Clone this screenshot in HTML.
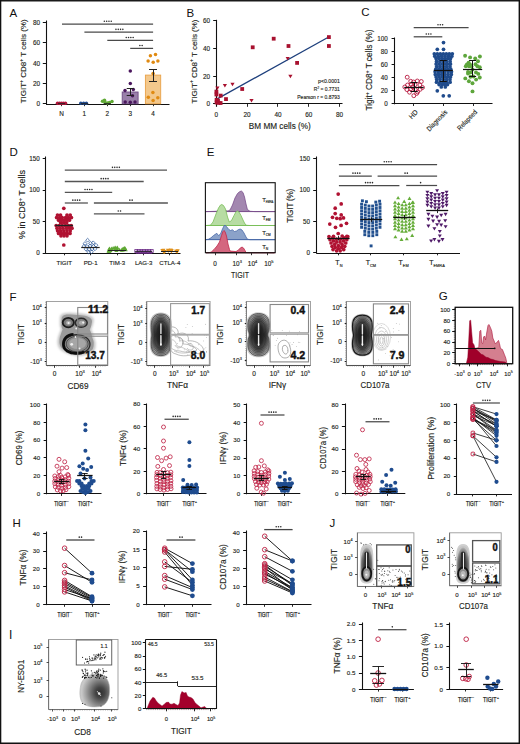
<!DOCTYPE html>
<html><head><meta charset="utf-8"><title>Figure</title>
<style>html,body{margin:0;padding:0;background:#fff;}body{width:520px;height:744px;overflow:hidden;font-family:"Liberation Sans", sans-serif;}svg{display:block;}svg text{stroke:#231f20;stroke-width:0.14px;}</style>
</head><body>
<svg width="520" height="744" viewBox="0 0 520 744" font-family='"Liberation Sans", sans-serif'><defs><filter id="bl1" x="-30%" y="-30%" width="160%" height="160%"><feGaussianBlur stdDeviation="1.2"/></filter><filter id="bl2" x="-30%" y="-30%" width="160%" height="160%"><feGaussianBlur stdDeviation="2.2"/></filter><filter id="bl05" x="-30%" y="-30%" width="160%" height="160%"><feGaussianBlur stdDeviation="0.5"/></filter><radialGradient id="dens" cx="50%" cy="50%" r="50%"><stop offset="0" stop-color="#151515"/><stop offset="0.45" stop-color="#262626"/><stop offset="0.68" stop-color="#484848"/><stop offset="0.84" stop-color="#707070"/><stop offset="0.95" stop-color="#8e8e8e"/><stop offset="1" stop-color="#a0a0a0"/></radialGradient><radialGradient id="halo" cx="50%" cy="50%" r="50%"><stop offset="0" stop-color="#999"/><stop offset="0.8" stop-color="#bbb"/><stop offset="1" stop-color="#fff" stop-opacity="0"/></radialGradient><radialGradient id="tdh" cx="50%" cy="58%" r="55%"><stop offset="0" stop-color="#2a2a2a"/><stop offset="0.45" stop-color="#444"/><stop offset="0.75" stop-color="#727272"/><stop offset="0.92" stop-color="#a0a0a0"/><stop offset="1" stop-color="#c4c4c4"/></radialGradient><radialGradient id="ig" cx="68%" cy="56%" r="62%" fx="68%" fy="57%"><stop offset="0" stop-color="#2e2e2e"/><stop offset="0.25" stop-color="#444"/><stop offset="0.55" stop-color="#7a7a7a"/><stop offset="0.8" stop-color="#a6a6a6"/><stop offset="1" stop-color="#c8c8c8"/></radialGradient></defs><rect x="0" y="0" width="520" height="744" fill="#fff"/><text x="9.60" y="16.88" font-size="11.5" fill="#111" style="stroke:none">A</text>
<line x1="46.50" y1="20.50" x2="46.50" y2="104.30" stroke="#111" stroke-width="1.1"/>
<line x1="42.80" y1="103.50" x2="46.00" y2="103.50" stroke="#111" stroke-width="0.9900000000000001"/>
<text x="40.00" y="106.07" font-size="6.4" text-anchor="end" fill="#231f20">0</text>
<line x1="42.80" y1="83.50" x2="46.00" y2="83.50" stroke="#111" stroke-width="0.9900000000000001"/>
<text x="40.00" y="85.79" font-size="6.4" text-anchor="end" fill="#231f20">20</text>
<line x1="42.80" y1="63.50" x2="46.00" y2="63.50" stroke="#111" stroke-width="0.9900000000000001"/>
<text x="40.00" y="65.51" font-size="6.4" text-anchor="end" fill="#231f20">40</text>
<line x1="42.80" y1="42.50" x2="46.00" y2="42.50" stroke="#111" stroke-width="0.9900000000000001"/>
<text x="40.00" y="45.23" font-size="6.4" text-anchor="end" fill="#231f20">60</text>
<line x1="42.80" y1="22.50" x2="46.00" y2="22.50" stroke="#111" stroke-width="0.9900000000000001"/>
<text x="40.00" y="24.95" font-size="6.4" text-anchor="end" fill="#231f20">80</text>
<line x1="46.00" y1="104.50" x2="169.50" y2="104.50" stroke="#111" stroke-width="1.1"/>
<line x1="61.50" y1="104.00" x2="61.50" y2="106.20" stroke="#111" stroke-width="0.8800000000000001"/>
<line x1="84.50" y1="104.00" x2="84.50" y2="106.20" stroke="#111" stroke-width="0.8800000000000001"/>
<line x1="107.50" y1="104.00" x2="107.50" y2="106.20" stroke="#111" stroke-width="0.8800000000000001"/>
<line x1="130.50" y1="104.00" x2="130.50" y2="106.20" stroke="#111" stroke-width="0.8800000000000001"/>
<line x1="153.50" y1="104.00" x2="153.50" y2="106.20" stroke="#111" stroke-width="0.8800000000000001"/>
<text x="61.50" y="116.07" font-size="6.4" text-anchor="middle" fill="#231f20">N</text>
<text x="84.40" y="116.07" font-size="6.4" text-anchor="middle" fill="#231f20">1</text>
<text x="107.30" y="116.07" font-size="6.4" text-anchor="middle" fill="#231f20">2</text>
<text x="130.20" y="116.07" font-size="6.4" text-anchor="middle" fill="#231f20">3</text>
<text x="153.10" y="116.07" font-size="6.4" text-anchor="middle" fill="#231f20">4</text>
<text x="0" y="0" font-size="7.9" text-anchor="middle" fill="#231f20" transform="translate(26.4 61.3) rotate(-90)" textLength="84" lengthAdjust="spacingAndGlyphs">TIGIT<tspan font-size="5" dy="-3.4">+</tspan><tspan dy="3.4"> CD8</tspan><tspan font-size="5" dy="-3.4">+</tspan><tspan dy="3.4"> T cells (%)</tspan></text>
<path d="M62.00 24.10 L153.10 24.10" fill="none" stroke="#4a4a4a" stroke-width="1.25"/>
<circle cx="104.35" cy="21.25" r="0.78" fill="#2a2a2a" stroke="none" stroke-width="1.0"/>
<circle cx="106.65" cy="21.25" r="0.78" fill="#2a2a2a" stroke="none" stroke-width="1.0"/>
<circle cx="108.95" cy="21.25" r="0.78" fill="#2a2a2a" stroke="none" stroke-width="1.0"/>
<circle cx="111.25" cy="21.25" r="0.78" fill="#2a2a2a" stroke="none" stroke-width="1.0"/>
<path d="M84.40 32.20 L153.10 32.20" fill="none" stroke="#4a4a4a" stroke-width="1.25"/>
<circle cx="115.95" cy="29.35" r="0.78" fill="#2a2a2a" stroke="none" stroke-width="1.0"/>
<circle cx="118.25" cy="29.35" r="0.78" fill="#2a2a2a" stroke="none" stroke-width="1.0"/>
<circle cx="120.55" cy="29.35" r="0.78" fill="#2a2a2a" stroke="none" stroke-width="1.0"/>
<circle cx="122.85" cy="29.35" r="0.78" fill="#2a2a2a" stroke="none" stroke-width="1.0"/>
<path d="M107.30 40.40 L153.10 40.40" fill="none" stroke="#4a4a4a" stroke-width="1.25"/>
<circle cx="126.25" cy="37.55" r="0.78" fill="#2a2a2a" stroke="none" stroke-width="1.0"/>
<circle cx="128.55" cy="37.55" r="0.78" fill="#2a2a2a" stroke="none" stroke-width="1.0"/>
<circle cx="130.85" cy="37.55" r="0.78" fill="#2a2a2a" stroke="none" stroke-width="1.0"/>
<circle cx="133.15" cy="37.55" r="0.78" fill="#2a2a2a" stroke="none" stroke-width="1.0"/>
<path d="M130.20 48.40 L153.10 48.40" fill="none" stroke="#4a4a4a" stroke-width="1.25"/>
<circle cx="139.85" cy="45.55" r="0.78" fill="#2a2a2a" stroke="none" stroke-width="1.0"/>
<circle cx="142.15" cy="45.55" r="0.78" fill="#2a2a2a" stroke="none" stroke-width="1.0"/>
<rect x="122.20" y="92.00" width="15.90" height="11.80" fill="#9a80aa" stroke="#6f4c86" stroke-width="0.9"/>
<rect x="145.40" y="75.10" width="15.30" height="28.70" fill="#f3c88c" stroke="#e9a247" stroke-width="0.9"/>
<circle cx="57.50" cy="103.20" r="1.75" fill="#b0153a" stroke="none" stroke-width="1.0"/>
<circle cx="59.50" cy="103.20" r="1.75" fill="#b0153a" stroke="none" stroke-width="1.0"/>
<circle cx="61.50" cy="103.20" r="1.75" fill="#b0153a" stroke="none" stroke-width="1.0"/>
<circle cx="63.50" cy="103.20" r="1.75" fill="#b0153a" stroke="none" stroke-width="1.0"/>
<circle cx="65.50" cy="103.20" r="1.75" fill="#b0153a" stroke="none" stroke-width="1.0"/>
<circle cx="80.80" cy="103.20" r="1.75" fill="#1f4b8e" stroke="none" stroke-width="1.0"/>
<circle cx="83.60" cy="103.20" r="1.75" fill="#1f4b8e" stroke="none" stroke-width="1.0"/>
<circle cx="86.40" cy="103.20" r="1.75" fill="#1f4b8e" stroke="none" stroke-width="1.0"/>
<circle cx="102.50" cy="101.30" r="1.75" fill="#5fa834" stroke="none" stroke-width="1.0"/>
<circle cx="105.00" cy="102.50" r="1.75" fill="#5fa834" stroke="none" stroke-width="1.0"/>
<circle cx="107.30" cy="103.00" r="1.75" fill="#5fa834" stroke="none" stroke-width="1.0"/>
<circle cx="109.50" cy="102.50" r="1.75" fill="#5fa834" stroke="none" stroke-width="1.0"/>
<circle cx="112.00" cy="101.50" r="1.75" fill="#5fa834" stroke="none" stroke-width="1.0"/>
<circle cx="104.50" cy="100.30" r="1.75" fill="#5fa834" stroke="none" stroke-width="1.0"/>
<circle cx="130.30" cy="70.90" r="1.75" fill="#4b175e" stroke="none" stroke-width="1.0"/>
<circle cx="130.30" cy="83.60" r="1.75" fill="#4b175e" stroke="none" stroke-width="1.0"/>
<circle cx="125.00" cy="90.60" r="1.75" fill="#4b175e" stroke="none" stroke-width="1.0"/>
<circle cx="133.30" cy="89.40" r="1.75" fill="#4b175e" stroke="none" stroke-width="1.0"/>
<circle cx="132.50" cy="95.70" r="1.75" fill="#4b175e" stroke="none" stroke-width="1.0"/>
<circle cx="125.20" cy="102.00" r="1.75" fill="#4b175e" stroke="none" stroke-width="1.0"/>
<circle cx="130.30" cy="102.30" r="1.75" fill="#4b175e" stroke="none" stroke-width="1.0"/>
<circle cx="135.00" cy="102.00" r="1.75" fill="#4b175e" stroke="none" stroke-width="1.0"/>
<circle cx="150.40" cy="55.70" r="1.75" fill="#e08a12" stroke="none" stroke-width="1.0"/>
<circle cx="155.50" cy="54.50" r="1.75" fill="#e08a12" stroke="none" stroke-width="1.0"/>
<circle cx="148.10" cy="61.00" r="1.75" fill="#e08a12" stroke="none" stroke-width="1.0"/>
<circle cx="153.20" cy="62.20" r="1.75" fill="#e08a12" stroke="none" stroke-width="1.0"/>
<circle cx="157.90" cy="60.90" r="1.75" fill="#e08a12" stroke="none" stroke-width="1.0"/>
<circle cx="153.10" cy="73.40" r="1.75" fill="#e08a12" stroke="none" stroke-width="1.0"/>
<circle cx="152.90" cy="92.60" r="1.75" fill="#e08a12" stroke="none" stroke-width="1.0"/>
<circle cx="148.30" cy="97.30" r="1.75" fill="#e08a12" stroke="none" stroke-width="1.0"/>
<circle cx="153.10" cy="100.50" r="1.75" fill="#e08a12" stroke="none" stroke-width="1.0"/>
<circle cx="157.80" cy="97.80" r="1.75" fill="#e08a12" stroke="none" stroke-width="1.0"/>
<line x1="130.50" y1="88.60" x2="130.50" y2="95.70" stroke="#222" stroke-width="1.0"/>
<line x1="126.70" y1="88.50" x2="133.90" y2="88.50" stroke="#222" stroke-width="1.0"/>
<line x1="126.70" y1="95.50" x2="133.90" y2="95.50" stroke="#222" stroke-width="1.0"/>
<line x1="153.50" y1="69.40" x2="153.50" y2="81.70" stroke="#222" stroke-width="1.0"/>
<line x1="149.00" y1="69.50" x2="157.00" y2="69.50" stroke="#222" stroke-width="1.0"/>
<line x1="149.00" y1="81.50" x2="157.00" y2="81.50" stroke="#222" stroke-width="1.0"/>
<line x1="58.00" y1="103.50" x2="65.00" y2="103.50" stroke="#222" stroke-width="0.8"/>
<line x1="80.90" y1="103.50" x2="87.90" y2="103.50" stroke="#222" stroke-width="0.8"/>
<line x1="103.80" y1="103.50" x2="110.80" y2="103.50" stroke="#222" stroke-width="0.8"/>
<text x="186.60" y="17.48" font-size="11.5" fill="#111" style="stroke:none">B</text>
<line x1="216.50" y1="19.80" x2="216.50" y2="106.80" stroke="#111" stroke-width="1.1"/>
<line x1="213.20" y1="103.50" x2="216.30" y2="103.50" stroke="#111" stroke-width="1.0"/>
<text x="210.10" y="106.17" font-size="6.4" text-anchor="end" fill="#231f20">0</text>
<line x1="213.20" y1="76.50" x2="216.30" y2="76.50" stroke="#111" stroke-width="1.0"/>
<text x="210.10" y="78.51" font-size="6.4" text-anchor="end" fill="#231f20">20</text>
<line x1="213.20" y1="48.50" x2="216.30" y2="48.50" stroke="#111" stroke-width="1.0"/>
<text x="210.10" y="50.84" font-size="6.4" text-anchor="end" fill="#231f20">40</text>
<line x1="213.20" y1="20.50" x2="216.30" y2="20.50" stroke="#111" stroke-width="1.0"/>
<text x="210.10" y="23.17" font-size="6.4" text-anchor="end" fill="#231f20">60</text>
<line x1="213.40" y1="103.50" x2="342.50" y2="103.50" stroke="#111" stroke-width="1.1"/>
<line x1="247.50" y1="103.90" x2="247.50" y2="106.80" stroke="#111" stroke-width="0.9"/>
<line x1="277.50" y1="103.90" x2="277.50" y2="106.80" stroke="#111" stroke-width="0.9"/>
<line x1="308.50" y1="103.90" x2="308.50" y2="106.80" stroke="#111" stroke-width="0.9"/>
<line x1="339.50" y1="103.90" x2="339.50" y2="106.80" stroke="#111" stroke-width="0.9"/>
<text x="216.30" y="116.67" font-size="6.4" text-anchor="middle" fill="#231f20">0</text>
<text x="247.12" y="116.67" font-size="6.4" text-anchor="middle" fill="#231f20">20</text>
<text x="277.94" y="116.67" font-size="6.4" text-anchor="middle" fill="#231f20">40</text>
<text x="308.76" y="116.67" font-size="6.4" text-anchor="middle" fill="#231f20">60</text>
<text x="339.58" y="116.67" font-size="6.4" text-anchor="middle" fill="#231f20">80</text>
<text x="279.80" y="128.55" font-size="8.3" text-anchor="middle" textLength="62" lengthAdjust="spacingAndGlyphs" fill="#231f20">BM MM cells (%)</text>
<text x="0" y="0" font-size="7.9" text-anchor="middle" fill="#231f20" transform="translate(196.6 61.5) rotate(-90)" textLength="84" lengthAdjust="spacingAndGlyphs">TIGIT<tspan font-size="5" dy="-3.4">+</tspan><tspan dy="3.4"> CD8</tspan><tspan font-size="5" dy="-3.4">+</tspan><tspan dy="3.4"> T cells (%)</tspan></text>
<path d="M216.8 99.1 L329.6 36.5" fill="none" stroke="#1d3f7c" stroke-width="1.3"/>
<rect x="271.80" y="36.80" width="3.80" height="3.80" fill="#a8112f" stroke="none" stroke-width="1.0"/>
<rect x="250.80" y="45.40" width="3.80" height="3.80" fill="#a8112f" stroke="none" stroke-width="1.0"/>
<rect x="286.60" y="44.10" width="3.80" height="3.80" fill="#a8112f" stroke="none" stroke-width="1.0"/>
<rect x="327.00" y="35.20" width="3.80" height="3.80" fill="#a8112f" stroke="none" stroke-width="1.0"/>
<rect x="327.00" y="44.10" width="3.80" height="3.80" fill="#a8112f" stroke="none" stroke-width="1.0"/>
<rect x="295.20" y="61.00" width="3.80" height="3.80" fill="#a8112f" stroke="none" stroke-width="1.0"/>
<rect x="240.30" y="87.10" width="3.80" height="3.80" fill="#a8112f" stroke="none" stroke-width="1.0"/>
<rect x="224.10" y="97.20" width="3.80" height="3.80" fill="#a8112f" stroke="none" stroke-width="1.0"/>
<rect x="218.80" y="93.70" width="3.80" height="3.80" fill="#a8112f" stroke="none" stroke-width="1.0"/>
<rect x="214.50" y="89.70" width="3.80" height="3.80" fill="#a8112f" stroke="none" stroke-width="1.0"/>
<rect x="214.50" y="92.60" width="3.80" height="3.80" fill="#a8112f" stroke="none" stroke-width="1.0"/>
<rect x="214.70" y="97.90" width="3.80" height="3.80" fill="#a8112f" stroke="none" stroke-width="1.0"/>
<rect x="214.70" y="100.60" width="3.80" height="3.80" fill="#a8112f" stroke="none" stroke-width="1.0"/>
<rect x="216.60" y="100.90" width="3.80" height="3.80" fill="#a8112f" stroke="none" stroke-width="1.0"/>
<rect x="218.70" y="101.10" width="3.80" height="3.80" fill="#a8112f" stroke="none" stroke-width="1.0"/>
<rect x="216.10" y="98.90" width="3.80" height="3.80" fill="#a8112f" stroke="none" stroke-width="1.0"/>
<path d="M215.30 86.60 L219.50 86.60 L217.40 90.10 Z" fill="#a8112f" stroke="none" stroke-width="1.0"/>
<path d="M222.80 84.00 L227.00 84.00 L224.90 87.50 Z" fill="#a8112f" stroke="none" stroke-width="1.0"/>
<path d="M230.40 82.70 L234.60 82.70 L232.50 86.20 Z" fill="#a8112f" stroke="none" stroke-width="1.0"/>
<path d="M285.60 57.00 L289.80 57.00 L287.70 60.50 Z" fill="#a8112f" stroke="none" stroke-width="1.0"/>
<path d="M288.30 74.80 L292.50 74.80 L290.40 78.30 Z" fill="#a8112f" stroke="none" stroke-width="1.0"/>
<path d="M249.40 99.00 L253.60 99.00 L251.50 102.50 Z" fill="#a8112f" stroke="none" stroke-width="1.0"/>
<text x="339.80" y="82.65" font-size="5.5" text-anchor="end" textLength="21.7" lengthAdjust="spacingAndGlyphs" fill="#231f20">p&lt;0.0001</text>
<text x="339.8" y="91.15" font-size="5.5" text-anchor="end" fill="#231f20" textLength="26" lengthAdjust="spacingAndGlyphs">R<tspan font-size="3.4" dy="-2.4">2</tspan><tspan dy="2.4"> = 0.7731</tspan></text>
<text x="339.80" y="99.45" font-size="5.5" text-anchor="end" textLength="42.5" lengthAdjust="spacingAndGlyphs" fill="#231f20">Pearson r = 0.8793</text>
<text x="361.20" y="16.28" font-size="11.5" fill="#111" style="stroke:none">C</text>
<line x1="394.50" y1="37.50" x2="394.50" y2="104.30" stroke="#111" stroke-width="1.1"/>
<line x1="391.60" y1="103.50" x2="394.70" y2="103.50" stroke="#111" stroke-width="1.0"/>
<text x="387.80" y="106.04" font-size="6.3" text-anchor="end" fill="#231f20">0</text>
<line x1="391.60" y1="90.50" x2="394.70" y2="90.50" stroke="#111" stroke-width="1.0"/>
<text x="387.80" y="93.02" font-size="6.3" text-anchor="end" fill="#231f20">20</text>
<line x1="391.60" y1="77.50" x2="394.70" y2="77.50" stroke="#111" stroke-width="1.0"/>
<text x="387.80" y="80.00" font-size="6.3" text-anchor="end" fill="#231f20">40</text>
<line x1="391.60" y1="64.50" x2="394.70" y2="64.50" stroke="#111" stroke-width="1.0"/>
<text x="387.80" y="66.98" font-size="6.3" text-anchor="end" fill="#231f20">60</text>
<line x1="391.60" y1="51.50" x2="394.70" y2="51.50" stroke="#111" stroke-width="1.0"/>
<text x="387.80" y="53.96" font-size="6.3" text-anchor="end" fill="#231f20">80</text>
<line x1="391.60" y1="38.50" x2="394.70" y2="38.50" stroke="#111" stroke-width="1.0"/>
<text x="387.80" y="40.94" font-size="6.3" text-anchor="end" fill="#231f20">100</text>
<line x1="394.70" y1="103.50" x2="492.50" y2="103.50" stroke="#111" stroke-width="1.1"/>
<line x1="413.50" y1="103.80" x2="413.50" y2="106.00" stroke="#111" stroke-width="0.9"/>
<line x1="443.50" y1="103.80" x2="443.50" y2="106.00" stroke="#111" stroke-width="0.9"/>
<line x1="473.50" y1="103.80" x2="473.50" y2="106.00" stroke="#111" stroke-width="0.9"/>
<text x="0" y="0" font-size="8.3" text-anchor="middle" fill="#231f20" transform="translate(372.2 70) rotate(-90)" textLength="81" lengthAdjust="spacingAndGlyphs">Tigit<tspan font-size="5" dy="-3.4">+</tspan><tspan dy="3.4"> CD8</tspan><tspan font-size="5" dy="-3.4">+</tspan><tspan dy="3.4"> T cells (%)</tspan></text>
<text x="0" y="0" font-size="6.9" text-anchor="end" fill="#231f20" transform="translate(418.30 112.60) rotate(-46)" textLength="9.6" lengthAdjust="spacingAndGlyphs">HD</text>
<text x="0" y="0" font-size="6.9" text-anchor="end" fill="#231f20" transform="translate(447.80 112.60) rotate(-46)" textLength="26.5" lengthAdjust="spacingAndGlyphs">Diagnosis</text>
<text x="0" y="0" font-size="6.9" text-anchor="end" fill="#231f20" transform="translate(477.60 112.60) rotate(-46)" textLength="25.5" lengthAdjust="spacingAndGlyphs">Relapsed</text>
<path d="M413.70 27.60 L468.60 27.60" fill="none" stroke="#4a4a4a" stroke-width="1.25"/>
<circle cx="438.00" cy="24.75" r="0.78" fill="#2a2a2a" stroke="none" stroke-width="1.0"/>
<circle cx="440.30" cy="24.75" r="0.78" fill="#2a2a2a" stroke="none" stroke-width="1.0"/>
<circle cx="442.60" cy="24.75" r="0.78" fill="#2a2a2a" stroke="none" stroke-width="1.0"/>
<path d="M413.70 36.80 L442.30 36.80" fill="none" stroke="#4a4a4a" stroke-width="1.25"/>
<circle cx="426.30" cy="33.95" r="0.78" fill="#2a2a2a" stroke="none" stroke-width="1.0"/>
<circle cx="428.60" cy="33.95" r="0.78" fill="#2a2a2a" stroke="none" stroke-width="1.0"/>
<circle cx="430.90" cy="33.95" r="0.78" fill="#2a2a2a" stroke="none" stroke-width="1.0"/>
<circle cx="407.20" cy="77.20" r="1.95" fill="none" stroke="#b81a40" stroke-width="0.9"/>
<circle cx="410.70" cy="81.30" r="1.95" fill="none" stroke="#b81a40" stroke-width="0.9"/>
<circle cx="417.30" cy="81.00" r="1.95" fill="none" stroke="#b81a40" stroke-width="0.9"/>
<circle cx="421.30" cy="81.50" r="1.95" fill="none" stroke="#b81a40" stroke-width="0.9"/>
<circle cx="407.50" cy="85.00" r="1.95" fill="none" stroke="#b81a40" stroke-width="0.9"/>
<circle cx="411.30" cy="84.40" r="1.95" fill="none" stroke="#b81a40" stroke-width="0.9"/>
<circle cx="415.00" cy="84.70" r="1.95" fill="none" stroke="#b81a40" stroke-width="0.9"/>
<circle cx="419.90" cy="85.00" r="1.95" fill="none" stroke="#b81a40" stroke-width="0.9"/>
<circle cx="406.90" cy="89.60" r="1.95" fill="none" stroke="#b81a40" stroke-width="0.9"/>
<circle cx="410.70" cy="89.00" r="1.95" fill="none" stroke="#b81a40" stroke-width="0.9"/>
<circle cx="415.30" cy="89.60" r="1.95" fill="none" stroke="#b81a40" stroke-width="0.9"/>
<circle cx="420.20" cy="89.30" r="1.95" fill="none" stroke="#b81a40" stroke-width="0.9"/>
<circle cx="409.50" cy="92.20" r="1.95" fill="none" stroke="#b81a40" stroke-width="0.9"/>
<circle cx="416.70" cy="93.40" r="1.95" fill="none" stroke="#b81a40" stroke-width="0.9"/>
<circle cx="413.80" cy="95.70" r="1.95" fill="none" stroke="#b81a40" stroke-width="0.9"/>
<circle cx="417.60" cy="91.90" r="1.95" fill="none" stroke="#b81a40" stroke-width="0.9"/>
<circle cx="413.50" cy="82.00" r="1.95" fill="none" stroke="#b81a40" stroke-width="0.9"/>
<circle cx="404.80" cy="87.00" r="1.95" fill="none" stroke="#b81a40" stroke-width="0.9"/>
<circle cx="422.50" cy="87.50" r="1.95" fill="none" stroke="#b81a40" stroke-width="0.9"/>
<circle cx="412.50" cy="87.00" r="1.95" fill="none" stroke="#b81a40" stroke-width="0.9"/>
<circle cx="443.50" cy="42.60" r="1.85" fill="#1f4b8c" stroke="none" stroke-width="1.0"/>
<circle cx="437.30" cy="49.30" r="1.85" fill="#1f4b8c" stroke="none" stroke-width="1.0"/>
<circle cx="443.50" cy="49.30" r="1.85" fill="#1f4b8c" stroke="none" stroke-width="1.0"/>
<circle cx="437.30" cy="90.80" r="1.85" fill="#1f4b8c" stroke="none" stroke-width="1.0"/>
<circle cx="443.30" cy="95.80" r="1.85" fill="#1f4b8c" stroke="none" stroke-width="1.0"/>
<circle cx="449.20" cy="95.80" r="1.85" fill="#1f4b8c" stroke="none" stroke-width="1.0"/>
<circle cx="434.30" cy="53.80" r="1.85" fill="#1f4b8c" stroke="none" stroke-width="1.0"/>
<circle cx="437.30" cy="53.80" r="1.85" fill="#1f4b8c" stroke="none" stroke-width="1.0"/>
<circle cx="440.30" cy="53.80" r="1.85" fill="#1f4b8c" stroke="none" stroke-width="1.0"/>
<circle cx="443.30" cy="53.80" r="1.85" fill="#1f4b8c" stroke="none" stroke-width="1.0"/>
<circle cx="446.30" cy="53.80" r="1.85" fill="#1f4b8c" stroke="none" stroke-width="1.0"/>
<circle cx="449.30" cy="53.80" r="1.85" fill="#1f4b8c" stroke="none" stroke-width="1.0"/>
<circle cx="452.30" cy="53.80" r="1.85" fill="#1f4b8c" stroke="none" stroke-width="1.0"/>
<circle cx="434.80" cy="56.20" r="1.85" fill="#1f4b8c" stroke="none" stroke-width="1.0"/>
<circle cx="438.20" cy="56.20" r="1.85" fill="#1f4b8c" stroke="none" stroke-width="1.0"/>
<circle cx="441.60" cy="56.20" r="1.85" fill="#1f4b8c" stroke="none" stroke-width="1.0"/>
<circle cx="445.00" cy="56.20" r="1.85" fill="#1f4b8c" stroke="none" stroke-width="1.0"/>
<circle cx="448.40" cy="56.20" r="1.85" fill="#1f4b8c" stroke="none" stroke-width="1.0"/>
<circle cx="451.80" cy="56.20" r="1.85" fill="#1f4b8c" stroke="none" stroke-width="1.0"/>
<circle cx="436.10" cy="58.60" r="1.85" fill="#1f4b8c" stroke="none" stroke-width="1.0"/>
<circle cx="438.98" cy="58.60" r="1.85" fill="#1f4b8c" stroke="none" stroke-width="1.0"/>
<circle cx="441.86" cy="58.60" r="1.85" fill="#1f4b8c" stroke="none" stroke-width="1.0"/>
<circle cx="444.74" cy="58.60" r="1.85" fill="#1f4b8c" stroke="none" stroke-width="1.0"/>
<circle cx="447.62" cy="58.60" r="1.85" fill="#1f4b8c" stroke="none" stroke-width="1.0"/>
<circle cx="450.50" cy="58.60" r="1.85" fill="#1f4b8c" stroke="none" stroke-width="1.0"/>
<circle cx="436.50" cy="61.40" r="1.85" fill="#1f4b8c" stroke="none" stroke-width="1.0"/>
<circle cx="439.90" cy="61.40" r="1.85" fill="#1f4b8c" stroke="none" stroke-width="1.0"/>
<circle cx="443.30" cy="61.40" r="1.85" fill="#1f4b8c" stroke="none" stroke-width="1.0"/>
<circle cx="446.70" cy="61.40" r="1.85" fill="#1f4b8c" stroke="none" stroke-width="1.0"/>
<circle cx="450.10" cy="61.40" r="1.85" fill="#1f4b8c" stroke="none" stroke-width="1.0"/>
<circle cx="436.10" cy="64.00" r="1.85" fill="#1f4b8c" stroke="none" stroke-width="1.0"/>
<circle cx="438.98" cy="64.00" r="1.85" fill="#1f4b8c" stroke="none" stroke-width="1.0"/>
<circle cx="441.86" cy="64.00" r="1.85" fill="#1f4b8c" stroke="none" stroke-width="1.0"/>
<circle cx="444.74" cy="64.00" r="1.85" fill="#1f4b8c" stroke="none" stroke-width="1.0"/>
<circle cx="447.62" cy="64.00" r="1.85" fill="#1f4b8c" stroke="none" stroke-width="1.0"/>
<circle cx="450.50" cy="64.00" r="1.85" fill="#1f4b8c" stroke="none" stroke-width="1.0"/>
<circle cx="436.70" cy="66.60" r="1.85" fill="#1f4b8c" stroke="none" stroke-width="1.0"/>
<circle cx="440.00" cy="66.60" r="1.85" fill="#1f4b8c" stroke="none" stroke-width="1.0"/>
<circle cx="443.30" cy="66.60" r="1.85" fill="#1f4b8c" stroke="none" stroke-width="1.0"/>
<circle cx="446.60" cy="66.60" r="1.85" fill="#1f4b8c" stroke="none" stroke-width="1.0"/>
<circle cx="449.90" cy="66.60" r="1.85" fill="#1f4b8c" stroke="none" stroke-width="1.0"/>
<circle cx="435.80" cy="69.20" r="1.85" fill="#1f4b8c" stroke="none" stroke-width="1.0"/>
<circle cx="438.80" cy="69.20" r="1.85" fill="#1f4b8c" stroke="none" stroke-width="1.0"/>
<circle cx="441.80" cy="69.20" r="1.85" fill="#1f4b8c" stroke="none" stroke-width="1.0"/>
<circle cx="444.80" cy="69.20" r="1.85" fill="#1f4b8c" stroke="none" stroke-width="1.0"/>
<circle cx="447.80" cy="69.20" r="1.85" fill="#1f4b8c" stroke="none" stroke-width="1.0"/>
<circle cx="450.80" cy="69.20" r="1.85" fill="#1f4b8c" stroke="none" stroke-width="1.0"/>
<circle cx="435.10" cy="71.80" r="1.85" fill="#1f4b8c" stroke="none" stroke-width="1.0"/>
<circle cx="438.38" cy="71.80" r="1.85" fill="#1f4b8c" stroke="none" stroke-width="1.0"/>
<circle cx="441.66" cy="71.80" r="1.85" fill="#1f4b8c" stroke="none" stroke-width="1.0"/>
<circle cx="444.94" cy="71.80" r="1.85" fill="#1f4b8c" stroke="none" stroke-width="1.0"/>
<circle cx="448.22" cy="71.80" r="1.85" fill="#1f4b8c" stroke="none" stroke-width="1.0"/>
<circle cx="451.50" cy="71.80" r="1.85" fill="#1f4b8c" stroke="none" stroke-width="1.0"/>
<circle cx="435.30" cy="74.40" r="1.85" fill="#1f4b8c" stroke="none" stroke-width="1.0"/>
<circle cx="438.50" cy="74.40" r="1.85" fill="#1f4b8c" stroke="none" stroke-width="1.0"/>
<circle cx="441.70" cy="74.40" r="1.85" fill="#1f4b8c" stroke="none" stroke-width="1.0"/>
<circle cx="444.90" cy="74.40" r="1.85" fill="#1f4b8c" stroke="none" stroke-width="1.0"/>
<circle cx="448.10" cy="74.40" r="1.85" fill="#1f4b8c" stroke="none" stroke-width="1.0"/>
<circle cx="451.30" cy="74.40" r="1.85" fill="#1f4b8c" stroke="none" stroke-width="1.0"/>
<circle cx="436.10" cy="77.00" r="1.85" fill="#1f4b8c" stroke="none" stroke-width="1.0"/>
<circle cx="438.98" cy="77.00" r="1.85" fill="#1f4b8c" stroke="none" stroke-width="1.0"/>
<circle cx="441.86" cy="77.00" r="1.85" fill="#1f4b8c" stroke="none" stroke-width="1.0"/>
<circle cx="444.74" cy="77.00" r="1.85" fill="#1f4b8c" stroke="none" stroke-width="1.0"/>
<circle cx="447.62" cy="77.00" r="1.85" fill="#1f4b8c" stroke="none" stroke-width="1.0"/>
<circle cx="450.50" cy="77.00" r="1.85" fill="#1f4b8c" stroke="none" stroke-width="1.0"/>
<circle cx="436.70" cy="79.60" r="1.85" fill="#1f4b8c" stroke="none" stroke-width="1.0"/>
<circle cx="440.00" cy="79.60" r="1.85" fill="#1f4b8c" stroke="none" stroke-width="1.0"/>
<circle cx="443.30" cy="79.60" r="1.85" fill="#1f4b8c" stroke="none" stroke-width="1.0"/>
<circle cx="446.60" cy="79.60" r="1.85" fill="#1f4b8c" stroke="none" stroke-width="1.0"/>
<circle cx="449.90" cy="79.60" r="1.85" fill="#1f4b8c" stroke="none" stroke-width="1.0"/>
<circle cx="436.50" cy="82.20" r="1.85" fill="#1f4b8c" stroke="none" stroke-width="1.0"/>
<circle cx="439.90" cy="82.20" r="1.85" fill="#1f4b8c" stroke="none" stroke-width="1.0"/>
<circle cx="443.30" cy="82.20" r="1.85" fill="#1f4b8c" stroke="none" stroke-width="1.0"/>
<circle cx="446.70" cy="82.20" r="1.85" fill="#1f4b8c" stroke="none" stroke-width="1.0"/>
<circle cx="450.10" cy="82.20" r="1.85" fill="#1f4b8c" stroke="none" stroke-width="1.0"/>
<circle cx="439.10" cy="84.60" r="1.85" fill="#1f4b8c" stroke="none" stroke-width="1.0"/>
<circle cx="441.90" cy="84.60" r="1.85" fill="#1f4b8c" stroke="none" stroke-width="1.0"/>
<circle cx="444.70" cy="84.60" r="1.85" fill="#1f4b8c" stroke="none" stroke-width="1.0"/>
<circle cx="447.50" cy="84.60" r="1.85" fill="#1f4b8c" stroke="none" stroke-width="1.0"/>
<circle cx="441.30" cy="87.00" r="1.85" fill="#1f4b8c" stroke="none" stroke-width="1.0"/>
<circle cx="445.30" cy="87.00" r="1.85" fill="#1f4b8c" stroke="none" stroke-width="1.0"/>
<circle cx="465.10" cy="55.70" r="1.95" fill="#5ea63c" stroke="none" stroke-width="1.0"/>
<circle cx="470.10" cy="57.40" r="1.95" fill="#5ea63c" stroke="none" stroke-width="1.0"/>
<circle cx="475.20" cy="58.50" r="1.95" fill="#5ea63c" stroke="none" stroke-width="1.0"/>
<circle cx="479.90" cy="56.50" r="1.95" fill="#5ea63c" stroke="none" stroke-width="1.0"/>
<circle cx="478.00" cy="61.20" r="1.95" fill="#5ea63c" stroke="none" stroke-width="1.0"/>
<circle cx="468.60" cy="62.70" r="1.95" fill="#5ea63c" stroke="none" stroke-width="1.0"/>
<circle cx="466.90" cy="64.50" r="1.95" fill="#5ea63c" stroke="none" stroke-width="1.0"/>
<circle cx="470.00" cy="64.50" r="1.95" fill="#5ea63c" stroke="none" stroke-width="1.0"/>
<circle cx="465.80" cy="66.30" r="1.95" fill="#5ea63c" stroke="none" stroke-width="1.0"/>
<circle cx="469.00" cy="66.30" r="1.95" fill="#5ea63c" stroke="none" stroke-width="1.0"/>
<circle cx="471.50" cy="66.30" r="1.95" fill="#5ea63c" stroke="none" stroke-width="1.0"/>
<circle cx="475.50" cy="64.20" r="1.95" fill="#5ea63c" stroke="none" stroke-width="1.0"/>
<circle cx="477.40" cy="66.30" r="1.95" fill="#5ea63c" stroke="none" stroke-width="1.0"/>
<circle cx="479.80" cy="67.20" r="1.95" fill="#5ea63c" stroke="none" stroke-width="1.0"/>
<circle cx="472.50" cy="69.50" r="1.95" fill="#5ea63c" stroke="none" stroke-width="1.0"/>
<circle cx="468.00" cy="72.00" r="1.95" fill="#5ea63c" stroke="none" stroke-width="1.0"/>
<circle cx="470.40" cy="72.40" r="1.95" fill="#5ea63c" stroke="none" stroke-width="1.0"/>
<circle cx="476.00" cy="72.40" r="1.95" fill="#5ea63c" stroke="none" stroke-width="1.0"/>
<circle cx="468.00" cy="73.60" r="1.95" fill="#5ea63c" stroke="none" stroke-width="1.0"/>
<circle cx="478.30" cy="73.90" r="1.95" fill="#5ea63c" stroke="none" stroke-width="1.0"/>
<circle cx="465.30" cy="78.40" r="1.95" fill="#5ea63c" stroke="none" stroke-width="1.0"/>
<circle cx="468.90" cy="81.20" r="1.95" fill="#5ea63c" stroke="none" stroke-width="1.0"/>
<circle cx="472.50" cy="83.30" r="1.95" fill="#5ea63c" stroke="none" stroke-width="1.0"/>
<circle cx="476.10" cy="79.60" r="1.95" fill="#5ea63c" stroke="none" stroke-width="1.0"/>
<circle cx="479.80" cy="77.50" r="1.95" fill="#5ea63c" stroke="none" stroke-width="1.0"/>
<circle cx="472.50" cy="91.40" r="1.95" fill="#5ea63c" stroke="none" stroke-width="1.0"/>
<circle cx="473.50" cy="76.50" r="1.95" fill="#5ea63c" stroke="none" stroke-width="1.0"/>
<circle cx="470.50" cy="76.80" r="1.95" fill="#5ea63c" stroke="none" stroke-width="1.0"/>
<line x1="404.30" y1="87.50" x2="423.70" y2="87.50" stroke="#111" stroke-width="1.2"/>
<line x1="414.50" y1="82.20" x2="414.50" y2="91.60" stroke="#111" stroke-width="1.0"/>
<line x1="410.50" y1="82.50" x2="417.50" y2="82.50" stroke="#111" stroke-width="1.0"/>
<line x1="410.50" y1="91.50" x2="417.50" y2="91.50" stroke="#111" stroke-width="1.0"/>
<line x1="433.80" y1="70.50" x2="452.80" y2="70.50" stroke="#111" stroke-width="1.2"/>
<line x1="443.50" y1="60.30" x2="443.50" y2="81.30" stroke="#111" stroke-width="1.0"/>
<line x1="439.80" y1="60.50" x2="446.80" y2="60.50" stroke="#111" stroke-width="1.0"/>
<line x1="439.80" y1="81.50" x2="446.80" y2="81.50" stroke="#111" stroke-width="1.0"/>
<line x1="463.00" y1="69.50" x2="482.20" y2="69.50" stroke="#111" stroke-width="1.2"/>
<line x1="472.50" y1="60.80" x2="472.50" y2="76.30" stroke="#111" stroke-width="1.0"/>
<line x1="469.10" y1="60.50" x2="476.10" y2="60.50" stroke="#111" stroke-width="1.0"/>
<line x1="469.10" y1="76.50" x2="476.10" y2="76.50" stroke="#111" stroke-width="1.0"/>
<text x="9.60" y="156.08" font-size="11.5" fill="#111" style="stroke:none">D</text>
<line x1="45.50" y1="156.50" x2="45.50" y2="253.60" stroke="#111" stroke-width="1.1"/>
<line x1="42.70" y1="253.50" x2="45.90" y2="253.50" stroke="#111" stroke-width="1.0"/>
<text x="39.70" y="255.34" font-size="6.3" text-anchor="end" fill="#231f20">0</text>
<line x1="42.70" y1="221.50" x2="45.90" y2="221.50" stroke="#111" stroke-width="1.0"/>
<text x="39.70" y="223.85" font-size="6.3" text-anchor="end" fill="#231f20">50</text>
<line x1="42.70" y1="190.50" x2="45.90" y2="190.50" stroke="#111" stroke-width="1.0"/>
<text x="39.70" y="192.37" font-size="6.3" text-anchor="end" fill="#231f20">100</text>
<line x1="42.70" y1="158.50" x2="45.90" y2="158.50" stroke="#111" stroke-width="1.0"/>
<text x="39.70" y="160.88" font-size="6.3" text-anchor="end" fill="#231f20">150</text>
<line x1="45.90" y1="253.50" x2="180.50" y2="253.50" stroke="#111" stroke-width="1.1"/>
<line x1="64.50" y1="253.10" x2="64.50" y2="255.30" stroke="#111" stroke-width="0.9"/>
<line x1="90.50" y1="253.10" x2="90.50" y2="255.30" stroke="#111" stroke-width="0.9"/>
<line x1="117.50" y1="253.10" x2="117.50" y2="255.30" stroke="#111" stroke-width="0.9"/>
<line x1="143.50" y1="253.10" x2="143.50" y2="255.30" stroke="#111" stroke-width="0.9"/>
<line x1="169.50" y1="253.10" x2="169.50" y2="255.30" stroke="#111" stroke-width="0.9"/>
<text x="64.20" y="265.37" font-size="6.1" text-anchor="middle" fill="#231f20">TIGIT</text>
<text x="90.60" y="265.37" font-size="6.1" text-anchor="middle" fill="#231f20">PD-1</text>
<text x="117.30" y="265.37" font-size="6.1" text-anchor="middle" fill="#231f20">TIM-3</text>
<text x="143.70" y="265.37" font-size="6.1" text-anchor="middle" fill="#231f20">LAG-3</text>
<text x="169.80" y="265.37" font-size="6.1" text-anchor="middle" fill="#231f20">CTLA-4</text>
<text x="0" y="0" font-size="8.3" text-anchor="middle" fill="#231f20" transform="translate(25 204.5) rotate(-90)" textLength="69" lengthAdjust="spacingAndGlyphs">% in CD8<tspan font-size="5" dy="-3.4">+</tspan><tspan dy="3.4"> T cells</tspan></text>
<path d="M64.8 170.2 L167 170.2" fill="none" stroke="#555" stroke-width="1.3"/>
<circle cx="112.45" cy="167.35" r="0.78" fill="#2a2a2a" stroke="none" stroke-width="1.0"/>
<circle cx="114.75" cy="167.35" r="0.78" fill="#2a2a2a" stroke="none" stroke-width="1.0"/>
<circle cx="117.05" cy="167.35" r="0.78" fill="#2a2a2a" stroke="none" stroke-width="1.0"/>
<circle cx="119.35" cy="167.35" r="0.78" fill="#2a2a2a" stroke="none" stroke-width="1.0"/>
<path d="M64.8 181.5 L143.7 181.5" fill="none" stroke="#555" stroke-width="1.3"/>
<circle cx="101.15" cy="178.65" r="0.78" fill="#2a2a2a" stroke="none" stroke-width="1.0"/>
<circle cx="103.45" cy="178.65" r="0.78" fill="#2a2a2a" stroke="none" stroke-width="1.0"/>
<circle cx="105.75" cy="178.65" r="0.78" fill="#2a2a2a" stroke="none" stroke-width="1.0"/>
<circle cx="108.05" cy="178.65" r="0.78" fill="#2a2a2a" stroke="none" stroke-width="1.0"/>
<path d="M64.8 192.3 L112.2 192.3" fill="none" stroke="#555" stroke-width="1.3"/>
<circle cx="85.05" cy="189.45" r="0.78" fill="#2a2a2a" stroke="none" stroke-width="1.0"/>
<circle cx="87.35" cy="189.45" r="0.78" fill="#2a2a2a" stroke="none" stroke-width="1.0"/>
<circle cx="89.65" cy="189.45" r="0.78" fill="#2a2a2a" stroke="none" stroke-width="1.0"/>
<circle cx="91.95" cy="189.45" r="0.78" fill="#2a2a2a" stroke="none" stroke-width="1.0"/>
<path d="M64.8 203.0 L87.9 203.0" fill="none" stroke="#555" stroke-width="1.3"/>
<circle cx="72.85" cy="200.15" r="0.78" fill="#2a2a2a" stroke="none" stroke-width="1.0"/>
<circle cx="75.15" cy="200.15" r="0.78" fill="#2a2a2a" stroke="none" stroke-width="1.0"/>
<circle cx="77.45" cy="200.15" r="0.78" fill="#2a2a2a" stroke="none" stroke-width="1.0"/>
<circle cx="79.75" cy="200.15" r="0.78" fill="#2a2a2a" stroke="none" stroke-width="1.0"/>
<path d="M93.9 203.0 L167.9 203.0" fill="none" stroke="#555" stroke-width="1.3"/>
<circle cx="129.85" cy="200.15" r="0.78" fill="#2a2a2a" stroke="none" stroke-width="1.0"/>
<circle cx="132.15" cy="200.15" r="0.78" fill="#2a2a2a" stroke="none" stroke-width="1.0"/>
<path d="M93.9 213.8 L144.5 213.8" fill="none" stroke="#555" stroke-width="1.3"/>
<circle cx="118.25" cy="210.95" r="0.78" fill="#2a2a2a" stroke="none" stroke-width="1.0"/>
<circle cx="120.55" cy="210.95" r="0.78" fill="#2a2a2a" stroke="none" stroke-width="1.0"/>
<circle cx="63.80" cy="208.30" r="1.85" fill="#b01232" stroke="none" stroke-width="1.0"/>
<circle cx="63.80" cy="245.00" r="1.85" fill="#b01232" stroke="none" stroke-width="1.0"/>
<circle cx="57.50" cy="215.00" r="1.85" fill="#b01232" stroke="none" stroke-width="1.0"/>
<circle cx="60.50" cy="215.00" r="1.85" fill="#b01232" stroke="none" stroke-width="1.0"/>
<circle cx="67.00" cy="215.00" r="1.85" fill="#b01232" stroke="none" stroke-width="1.0"/>
<circle cx="70.20" cy="215.00" r="1.85" fill="#b01232" stroke="none" stroke-width="1.0"/>
<circle cx="56.60" cy="217.60" r="1.85" fill="#b01232" stroke="none" stroke-width="1.0"/>
<circle cx="59.60" cy="217.60" r="1.85" fill="#b01232" stroke="none" stroke-width="1.0"/>
<circle cx="62.20" cy="217.60" r="1.85" fill="#b01232" stroke="none" stroke-width="1.0"/>
<circle cx="65.60" cy="217.60" r="1.85" fill="#b01232" stroke="none" stroke-width="1.0"/>
<circle cx="68.40" cy="217.60" r="1.85" fill="#b01232" stroke="none" stroke-width="1.0"/>
<circle cx="71.40" cy="217.60" r="1.85" fill="#b01232" stroke="none" stroke-width="1.0"/>
<circle cx="58.60" cy="220.20" r="1.85" fill="#b01232" stroke="none" stroke-width="1.0"/>
<circle cx="61.40" cy="220.20" r="1.85" fill="#b01232" stroke="none" stroke-width="1.0"/>
<circle cx="64.00" cy="220.20" r="1.85" fill="#b01232" stroke="none" stroke-width="1.0"/>
<circle cx="66.60" cy="220.20" r="1.85" fill="#b01232" stroke="none" stroke-width="1.0"/>
<circle cx="69.40" cy="220.20" r="1.85" fill="#b01232" stroke="none" stroke-width="1.0"/>
<circle cx="60.60" cy="222.60" r="1.85" fill="#b01232" stroke="none" stroke-width="1.0"/>
<circle cx="63.60" cy="222.60" r="1.85" fill="#b01232" stroke="none" stroke-width="1.0"/>
<circle cx="66.60" cy="222.60" r="1.85" fill="#b01232" stroke="none" stroke-width="1.0"/>
<circle cx="56.20" cy="225.60" r="1.85" fill="#b01232" stroke="none" stroke-width="1.0"/>
<circle cx="59.20" cy="225.60" r="1.85" fill="#b01232" stroke="none" stroke-width="1.0"/>
<circle cx="62.20" cy="225.60" r="1.85" fill="#b01232" stroke="none" stroke-width="1.0"/>
<circle cx="65.40" cy="225.60" r="1.85" fill="#b01232" stroke="none" stroke-width="1.0"/>
<circle cx="68.40" cy="225.60" r="1.85" fill="#b01232" stroke="none" stroke-width="1.0"/>
<circle cx="71.20" cy="225.60" r="1.85" fill="#b01232" stroke="none" stroke-width="1.0"/>
<circle cx="57.00" cy="228.20" r="1.85" fill="#b01232" stroke="none" stroke-width="1.0"/>
<circle cx="60.00" cy="228.20" r="1.85" fill="#b01232" stroke="none" stroke-width="1.0"/>
<circle cx="63.00" cy="228.20" r="1.85" fill="#b01232" stroke="none" stroke-width="1.0"/>
<circle cx="66.40" cy="228.20" r="1.85" fill="#b01232" stroke="none" stroke-width="1.0"/>
<circle cx="69.40" cy="228.20" r="1.85" fill="#b01232" stroke="none" stroke-width="1.0"/>
<circle cx="72.00" cy="228.20" r="1.85" fill="#b01232" stroke="none" stroke-width="1.0"/>
<circle cx="57.60" cy="230.80" r="1.85" fill="#b01232" stroke="none" stroke-width="1.0"/>
<circle cx="60.60" cy="230.80" r="1.85" fill="#b01232" stroke="none" stroke-width="1.0"/>
<circle cx="63.80" cy="230.80" r="1.85" fill="#b01232" stroke="none" stroke-width="1.0"/>
<circle cx="67.00" cy="230.80" r="1.85" fill="#b01232" stroke="none" stroke-width="1.0"/>
<circle cx="70.20" cy="230.80" r="1.85" fill="#b01232" stroke="none" stroke-width="1.0"/>
<circle cx="58.60" cy="233.40" r="1.85" fill="#b01232" stroke="none" stroke-width="1.0"/>
<circle cx="61.40" cy="233.40" r="1.85" fill="#b01232" stroke="none" stroke-width="1.0"/>
<circle cx="64.40" cy="233.40" r="1.85" fill="#b01232" stroke="none" stroke-width="1.0"/>
<circle cx="67.20" cy="233.40" r="1.85" fill="#b01232" stroke="none" stroke-width="1.0"/>
<circle cx="70.00" cy="233.40" r="1.85" fill="#b01232" stroke="none" stroke-width="1.0"/>
<circle cx="61.00" cy="235.80" r="1.85" fill="#b01232" stroke="none" stroke-width="1.0"/>
<circle cx="64.00" cy="235.80" r="1.85" fill="#b01232" stroke="none" stroke-width="1.0"/>
<circle cx="67.00" cy="235.80" r="1.85" fill="#b01232" stroke="none" stroke-width="1.0"/>
<line x1="55.30" y1="225.50" x2="73.00" y2="225.50" stroke="#222" stroke-width="1.3"/>
<path d="M87.60 238.30 L89.50 240.20 L87.60 242.10 L85.70 240.20 Z" fill="none" stroke="#2f5a9a" stroke-width="0.75"/>
<path d="M85.00 241.60 L86.90 243.50 L85.00 245.40 L83.10 243.50 Z" fill="none" stroke="#2f5a9a" stroke-width="0.75"/>
<path d="M90.50 241.30 L92.40 243.20 L90.50 245.10 L88.60 243.20 Z" fill="none" stroke="#2f5a9a" stroke-width="0.75"/>
<path d="M93.20 240.90 L95.10 242.80 L93.20 244.70 L91.30 242.80 Z" fill="none" stroke="#2f5a9a" stroke-width="0.75"/>
<path d="M84.00 244.30 L85.90 246.20 L84.00 248.10 L82.10 246.20 Z" fill="none" stroke="#2f5a9a" stroke-width="0.75"/>
<path d="M87.00 244.50 L88.90 246.40 L87.00 248.30 L85.10 246.40 Z" fill="none" stroke="#2f5a9a" stroke-width="0.75"/>
<path d="M90.00 244.10 L91.90 246.00 L90.00 247.90 L88.10 246.00 Z" fill="none" stroke="#2f5a9a" stroke-width="0.75"/>
<path d="M93.50 244.50 L95.40 246.40 L93.50 248.30 L91.60 246.40 Z" fill="none" stroke="#2f5a9a" stroke-width="0.75"/>
<path d="M96.00 243.30 L97.90 245.20 L96.00 247.10 L94.10 245.20 Z" fill="none" stroke="#2f5a9a" stroke-width="0.75"/>
<path d="M86.00 247.30 L87.90 249.20 L86.00 251.10 L84.10 249.20 Z" fill="none" stroke="#2f5a9a" stroke-width="0.75"/>
<path d="M89.00 247.50 L90.90 249.40 L89.00 251.30 L87.10 249.40 Z" fill="none" stroke="#2f5a9a" stroke-width="0.75"/>
<path d="M92.00 247.10 L93.90 249.00 L92.00 250.90 L90.10 249.00 Z" fill="none" stroke="#2f5a9a" stroke-width="0.75"/>
<path d="M95.00 246.90 L96.90 248.80 L95.00 250.70 L93.10 248.80 Z" fill="none" stroke="#2f5a9a" stroke-width="0.75"/>
<path d="M88.50 250.10 L90.40 252.00 L88.50 253.90 L86.60 252.00 Z" fill="none" stroke="#2f5a9a" stroke-width="0.75"/>
<path d="M91.50 249.90 L93.40 251.80 L91.50 253.70 L89.60 251.80 Z" fill="none" stroke="#2f5a9a" stroke-width="0.75"/>
<line x1="81.20" y1="247.50" x2="99.70" y2="247.50" stroke="#222" stroke-width="1.2"/>
<path d="M114.77 247.35 L116.77 250.95 L112.77 250.95 Z" fill="#5fa834" stroke="none" stroke-width="1.0"/>
<path d="M124.63 246.05 L126.63 249.65 L122.63 249.65 Z" fill="#5fa834" stroke="none" stroke-width="1.0"/>
<path d="M117.36 245.53 L119.36 249.13 L115.36 249.13 Z" fill="#5fa834" stroke="none" stroke-width="1.0"/>
<path d="M108.92 249.09 L110.92 252.69 L106.92 252.69 Z" fill="#5fa834" stroke="none" stroke-width="1.0"/>
<path d="M119.63 247.72 L121.63 251.32 L117.63 251.32 Z" fill="#5fa834" stroke="none" stroke-width="1.0"/>
<path d="M114.88 245.66 L116.88 249.26 L112.88 249.26 Z" fill="#5fa834" stroke="none" stroke-width="1.0"/>
<path d="M116.34 248.31 L118.34 251.91 L114.34 251.91 Z" fill="#5fa834" stroke="none" stroke-width="1.0"/>
<path d="M110.44 248.40 L112.44 252.00 L108.44 252.00 Z" fill="#5fa834" stroke="none" stroke-width="1.0"/>
<path d="M109.52 246.45 L111.52 250.05 L107.52 250.05 Z" fill="#5fa834" stroke="none" stroke-width="1.0"/>
<path d="M125.78 247.53 L127.78 251.13 L123.78 251.13 Z" fill="#5fa834" stroke="none" stroke-width="1.0"/>
<path d="M122.78 247.86 L124.78 251.46 L120.78 251.46 Z" fill="#5fa834" stroke="none" stroke-width="1.0"/>
<path d="M122.22 247.03 L124.22 250.63 L120.22 250.63 Z" fill="#5fa834" stroke="none" stroke-width="1.0"/>
<path d="M113.12 245.91 L115.12 249.51 L111.12 249.51 Z" fill="#5fa834" stroke="none" stroke-width="1.0"/>
<path d="M121.81 248.20 L123.81 251.80 L119.81 251.80 Z" fill="#5fa834" stroke="none" stroke-width="1.0"/>
<path d="M109.05 247.19 L111.05 250.79 L107.05 250.79 Z" fill="#5fa834" stroke="none" stroke-width="1.0"/>
<path d="M111.50 246.57 L113.50 250.17 L109.50 250.17 Z" fill="#5fa834" stroke="none" stroke-width="1.0"/>
<path d="M123.49 246.62 L125.49 250.22 L121.49 250.22 Z" fill="#5fa834" stroke="none" stroke-width="1.0"/>
<path d="M125.03 246.30 L127.03 249.90 L123.03 249.90 Z" fill="#5fa834" stroke="none" stroke-width="1.0"/>
<path d="M108.40 249.02 L110.40 252.62 L106.40 252.62 Z" fill="#5fa834" stroke="none" stroke-width="1.0"/>
<path d="M117.13 247.02 L119.13 250.62 L115.13 250.62 Z" fill="#5fa834" stroke="none" stroke-width="1.0"/>
<path d="M115.79 245.59 L117.79 249.19 L113.79 249.19 Z" fill="#5fa834" stroke="none" stroke-width="1.0"/>
<path d="M109.54 249.13 L111.54 252.73 L107.54 252.73 Z" fill="#5fa834" stroke="none" stroke-width="1.0"/>
<line x1="108.00" y1="250.50" x2="126.00" y2="250.50" stroke="#222" stroke-width="1.0"/>
<rect x="134.80" y="249.60" width="2.80" height="2.80" fill="none" stroke="#6a2a86" stroke-width="0.8"/>
<rect x="137.40" y="249.60" width="2.80" height="2.80" fill="none" stroke="#6a2a86" stroke-width="0.8"/>
<rect x="140.00" y="249.60" width="2.80" height="2.80" fill="none" stroke="#6a2a86" stroke-width="0.8"/>
<rect x="142.60" y="249.60" width="2.80" height="2.80" fill="none" stroke="#6a2a86" stroke-width="0.8"/>
<rect x="145.20" y="249.60" width="2.80" height="2.80" fill="none" stroke="#6a2a86" stroke-width="0.8"/>
<rect x="147.80" y="249.60" width="2.80" height="2.80" fill="none" stroke="#6a2a86" stroke-width="0.8"/>
<rect x="150.40" y="249.60" width="2.80" height="2.80" fill="none" stroke="#6a2a86" stroke-width="0.8"/>
<rect x="136.20" y="250.90" width="2.60" height="2.60" fill="none" stroke="#6a2a86" stroke-width="0.7"/>
<rect x="138.80" y="250.90" width="2.60" height="2.60" fill="none" stroke="#6a2a86" stroke-width="0.7"/>
<rect x="141.40" y="250.90" width="2.60" height="2.60" fill="none" stroke="#6a2a86" stroke-width="0.7"/>
<rect x="144.00" y="250.90" width="2.60" height="2.60" fill="none" stroke="#6a2a86" stroke-width="0.7"/>
<rect x="146.60" y="250.90" width="2.60" height="2.60" fill="none" stroke="#6a2a86" stroke-width="0.7"/>
<rect x="149.20" y="250.90" width="2.60" height="2.60" fill="none" stroke="#6a2a86" stroke-width="0.7"/>
<line x1="135.00" y1="251.50" x2="152.00" y2="251.50" stroke="#222" stroke-width="0.8"/>
<path d="M162.09 249.91 L166.09 249.91 L164.09 253.41 Z" fill="#e0901a" stroke="none" stroke-width="1.0"/>
<path d="M174.17 249.87 L178.17 249.87 L176.17 253.37 Z" fill="#e0901a" stroke="none" stroke-width="1.0"/>
<path d="M160.33 249.05 L164.33 249.05 L162.33 252.55 Z" fill="#e0901a" stroke="none" stroke-width="1.0"/>
<path d="M168.62 248.78 L172.62 248.78 L170.62 252.28 Z" fill="#e0901a" stroke="none" stroke-width="1.0"/>
<path d="M161.52 248.64 L165.52 248.64 L163.52 252.14 Z" fill="#e0901a" stroke="none" stroke-width="1.0"/>
<path d="M174.57 249.69 L178.57 249.69 L176.57 253.19 Z" fill="#e0901a" stroke="none" stroke-width="1.0"/>
<path d="M166.41 249.52 L170.41 249.52 L168.41 253.02 Z" fill="#e0901a" stroke="none" stroke-width="1.0"/>
<path d="M161.66 250.01 L165.66 250.01 L163.66 253.51 Z" fill="#e0901a" stroke="none" stroke-width="1.0"/>
<path d="M162.89 249.88 L166.89 249.88 L164.89 253.38 Z" fill="#e0901a" stroke="none" stroke-width="1.0"/>
<path d="M175.15 249.94 L179.15 249.94 L177.15 253.44 Z" fill="#e0901a" stroke="none" stroke-width="1.0"/>
<path d="M168.86 248.72 L172.86 248.72 L170.86 252.22 Z" fill="#e0901a" stroke="none" stroke-width="1.0"/>
<path d="M162.53 249.93 L166.53 249.93 L164.53 253.43 Z" fill="#e0901a" stroke="none" stroke-width="1.0"/>
<path d="M175.72 249.19 L179.72 249.19 L177.72 252.69 Z" fill="#e0901a" stroke="none" stroke-width="1.0"/>
<path d="M162.09 250.80 L166.09 250.80 L164.09 254.30 Z" fill="#e0901a" stroke="none" stroke-width="1.0"/>
<path d="M175.03 250.15 L179.03 250.15 L177.03 253.65 Z" fill="#e0901a" stroke="none" stroke-width="1.0"/>
<path d="M169.73 249.12 L173.73 249.12 L171.73 252.62 Z" fill="#e0901a" stroke="none" stroke-width="1.0"/>
<path d="M165.91 248.69 L169.91 248.69 L167.91 252.19 Z" fill="#e0901a" stroke="none" stroke-width="1.0"/>
<path d="M169.41 250.08 L173.41 250.08 L171.41 253.58 Z" fill="#e0901a" stroke="none" stroke-width="1.0"/>
<line x1="161.00" y1="251.50" x2="178.00" y2="251.50" stroke="#222" stroke-width="1.0"/>
<text x="206.80" y="155.78" font-size="11.5" fill="#111" style="stroke:none">E</text>
<path d="M206.00 211.60 L206.00 211.60 L216.00 211.30 L219.00 210.60 L221.80 209.50 L224.00 210.50 L228.00 211.00 L230.00 210.00 L232.50 205.00 L235.00 198.00 L237.50 193.50 L239.50 191.80 L241.30 191.00 L243.00 192.50 L244.50 197.00 L246.00 204.00 L247.40 209.50 L250.00 211.30 L255.00 211.60 L275.00 211.60 L275.00 211.60 Z" fill="#a387b0" stroke="#7a4f8c" stroke-width="0.8"/>
<line x1="205.40" y1="211.50" x2="275.20" y2="211.50" stroke="#7a4f8c" stroke-width="0.9"/>
<path d="M206.00 225.50 L206.00 225.50 L210.40 225.20 L213.00 222.00 L216.00 214.00 L218.50 208.00 L220.50 205.00 L221.80 204.50 L223.50 205.50 L225.50 209.00 L227.50 217.00 L229.30 222.00 L231.50 220.50 L234.00 215.50 L236.00 211.80 L237.40 211.00 L239.00 212.00 L241.00 215.50 L243.00 220.00 L245.00 224.00 L246.70 225.30 L250.00 225.50 L275.00 225.50 L275.00 225.50 Z" fill="#b7dca3" stroke="#79be58" stroke-width="0.8"/>
<line x1="205.40" y1="225.50" x2="275.20" y2="225.50" stroke="#79be58" stroke-width="0.9"/>
<path d="M206.00 239.70 L206.00 239.70 L208.50 239.20 L211.00 237.80 L213.50 235.50 L216.80 233.30 L218.50 235.50 L220.50 234.00 L222.50 229.00 L224.00 225.80 L225.00 225.20 L226.50 226.50 L228.50 229.20 L230.50 230.50 L232.40 229.80 L234.50 231.50 L236.50 231.00 L238.50 229.50 L240.30 229.10 L242.00 230.00 L244.00 233.00 L246.00 237.00 L247.50 239.20 L250.00 239.70 L275.00 239.70 L275.00 239.70 Z" fill="#8ba2c9" stroke="#4a6aa8" stroke-width="0.8"/>
<line x1="205.40" y1="239.50" x2="275.20" y2="239.50" stroke="#4a6aa8" stroke-width="0.9"/>
<path d="M206.00 252.70 L206.00 252.70 L209.00 252.60 L211.10 252.20 L214.00 249.50 L217.00 246.00 L219.50 242.00 L221.50 235.50 L223.00 231.50 L223.90 230.50 L225.00 231.50 L226.50 236.00 L228.00 244.00 L229.50 249.50 L230.30 251.10 L233.00 251.30 L236.00 251.60 L238.50 250.00 L240.50 247.80 L242.10 247.10 L243.50 248.00 L245.00 250.50 L246.00 252.50 L250.00 252.70 L275.00 252.70 L275.00 252.70 Z" fill="#d4667f" stroke="#c0284a" stroke-width="0.8"/>
<line x1="205.40" y1="252.50" x2="275.20" y2="252.50" stroke="#c0284a" stroke-width="0.9"/>
<rect x="205.40" y="182.70" width="69.80" height="70.00" fill="none" stroke="#111" stroke-width="1.1"/>
<text x="262.2" y="202.00" font-size="6.0" fill="#231f20">T</text>
<text x="265.7" y="203.10" font-size="3.1" fill="#231f20" textLength="7.6" lengthAdjust="spacingAndGlyphs">EMRA</text>
<text x="262.2" y="219.50" font-size="6.0" fill="#231f20">T</text>
<text x="265.7" y="220.60" font-size="3.1" fill="#231f20" textLength="4.8" lengthAdjust="spacingAndGlyphs">EM</text>
<text x="262.2" y="235.30" font-size="6.0" fill="#231f20">T</text>
<text x="265.7" y="236.40" font-size="3.1" fill="#231f20" textLength="4.8" lengthAdjust="spacingAndGlyphs">CM</text>
<text x="262.2" y="249.30" font-size="6.0" fill="#231f20">T</text>
<text x="265.7" y="250.40" font-size="3.1" fill="#231f20" textLength="2.4" lengthAdjust="spacingAndGlyphs">N</text>
<line x1="207.00" y1="252.70" x2="207.00" y2="254.00" stroke="#333" stroke-width="0.5"/>
<line x1="209.00" y1="252.70" x2="209.00" y2="254.00" stroke="#333" stroke-width="0.5"/>
<line x1="211.00" y1="252.70" x2="211.00" y2="254.00" stroke="#333" stroke-width="0.5"/>
<line x1="213.00" y1="252.70" x2="213.00" y2="254.00" stroke="#333" stroke-width="0.5"/>
<line x1="215.00" y1="252.70" x2="215.00" y2="254.00" stroke="#333" stroke-width="0.5"/>
<line x1="217.00" y1="252.70" x2="217.00" y2="254.00" stroke="#333" stroke-width="0.5"/>
<line x1="219.00" y1="252.70" x2="219.00" y2="254.00" stroke="#333" stroke-width="0.5"/>
<line x1="221.00" y1="252.70" x2="221.00" y2="254.00" stroke="#333" stroke-width="0.5"/>
<line x1="223.00" y1="252.70" x2="223.00" y2="254.00" stroke="#333" stroke-width="0.5"/>
<line x1="225.00" y1="252.70" x2="225.00" y2="254.00" stroke="#333" stroke-width="0.5"/>
<line x1="227.00" y1="252.70" x2="227.00" y2="254.00" stroke="#333" stroke-width="0.5"/>
<line x1="229.00" y1="252.70" x2="229.00" y2="254.00" stroke="#333" stroke-width="0.5"/>
<line x1="231.00" y1="252.70" x2="231.00" y2="254.00" stroke="#333" stroke-width="0.5"/>
<line x1="233.00" y1="252.70" x2="233.00" y2="254.00" stroke="#333" stroke-width="0.5"/>
<line x1="235.00" y1="252.70" x2="235.00" y2="254.00" stroke="#333" stroke-width="0.5"/>
<line x1="237.00" y1="252.70" x2="237.00" y2="254.00" stroke="#333" stroke-width="0.5"/>
<line x1="239.00" y1="252.70" x2="239.00" y2="254.00" stroke="#333" stroke-width="0.5"/>
<line x1="241.00" y1="252.70" x2="241.00" y2="254.00" stroke="#333" stroke-width="0.5"/>
<line x1="243.00" y1="252.70" x2="243.00" y2="254.00" stroke="#333" stroke-width="0.5"/>
<line x1="245.00" y1="252.70" x2="245.00" y2="254.00" stroke="#333" stroke-width="0.5"/>
<line x1="247.00" y1="252.70" x2="247.00" y2="254.00" stroke="#333" stroke-width="0.5"/>
<line x1="249.00" y1="252.70" x2="249.00" y2="254.00" stroke="#333" stroke-width="0.5"/>
<line x1="251.00" y1="252.70" x2="251.00" y2="254.00" stroke="#333" stroke-width="0.5"/>
<line x1="253.00" y1="252.70" x2="253.00" y2="254.00" stroke="#333" stroke-width="0.5"/>
<line x1="255.00" y1="252.70" x2="255.00" y2="254.00" stroke="#333" stroke-width="0.5"/>
<line x1="257.00" y1="252.70" x2="257.00" y2="254.00" stroke="#333" stroke-width="0.5"/>
<line x1="259.00" y1="252.70" x2="259.00" y2="254.00" stroke="#333" stroke-width="0.5"/>
<line x1="261.00" y1="252.70" x2="261.00" y2="254.00" stroke="#333" stroke-width="0.5"/>
<line x1="263.00" y1="252.70" x2="263.00" y2="254.00" stroke="#333" stroke-width="0.5"/>
<line x1="265.00" y1="252.70" x2="265.00" y2="254.00" stroke="#333" stroke-width="0.5"/>
<line x1="267.00" y1="252.70" x2="267.00" y2="254.00" stroke="#333" stroke-width="0.5"/>
<line x1="269.00" y1="252.70" x2="269.00" y2="254.00" stroke="#333" stroke-width="0.5"/>
<line x1="271.00" y1="252.70" x2="271.00" y2="254.00" stroke="#333" stroke-width="0.5"/>
<line x1="273.00" y1="252.70" x2="273.00" y2="254.00" stroke="#333" stroke-width="0.5"/>
<line x1="215.50" y1="252.70" x2="215.50" y2="255.20" stroke="#222" stroke-width="0.9"/>
<line x1="236.50" y1="252.70" x2="236.50" y2="255.20" stroke="#222" stroke-width="0.9"/>
<line x1="251.50" y1="252.70" x2="251.50" y2="255.20" stroke="#222" stroke-width="0.9"/>
<line x1="267.50" y1="252.70" x2="267.50" y2="255.20" stroke="#222" stroke-width="0.9"/>
<text x="215.00" y="265.97" font-size="6.4" text-anchor="middle" fill="#231f20">0</text>
<text x="237.22" y="265.97" font-size="6.4" text-anchor="middle" fill="#231f20">10<tspan font-size="3.97" dy="-2.88">3</tspan></text>
<text x="252.52" y="265.97" font-size="6.4" text-anchor="middle" fill="#231f20">10<tspan font-size="3.97" dy="-2.88">4</tspan></text>
<text x="268.92" y="265.97" font-size="6.4" text-anchor="middle" fill="#231f20">10<tspan font-size="3.97" dy="-2.88">5</tspan></text>
<text x="240.00" y="278.08" font-size="8.4" text-anchor="middle" textLength="18" lengthAdjust="spacingAndGlyphs" fill="#231f20">TIGIT</text>
<line x1="316.50" y1="156.50" x2="316.50" y2="253.40" stroke="#111" stroke-width="1.1"/>
<line x1="313.20" y1="252.50" x2="316.30" y2="252.50" stroke="#111" stroke-width="1.0"/>
<text x="310.00" y="255.14" font-size="6.3" text-anchor="end" fill="#231f20">0</text>
<line x1="313.20" y1="221.50" x2="316.30" y2="221.50" stroke="#111" stroke-width="1.0"/>
<text x="310.00" y="223.72" font-size="6.3" text-anchor="end" fill="#231f20">50</text>
<line x1="313.20" y1="190.50" x2="316.30" y2="190.50" stroke="#111" stroke-width="1.0"/>
<text x="310.00" y="192.31" font-size="6.3" text-anchor="end" fill="#231f20">100</text>
<line x1="313.20" y1="158.50" x2="316.30" y2="158.50" stroke="#111" stroke-width="1.0"/>
<text x="310.00" y="160.89" font-size="6.3" text-anchor="end" fill="#231f20">150</text>
<line x1="316.30" y1="253.50" x2="460.00" y2="253.50" stroke="#111" stroke-width="1.1"/>
<line x1="338.50" y1="253.10" x2="338.50" y2="255.30" stroke="#111" stroke-width="0.9"/>
<line x1="370.50" y1="253.10" x2="370.50" y2="255.30" stroke="#111" stroke-width="0.9"/>
<line x1="403.50" y1="253.10" x2="403.50" y2="255.30" stroke="#111" stroke-width="0.9"/>
<line x1="437.50" y1="253.10" x2="437.50" y2="255.30" stroke="#111" stroke-width="0.9"/>
<text x="338.90" y="265.40" font-size="7.0" text-anchor="middle" fill="#231f20">T<tspan font-size="3.9" dy="1.4">N</tspan></text>
<text x="370.80" y="265.40" font-size="7.0" text-anchor="middle" fill="#231f20">T<tspan font-size="3.9" dy="1.4">CM</tspan></text>
<text x="403.60" y="265.40" font-size="7.0" text-anchor="middle" fill="#231f20">T<tspan font-size="3.9" dy="1.4">EM</tspan></text>
<text x="437.00" y="265.40" font-size="7.0" text-anchor="middle" fill="#231f20">T<tspan font-size="3.9" dy="1.4">EMRA</tspan></text>
<text x="0" y="0" font-size="8.3" text-anchor="middle" fill="#231f20" transform="translate(293 205.7) rotate(-90)" textLength="34">TIGIT (%)</text>
<path d="M338.90 164.60 L437.10 164.60" fill="none" stroke="#4a4a4a" stroke-width="1.25"/>
<circle cx="384.25" cy="161.75" r="0.78" fill="#2a2a2a" stroke="none" stroke-width="1.0"/>
<circle cx="386.55" cy="161.75" r="0.78" fill="#2a2a2a" stroke="none" stroke-width="1.0"/>
<circle cx="388.85" cy="161.75" r="0.78" fill="#2a2a2a" stroke="none" stroke-width="1.0"/>
<circle cx="391.15" cy="161.75" r="0.78" fill="#2a2a2a" stroke="none" stroke-width="1.0"/>
<path d="M338.90 176.00 L371.80 176.00" fill="none" stroke="#4a4a4a" stroke-width="1.25"/>
<circle cx="352.95" cy="173.15" r="0.78" fill="#2a2a2a" stroke="none" stroke-width="1.0"/>
<circle cx="355.25" cy="173.15" r="0.78" fill="#2a2a2a" stroke="none" stroke-width="1.0"/>
<circle cx="357.55" cy="173.15" r="0.78" fill="#2a2a2a" stroke="none" stroke-width="1.0"/>
<circle cx="359.85" cy="173.15" r="0.78" fill="#2a2a2a" stroke="none" stroke-width="1.0"/>
<path d="M377.60 176.00 L437.10 176.00" fill="none" stroke="#4a4a4a" stroke-width="1.25"/>
<circle cx="405.05" cy="173.15" r="0.78" fill="#2a2a2a" stroke="none" stroke-width="1.0"/>
<circle cx="407.35" cy="173.15" r="0.78" fill="#2a2a2a" stroke="none" stroke-width="1.0"/>
<path d="M338.90 185.50 L399.40 185.50" fill="none" stroke="#4a4a4a" stroke-width="1.25"/>
<circle cx="365.55" cy="182.65" r="0.78" fill="#2a2a2a" stroke="none" stroke-width="1.0"/>
<circle cx="367.85" cy="182.65" r="0.78" fill="#2a2a2a" stroke="none" stroke-width="1.0"/>
<circle cx="370.15" cy="182.65" r="0.78" fill="#2a2a2a" stroke="none" stroke-width="1.0"/>
<circle cx="372.45" cy="182.65" r="0.78" fill="#2a2a2a" stroke="none" stroke-width="1.0"/>
<path d="M406.20 185.50 L437.10 185.50" fill="none" stroke="#4a4a4a" stroke-width="1.25"/>
<circle cx="420.60" cy="182.65" r="0.78" fill="#2a2a2a" stroke="none" stroke-width="1.0"/>
<circle cx="338.20" cy="194.10" r="1.85" fill="#b01232" stroke="none" stroke-width="1.0"/>
<circle cx="341.20" cy="203.90" r="1.85" fill="#b01232" stroke="none" stroke-width="1.0"/>
<circle cx="335.20" cy="208.20" r="1.85" fill="#b01232" stroke="none" stroke-width="1.0"/>
<circle cx="335.20" cy="213.60" r="1.85" fill="#b01232" stroke="none" stroke-width="1.0"/>
<circle cx="341.20" cy="214.90" r="1.85" fill="#b01232" stroke="none" stroke-width="1.0"/>
<circle cx="332.50" cy="217.30" r="1.85" fill="#b01232" stroke="none" stroke-width="1.0"/>
<circle cx="336.80" cy="218.30" r="1.85" fill="#b01232" stroke="none" stroke-width="1.0"/>
<circle cx="340.20" cy="218.70" r="1.85" fill="#b01232" stroke="none" stroke-width="1.0"/>
<circle cx="343.50" cy="217.90" r="1.85" fill="#b01232" stroke="none" stroke-width="1.0"/>
<circle cx="329.80" cy="224.10" r="1.85" fill="#b01232" stroke="none" stroke-width="1.0"/>
<circle cx="335.50" cy="227.30" r="1.85" fill="#b01232" stroke="none" stroke-width="1.0"/>
<circle cx="341.10" cy="225.40" r="1.85" fill="#b01232" stroke="none" stroke-width="1.0"/>
<circle cx="346.50" cy="223.30" r="1.85" fill="#b01232" stroke="none" stroke-width="1.0"/>
<circle cx="338.20" cy="233.50" r="1.85" fill="#b01232" stroke="none" stroke-width="1.0"/>
<circle cx="333.50" cy="236.30" r="1.85" fill="#b01232" stroke="none" stroke-width="1.0"/>
<circle cx="342.20" cy="236.00" r="1.85" fill="#b01232" stroke="none" stroke-width="1.0"/>
<circle cx="346.80" cy="236.30" r="1.85" fill="#b01232" stroke="none" stroke-width="1.0"/>
<circle cx="329.00" cy="236.51" r="1.85" fill="#b01232" stroke="none" stroke-width="1.0"/>
<circle cx="332.76" cy="237.83" r="1.85" fill="#b01232" stroke="none" stroke-width="1.0"/>
<circle cx="336.52" cy="239.14" r="1.85" fill="#b01232" stroke="none" stroke-width="1.0"/>
<circle cx="340.28" cy="239.14" r="1.85" fill="#b01232" stroke="none" stroke-width="1.0"/>
<circle cx="344.04" cy="237.83" r="1.85" fill="#b01232" stroke="none" stroke-width="1.0"/>
<circle cx="347.79" cy="236.51" r="1.85" fill="#b01232" stroke="none" stroke-width="1.0"/>
<circle cx="330.02" cy="239.77" r="1.85" fill="#b01232" stroke="none" stroke-width="1.0"/>
<circle cx="333.37" cy="240.94" r="1.85" fill="#b01232" stroke="none" stroke-width="1.0"/>
<circle cx="336.72" cy="242.11" r="1.85" fill="#b01232" stroke="none" stroke-width="1.0"/>
<circle cx="340.08" cy="242.11" r="1.85" fill="#b01232" stroke="none" stroke-width="1.0"/>
<circle cx="343.43" cy="240.94" r="1.85" fill="#b01232" stroke="none" stroke-width="1.0"/>
<circle cx="346.78" cy="239.77" r="1.85" fill="#b01232" stroke="none" stroke-width="1.0"/>
<circle cx="331.03" cy="243.02" r="1.85" fill="#b01232" stroke="none" stroke-width="1.0"/>
<circle cx="334.72" cy="244.31" r="1.85" fill="#b01232" stroke="none" stroke-width="1.0"/>
<circle cx="338.40" cy="245.60" r="1.85" fill="#b01232" stroke="none" stroke-width="1.0"/>
<circle cx="342.08" cy="244.31" r="1.85" fill="#b01232" stroke="none" stroke-width="1.0"/>
<circle cx="345.76" cy="243.02" r="1.85" fill="#b01232" stroke="none" stroke-width="1.0"/>
<circle cx="332.05" cy="246.28" r="1.85" fill="#b01232" stroke="none" stroke-width="1.0"/>
<circle cx="335.23" cy="247.39" r="1.85" fill="#b01232" stroke="none" stroke-width="1.0"/>
<circle cx="338.40" cy="248.50" r="1.85" fill="#b01232" stroke="none" stroke-width="1.0"/>
<circle cx="341.57" cy="247.39" r="1.85" fill="#b01232" stroke="none" stroke-width="1.0"/>
<circle cx="344.75" cy="246.28" r="1.85" fill="#b01232" stroke="none" stroke-width="1.0"/>
<circle cx="333.06" cy="249.53" r="1.85" fill="#b01232" stroke="none" stroke-width="1.0"/>
<circle cx="336.62" cy="250.78" r="1.85" fill="#b01232" stroke="none" stroke-width="1.0"/>
<circle cx="340.18" cy="250.78" r="1.85" fill="#b01232" stroke="none" stroke-width="1.0"/>
<circle cx="343.73" cy="249.53" r="1.85" fill="#b01232" stroke="none" stroke-width="1.0"/>
<rect x="360.95" y="199.35" width="2.90" height="2.90" fill="#22508f" stroke="none" stroke-width="1.0"/>
<rect x="364.95" y="200.25" width="2.90" height="2.90" fill="#22508f" stroke="none" stroke-width="1.0"/>
<rect x="374.35" y="200.65" width="2.90" height="2.90" fill="#22508f" stroke="none" stroke-width="1.0"/>
<rect x="378.15" y="199.75" width="2.90" height="2.90" fill="#22508f" stroke="none" stroke-width="1.0"/>
<rect x="369.65" y="244.45" width="2.90" height="2.90" fill="#22508f" stroke="none" stroke-width="1.0"/>
<rect x="360.15" y="202.75" width="2.90" height="2.90" fill="#22508f" stroke="none" stroke-width="1.0"/>
<rect x="363.83" y="203.67" width="2.90" height="2.90" fill="#22508f" stroke="none" stroke-width="1.0"/>
<rect x="367.51" y="204.59" width="2.90" height="2.90" fill="#22508f" stroke="none" stroke-width="1.0"/>
<rect x="371.19" y="204.59" width="2.90" height="2.90" fill="#22508f" stroke="none" stroke-width="1.0"/>
<rect x="374.87" y="203.67" width="2.90" height="2.90" fill="#22508f" stroke="none" stroke-width="1.0"/>
<rect x="378.55" y="202.75" width="2.90" height="2.90" fill="#22508f" stroke="none" stroke-width="1.0"/>
<rect x="360.15" y="206.05" width="2.90" height="2.90" fill="#22508f" stroke="none" stroke-width="1.0"/>
<rect x="363.83" y="206.97" width="2.90" height="2.90" fill="#22508f" stroke="none" stroke-width="1.0"/>
<rect x="367.51" y="207.89" width="2.90" height="2.90" fill="#22508f" stroke="none" stroke-width="1.0"/>
<rect x="371.19" y="207.89" width="2.90" height="2.90" fill="#22508f" stroke="none" stroke-width="1.0"/>
<rect x="374.87" y="206.97" width="2.90" height="2.90" fill="#22508f" stroke="none" stroke-width="1.0"/>
<rect x="378.55" y="206.05" width="2.90" height="2.90" fill="#22508f" stroke="none" stroke-width="1.0"/>
<rect x="360.15" y="209.35" width="2.90" height="2.90" fill="#22508f" stroke="none" stroke-width="1.0"/>
<rect x="363.83" y="210.27" width="2.90" height="2.90" fill="#22508f" stroke="none" stroke-width="1.0"/>
<rect x="367.51" y="211.19" width="2.90" height="2.90" fill="#22508f" stroke="none" stroke-width="1.0"/>
<rect x="371.19" y="211.19" width="2.90" height="2.90" fill="#22508f" stroke="none" stroke-width="1.0"/>
<rect x="374.87" y="210.27" width="2.90" height="2.90" fill="#22508f" stroke="none" stroke-width="1.0"/>
<rect x="378.55" y="209.35" width="2.90" height="2.90" fill="#22508f" stroke="none" stroke-width="1.0"/>
<rect x="360.15" y="212.65" width="2.90" height="2.90" fill="#22508f" stroke="none" stroke-width="1.0"/>
<rect x="363.83" y="213.57" width="2.90" height="2.90" fill="#22508f" stroke="none" stroke-width="1.0"/>
<rect x="367.51" y="214.49" width="2.90" height="2.90" fill="#22508f" stroke="none" stroke-width="1.0"/>
<rect x="371.19" y="214.49" width="2.90" height="2.90" fill="#22508f" stroke="none" stroke-width="1.0"/>
<rect x="374.87" y="213.57" width="2.90" height="2.90" fill="#22508f" stroke="none" stroke-width="1.0"/>
<rect x="378.55" y="212.65" width="2.90" height="2.90" fill="#22508f" stroke="none" stroke-width="1.0"/>
<rect x="360.15" y="215.95" width="2.90" height="2.90" fill="#22508f" stroke="none" stroke-width="1.0"/>
<rect x="363.83" y="216.87" width="2.90" height="2.90" fill="#22508f" stroke="none" stroke-width="1.0"/>
<rect x="367.51" y="217.79" width="2.90" height="2.90" fill="#22508f" stroke="none" stroke-width="1.0"/>
<rect x="371.19" y="217.79" width="2.90" height="2.90" fill="#22508f" stroke="none" stroke-width="1.0"/>
<rect x="374.87" y="216.87" width="2.90" height="2.90" fill="#22508f" stroke="none" stroke-width="1.0"/>
<rect x="378.55" y="215.95" width="2.90" height="2.90" fill="#22508f" stroke="none" stroke-width="1.0"/>
<rect x="360.15" y="219.25" width="2.90" height="2.90" fill="#22508f" stroke="none" stroke-width="1.0"/>
<rect x="363.83" y="220.17" width="2.90" height="2.90" fill="#22508f" stroke="none" stroke-width="1.0"/>
<rect x="367.51" y="221.09" width="2.90" height="2.90" fill="#22508f" stroke="none" stroke-width="1.0"/>
<rect x="371.19" y="221.09" width="2.90" height="2.90" fill="#22508f" stroke="none" stroke-width="1.0"/>
<rect x="374.87" y="220.17" width="2.90" height="2.90" fill="#22508f" stroke="none" stroke-width="1.0"/>
<rect x="378.55" y="219.25" width="2.90" height="2.90" fill="#22508f" stroke="none" stroke-width="1.0"/>
<rect x="360.15" y="222.55" width="2.90" height="2.90" fill="#22508f" stroke="none" stroke-width="1.0"/>
<rect x="363.83" y="223.47" width="2.90" height="2.90" fill="#22508f" stroke="none" stroke-width="1.0"/>
<rect x="367.51" y="224.39" width="2.90" height="2.90" fill="#22508f" stroke="none" stroke-width="1.0"/>
<rect x="371.19" y="224.39" width="2.90" height="2.90" fill="#22508f" stroke="none" stroke-width="1.0"/>
<rect x="374.87" y="223.47" width="2.90" height="2.90" fill="#22508f" stroke="none" stroke-width="1.0"/>
<rect x="378.55" y="222.55" width="2.90" height="2.90" fill="#22508f" stroke="none" stroke-width="1.0"/>
<rect x="360.15" y="225.85" width="2.90" height="2.90" fill="#22508f" stroke="none" stroke-width="1.0"/>
<rect x="363.83" y="226.77" width="2.90" height="2.90" fill="#22508f" stroke="none" stroke-width="1.0"/>
<rect x="367.51" y="227.69" width="2.90" height="2.90" fill="#22508f" stroke="none" stroke-width="1.0"/>
<rect x="371.19" y="227.69" width="2.90" height="2.90" fill="#22508f" stroke="none" stroke-width="1.0"/>
<rect x="374.87" y="226.77" width="2.90" height="2.90" fill="#22508f" stroke="none" stroke-width="1.0"/>
<rect x="378.55" y="225.85" width="2.90" height="2.90" fill="#22508f" stroke="none" stroke-width="1.0"/>
<rect x="363.35" y="229.95" width="2.90" height="2.90" fill="#22508f" stroke="none" stroke-width="1.0"/>
<rect x="367.35" y="230.95" width="2.90" height="2.90" fill="#22508f" stroke="none" stroke-width="1.0"/>
<rect x="371.35" y="230.95" width="2.90" height="2.90" fill="#22508f" stroke="none" stroke-width="1.0"/>
<rect x="375.35" y="229.95" width="2.90" height="2.90" fill="#22508f" stroke="none" stroke-width="1.0"/>
<rect x="363.35" y="233.25" width="2.90" height="2.90" fill="#22508f" stroke="none" stroke-width="1.0"/>
<rect x="367.35" y="234.25" width="2.90" height="2.90" fill="#22508f" stroke="none" stroke-width="1.0"/>
<rect x="371.35" y="234.25" width="2.90" height="2.90" fill="#22508f" stroke="none" stroke-width="1.0"/>
<rect x="375.35" y="233.25" width="2.90" height="2.90" fill="#22508f" stroke="none" stroke-width="1.0"/>
<path d="M398.10 195.90 L400.10 199.30 L396.10 199.30 Z" fill="#66ad3a" stroke="none" stroke-width="1.0"/>
<path d="M409.50 196.60 L411.50 200.00 L407.50 200.00 Z" fill="#66ad3a" stroke="none" stroke-width="1.0"/>
<path d="M404.20 199.50 L406.20 202.90 L402.20 202.90 Z" fill="#66ad3a" stroke="none" stroke-width="1.0"/>
<path d="M412.50 200.60 L414.50 204.00 L410.50 204.00 Z" fill="#66ad3a" stroke="none" stroke-width="1.0"/>
<path d="M395.40 234.90 L397.40 238.30 L393.40 238.30 Z" fill="#66ad3a" stroke="none" stroke-width="1.0"/>
<path d="M401.50 237.60 L403.50 241.00 L399.50 241.00 Z" fill="#66ad3a" stroke="none" stroke-width="1.0"/>
<path d="M406.80 236.90 L408.80 240.30 L404.80 240.30 Z" fill="#66ad3a" stroke="none" stroke-width="1.0"/>
<path d="M412.20 233.60 L414.20 237.00 L410.20 237.00 Z" fill="#66ad3a" stroke="none" stroke-width="1.0"/>
<path d="M395.00 200.45 L397.00 203.85 L393.00 203.85 Z" fill="#66ad3a" stroke="none" stroke-width="1.0"/>
<path d="M398.60 201.71 L400.60 205.11 L396.60 205.11 Z" fill="#66ad3a" stroke="none" stroke-width="1.0"/>
<path d="M402.20 202.97 L404.20 206.37 L400.20 206.37 Z" fill="#66ad3a" stroke="none" stroke-width="1.0"/>
<path d="M405.80 202.97 L407.80 206.37 L403.80 206.37 Z" fill="#66ad3a" stroke="none" stroke-width="1.0"/>
<path d="M409.40 201.71 L411.40 205.11 L407.40 205.11 Z" fill="#66ad3a" stroke="none" stroke-width="1.0"/>
<path d="M413.00 200.45 L415.00 203.85 L411.00 203.85 Z" fill="#66ad3a" stroke="none" stroke-width="1.0"/>
<path d="M395.00 203.75 L397.00 207.15 L393.00 207.15 Z" fill="#66ad3a" stroke="none" stroke-width="1.0"/>
<path d="M398.60 205.01 L400.60 208.41 L396.60 208.41 Z" fill="#66ad3a" stroke="none" stroke-width="1.0"/>
<path d="M402.20 206.27 L404.20 209.67 L400.20 209.67 Z" fill="#66ad3a" stroke="none" stroke-width="1.0"/>
<path d="M405.80 206.27 L407.80 209.67 L403.80 209.67 Z" fill="#66ad3a" stroke="none" stroke-width="1.0"/>
<path d="M409.40 205.01 L411.40 208.41 L407.40 208.41 Z" fill="#66ad3a" stroke="none" stroke-width="1.0"/>
<path d="M413.00 203.75 L415.00 207.15 L411.00 207.15 Z" fill="#66ad3a" stroke="none" stroke-width="1.0"/>
<path d="M395.00 207.05 L397.00 210.45 L393.00 210.45 Z" fill="#66ad3a" stroke="none" stroke-width="1.0"/>
<path d="M398.60 208.31 L400.60 211.71 L396.60 211.71 Z" fill="#66ad3a" stroke="none" stroke-width="1.0"/>
<path d="M402.20 209.57 L404.20 212.97 L400.20 212.97 Z" fill="#66ad3a" stroke="none" stroke-width="1.0"/>
<path d="M405.80 209.57 L407.80 212.97 L403.80 212.97 Z" fill="#66ad3a" stroke="none" stroke-width="1.0"/>
<path d="M409.40 208.31 L411.40 211.71 L407.40 211.71 Z" fill="#66ad3a" stroke="none" stroke-width="1.0"/>
<path d="M413.00 207.05 L415.00 210.45 L411.00 210.45 Z" fill="#66ad3a" stroke="none" stroke-width="1.0"/>
<path d="M395.00 210.35 L397.00 213.75 L393.00 213.75 Z" fill="#66ad3a" stroke="none" stroke-width="1.0"/>
<path d="M398.60 211.61 L400.60 215.01 L396.60 215.01 Z" fill="#66ad3a" stroke="none" stroke-width="1.0"/>
<path d="M402.20 212.87 L404.20 216.27 L400.20 216.27 Z" fill="#66ad3a" stroke="none" stroke-width="1.0"/>
<path d="M405.80 212.87 L407.80 216.27 L403.80 216.27 Z" fill="#66ad3a" stroke="none" stroke-width="1.0"/>
<path d="M409.40 211.61 L411.40 215.01 L407.40 215.01 Z" fill="#66ad3a" stroke="none" stroke-width="1.0"/>
<path d="M413.00 210.35 L415.00 213.75 L411.00 213.75 Z" fill="#66ad3a" stroke="none" stroke-width="1.0"/>
<path d="M395.00 213.65 L397.00 217.05 L393.00 217.05 Z" fill="#66ad3a" stroke="none" stroke-width="1.0"/>
<path d="M398.60 214.91 L400.60 218.31 L396.60 218.31 Z" fill="#66ad3a" stroke="none" stroke-width="1.0"/>
<path d="M402.20 216.17 L404.20 219.57 L400.20 219.57 Z" fill="#66ad3a" stroke="none" stroke-width="1.0"/>
<path d="M405.80 216.17 L407.80 219.57 L403.80 219.57 Z" fill="#66ad3a" stroke="none" stroke-width="1.0"/>
<path d="M409.40 214.91 L411.40 218.31 L407.40 218.31 Z" fill="#66ad3a" stroke="none" stroke-width="1.0"/>
<path d="M413.00 213.65 L415.00 217.05 L411.00 217.05 Z" fill="#66ad3a" stroke="none" stroke-width="1.0"/>
<path d="M395.00 216.95 L397.00 220.35 L393.00 220.35 Z" fill="#66ad3a" stroke="none" stroke-width="1.0"/>
<path d="M398.60 218.21 L400.60 221.61 L396.60 221.61 Z" fill="#66ad3a" stroke="none" stroke-width="1.0"/>
<path d="M402.20 219.47 L404.20 222.87 L400.20 222.87 Z" fill="#66ad3a" stroke="none" stroke-width="1.0"/>
<path d="M405.80 219.47 L407.80 222.87 L403.80 222.87 Z" fill="#66ad3a" stroke="none" stroke-width="1.0"/>
<path d="M409.40 218.21 L411.40 221.61 L407.40 221.61 Z" fill="#66ad3a" stroke="none" stroke-width="1.0"/>
<path d="M413.00 216.95 L415.00 220.35 L411.00 220.35 Z" fill="#66ad3a" stroke="none" stroke-width="1.0"/>
<path d="M395.00 220.25 L397.00 223.65 L393.00 223.65 Z" fill="#66ad3a" stroke="none" stroke-width="1.0"/>
<path d="M398.60 221.51 L400.60 224.91 L396.60 224.91 Z" fill="#66ad3a" stroke="none" stroke-width="1.0"/>
<path d="M402.20 222.77 L404.20 226.17 L400.20 226.17 Z" fill="#66ad3a" stroke="none" stroke-width="1.0"/>
<path d="M405.80 222.77 L407.80 226.17 L403.80 226.17 Z" fill="#66ad3a" stroke="none" stroke-width="1.0"/>
<path d="M409.40 221.51 L411.40 224.91 L407.40 224.91 Z" fill="#66ad3a" stroke="none" stroke-width="1.0"/>
<path d="M413.00 220.25 L415.00 223.65 L411.00 223.65 Z" fill="#66ad3a" stroke="none" stroke-width="1.0"/>
<path d="M395.00 223.55 L397.00 226.95 L393.00 226.95 Z" fill="#66ad3a" stroke="none" stroke-width="1.0"/>
<path d="M398.60 224.81 L400.60 228.21 L396.60 228.21 Z" fill="#66ad3a" stroke="none" stroke-width="1.0"/>
<path d="M402.20 226.07 L404.20 229.47 L400.20 229.47 Z" fill="#66ad3a" stroke="none" stroke-width="1.0"/>
<path d="M405.80 226.07 L407.80 229.47 L403.80 229.47 Z" fill="#66ad3a" stroke="none" stroke-width="1.0"/>
<path d="M409.40 224.81 L411.40 228.21 L407.40 228.21 Z" fill="#66ad3a" stroke="none" stroke-width="1.0"/>
<path d="M413.00 223.55 L415.00 226.95 L411.00 226.95 Z" fill="#66ad3a" stroke="none" stroke-width="1.0"/>
<path d="M395.00 226.85 L397.00 230.25 L393.00 230.25 Z" fill="#66ad3a" stroke="none" stroke-width="1.0"/>
<path d="M398.60 228.11 L400.60 231.51 L396.60 231.51 Z" fill="#66ad3a" stroke="none" stroke-width="1.0"/>
<path d="M402.20 229.37 L404.20 232.77 L400.20 232.77 Z" fill="#66ad3a" stroke="none" stroke-width="1.0"/>
<path d="M405.80 229.37 L407.80 232.77 L403.80 232.77 Z" fill="#66ad3a" stroke="none" stroke-width="1.0"/>
<path d="M409.40 228.11 L411.40 231.51 L407.40 231.51 Z" fill="#66ad3a" stroke="none" stroke-width="1.0"/>
<path d="M413.00 226.85 L415.00 230.25 L411.00 230.25 Z" fill="#66ad3a" stroke="none" stroke-width="1.0"/>
<path d="M435.10 189.20 L439.10 189.20 L437.10 192.60 Z" fill="#4f1a68" stroke="none" stroke-width="1.0"/>
<path d="M426.40 212.80 L430.40 212.80 L428.40 216.20 Z" fill="#4f1a68" stroke="none" stroke-width="1.0"/>
<path d="M430.40 214.70 L434.40 214.70 L432.40 218.10 Z" fill="#4f1a68" stroke="none" stroke-width="1.0"/>
<path d="M435.10 215.50 L439.10 215.50 L437.10 218.90 Z" fill="#4f1a68" stroke="none" stroke-width="1.0"/>
<path d="M439.20 213.80 L443.20 213.80 L441.20 217.20 Z" fill="#4f1a68" stroke="none" stroke-width="1.0"/>
<path d="M443.60 212.80 L447.60 212.80 L445.60 216.20 Z" fill="#4f1a68" stroke="none" stroke-width="1.0"/>
<path d="M426.40 217.80 L430.40 217.80 L428.40 221.20 Z" fill="#4f1a68" stroke="none" stroke-width="1.0"/>
<path d="M431.10 219.60 L435.10 219.60 L433.10 223.00 Z" fill="#4f1a68" stroke="none" stroke-width="1.0"/>
<path d="M437.10 219.80 L441.10 219.80 L439.10 223.20 Z" fill="#4f1a68" stroke="none" stroke-width="1.0"/>
<path d="M443.20 219.20 L447.20 219.20 L445.20 222.60 Z" fill="#4f1a68" stroke="none" stroke-width="1.0"/>
<path d="M426.40 224.50 L430.40 224.50 L428.40 227.90 Z" fill="#4f1a68" stroke="none" stroke-width="1.0"/>
<path d="M432.40 227.20 L436.40 227.20 L434.40 230.60 Z" fill="#4f1a68" stroke="none" stroke-width="1.0"/>
<path d="M435.10 223.20 L439.10 223.20 L437.10 226.60 Z" fill="#4f1a68" stroke="none" stroke-width="1.0"/>
<path d="M439.20 223.60 L443.20 223.60 L441.20 227.00 Z" fill="#4f1a68" stroke="none" stroke-width="1.0"/>
<path d="M443.60 225.20 L447.60 225.20 L445.60 228.60 Z" fill="#4f1a68" stroke="none" stroke-width="1.0"/>
<path d="M437.80 229.90 L441.80 229.90 L439.80 233.30 Z" fill="#4f1a68" stroke="none" stroke-width="1.0"/>
<path d="M437.80 234.40 L441.80 234.40 L439.80 237.80 Z" fill="#4f1a68" stroke="none" stroke-width="1.0"/>
<path d="M429.10 239.40 L433.10 239.40 L431.10 242.80 Z" fill="#4f1a68" stroke="none" stroke-width="1.0"/>
<path d="M432.40 238.00 L436.40 238.00 L434.40 241.40 Z" fill="#4f1a68" stroke="none" stroke-width="1.0"/>
<path d="M436.90 239.80 L440.90 239.80 L438.90 243.20 Z" fill="#4f1a68" stroke="none" stroke-width="1.0"/>
<path d="M440.50 238.00 L444.50 238.00 L442.50 241.40 Z" fill="#4f1a68" stroke="none" stroke-width="1.0"/>
<path d="M425.40 190.64 L429.40 190.64 L427.40 194.04 Z" fill="#4f1a68" stroke="none" stroke-width="1.0"/>
<path d="M429.24 191.98 L433.24 191.98 L431.24 195.38 Z" fill="#4f1a68" stroke="none" stroke-width="1.0"/>
<path d="M433.08 193.33 L437.08 193.33 L435.08 196.73 Z" fill="#4f1a68" stroke="none" stroke-width="1.0"/>
<path d="M436.92 193.33 L440.92 193.33 L438.92 196.73 Z" fill="#4f1a68" stroke="none" stroke-width="1.0"/>
<path d="M440.76 191.98 L444.76 191.98 L442.76 195.38 Z" fill="#4f1a68" stroke="none" stroke-width="1.0"/>
<path d="M444.60 190.64 L448.60 190.64 L446.60 194.04 Z" fill="#4f1a68" stroke="none" stroke-width="1.0"/>
<path d="M425.40 193.94 L429.40 193.94 L427.40 197.34 Z" fill="#4f1a68" stroke="none" stroke-width="1.0"/>
<path d="M429.24 195.28 L433.24 195.28 L431.24 198.68 Z" fill="#4f1a68" stroke="none" stroke-width="1.0"/>
<path d="M433.08 196.63 L437.08 196.63 L435.08 200.03 Z" fill="#4f1a68" stroke="none" stroke-width="1.0"/>
<path d="M436.92 196.63 L440.92 196.63 L438.92 200.03 Z" fill="#4f1a68" stroke="none" stroke-width="1.0"/>
<path d="M440.76 195.28 L444.76 195.28 L442.76 198.68 Z" fill="#4f1a68" stroke="none" stroke-width="1.0"/>
<path d="M444.60 193.94 L448.60 193.94 L446.60 197.34 Z" fill="#4f1a68" stroke="none" stroke-width="1.0"/>
<path d="M425.40 197.24 L429.40 197.24 L427.40 200.64 Z" fill="#4f1a68" stroke="none" stroke-width="1.0"/>
<path d="M429.24 198.58 L433.24 198.58 L431.24 201.98 Z" fill="#4f1a68" stroke="none" stroke-width="1.0"/>
<path d="M433.08 199.93 L437.08 199.93 L435.08 203.33 Z" fill="#4f1a68" stroke="none" stroke-width="1.0"/>
<path d="M436.92 199.93 L440.92 199.93 L438.92 203.33 Z" fill="#4f1a68" stroke="none" stroke-width="1.0"/>
<path d="M440.76 198.58 L444.76 198.58 L442.76 201.98 Z" fill="#4f1a68" stroke="none" stroke-width="1.0"/>
<path d="M444.60 197.24 L448.60 197.24 L446.60 200.64 Z" fill="#4f1a68" stroke="none" stroke-width="1.0"/>
<path d="M425.40 200.54 L429.40 200.54 L427.40 203.94 Z" fill="#4f1a68" stroke="none" stroke-width="1.0"/>
<path d="M429.24 201.88 L433.24 201.88 L431.24 205.28 Z" fill="#4f1a68" stroke="none" stroke-width="1.0"/>
<path d="M433.08 203.23 L437.08 203.23 L435.08 206.63 Z" fill="#4f1a68" stroke="none" stroke-width="1.0"/>
<path d="M436.92 203.23 L440.92 203.23 L438.92 206.63 Z" fill="#4f1a68" stroke="none" stroke-width="1.0"/>
<path d="M440.76 201.88 L444.76 201.88 L442.76 205.28 Z" fill="#4f1a68" stroke="none" stroke-width="1.0"/>
<path d="M444.60 200.54 L448.60 200.54 L446.60 203.94 Z" fill="#4f1a68" stroke="none" stroke-width="1.0"/>
<path d="M425.40 203.84 L429.40 203.84 L427.40 207.24 Z" fill="#4f1a68" stroke="none" stroke-width="1.0"/>
<path d="M429.24 205.18 L433.24 205.18 L431.24 208.58 Z" fill="#4f1a68" stroke="none" stroke-width="1.0"/>
<path d="M433.08 206.53 L437.08 206.53 L435.08 209.93 Z" fill="#4f1a68" stroke="none" stroke-width="1.0"/>
<path d="M436.92 206.53 L440.92 206.53 L438.92 209.93 Z" fill="#4f1a68" stroke="none" stroke-width="1.0"/>
<path d="M440.76 205.18 L444.76 205.18 L442.76 208.58 Z" fill="#4f1a68" stroke="none" stroke-width="1.0"/>
<path d="M444.60 203.84 L448.60 203.84 L446.60 207.24 Z" fill="#4f1a68" stroke="none" stroke-width="1.0"/>
<line x1="327.20" y1="238.50" x2="349.60" y2="238.50" stroke="#111" stroke-width="1.3"/>
<line x1="338.50" y1="235.80" x2="338.50" y2="240.40" stroke="#111" stroke-width="0.9"/>
<line x1="360.20" y1="219.50" x2="382.20" y2="219.50" stroke="#111" stroke-width="1.3"/>
<line x1="371.50" y1="217.30" x2="371.50" y2="221.90" stroke="#111" stroke-width="0.9"/>
<line x1="393.20" y1="217.50" x2="415.60" y2="217.50" stroke="#111" stroke-width="1.3"/>
<line x1="404.50" y1="215.00" x2="404.50" y2="219.60" stroke="#111" stroke-width="0.9"/>
<line x1="426.20" y1="210.50" x2="448.20" y2="210.50" stroke="#111" stroke-width="1.3"/>
<line x1="437.50" y1="208.50" x2="437.50" y2="213.10" stroke="#111" stroke-width="0.9"/>
<text x="9.60" y="300.68" font-size="11.5" fill="#111" style="stroke:none">F</text>
<rect x="46.30" y="301.50" width="61.50" height="63.90" fill="none" stroke="#999" stroke-width="0.9"/>
<line x1="46.50" y1="301.50" x2="46.50" y2="365.40" stroke="#777" stroke-width="0.8"/>
<line x1="46.30" y1="365.50" x2="107.80" y2="365.50" stroke="#444" stroke-width="0.9"/>
<line x1="45.10" y1="363.90" x2="46.30" y2="363.90" stroke="#666" stroke-width="0.45"/>
<line x1="45.10" y1="361.70" x2="46.30" y2="361.70" stroke="#666" stroke-width="0.45"/>
<line x1="45.10" y1="359.50" x2="46.30" y2="359.50" stroke="#666" stroke-width="0.45"/>
<line x1="45.10" y1="357.30" x2="46.30" y2="357.30" stroke="#666" stroke-width="0.45"/>
<line x1="45.10" y1="355.10" x2="46.30" y2="355.10" stroke="#666" stroke-width="0.45"/>
<line x1="45.10" y1="352.90" x2="46.30" y2="352.90" stroke="#666" stroke-width="0.45"/>
<line x1="45.10" y1="350.70" x2="46.30" y2="350.70" stroke="#666" stroke-width="0.45"/>
<line x1="45.10" y1="348.50" x2="46.30" y2="348.50" stroke="#666" stroke-width="0.45"/>
<line x1="45.10" y1="346.30" x2="46.30" y2="346.30" stroke="#666" stroke-width="0.45"/>
<line x1="45.10" y1="344.10" x2="46.30" y2="344.10" stroke="#666" stroke-width="0.45"/>
<line x1="45.10" y1="341.90" x2="46.30" y2="341.90" stroke="#666" stroke-width="0.45"/>
<line x1="45.10" y1="339.70" x2="46.30" y2="339.70" stroke="#666" stroke-width="0.45"/>
<line x1="45.10" y1="337.50" x2="46.30" y2="337.50" stroke="#666" stroke-width="0.45"/>
<line x1="45.10" y1="335.30" x2="46.30" y2="335.30" stroke="#666" stroke-width="0.45"/>
<line x1="45.10" y1="333.10" x2="46.30" y2="333.10" stroke="#666" stroke-width="0.45"/>
<line x1="45.10" y1="330.90" x2="46.30" y2="330.90" stroke="#666" stroke-width="0.45"/>
<line x1="45.10" y1="328.70" x2="46.30" y2="328.70" stroke="#666" stroke-width="0.45"/>
<line x1="45.10" y1="326.50" x2="46.30" y2="326.50" stroke="#666" stroke-width="0.45"/>
<line x1="45.10" y1="324.30" x2="46.30" y2="324.30" stroke="#666" stroke-width="0.45"/>
<line x1="45.10" y1="322.10" x2="46.30" y2="322.10" stroke="#666" stroke-width="0.45"/>
<line x1="45.10" y1="319.90" x2="46.30" y2="319.90" stroke="#666" stroke-width="0.45"/>
<line x1="45.10" y1="317.70" x2="46.30" y2="317.70" stroke="#666" stroke-width="0.45"/>
<line x1="45.10" y1="315.50" x2="46.30" y2="315.50" stroke="#666" stroke-width="0.45"/>
<line x1="45.10" y1="313.30" x2="46.30" y2="313.30" stroke="#666" stroke-width="0.45"/>
<line x1="45.10" y1="311.10" x2="46.30" y2="311.10" stroke="#666" stroke-width="0.45"/>
<line x1="45.10" y1="308.90" x2="46.30" y2="308.90" stroke="#666" stroke-width="0.45"/>
<line x1="45.10" y1="306.70" x2="46.30" y2="306.70" stroke="#666" stroke-width="0.45"/>
<line x1="45.10" y1="304.50" x2="46.30" y2="304.50" stroke="#666" stroke-width="0.45"/>
<line x1="45.10" y1="302.30" x2="46.30" y2="302.30" stroke="#666" stroke-width="0.45"/>
<line x1="47.80" y1="365.40" x2="47.80" y2="366.60" stroke="#666" stroke-width="0.45"/>
<line x1="50.00" y1="365.40" x2="50.00" y2="366.60" stroke="#666" stroke-width="0.45"/>
<line x1="52.20" y1="365.40" x2="52.20" y2="366.60" stroke="#666" stroke-width="0.45"/>
<line x1="54.40" y1="365.40" x2="54.40" y2="366.60" stroke="#666" stroke-width="0.45"/>
<line x1="56.60" y1="365.40" x2="56.60" y2="366.60" stroke="#666" stroke-width="0.45"/>
<line x1="58.80" y1="365.40" x2="58.80" y2="366.60" stroke="#666" stroke-width="0.45"/>
<line x1="61.00" y1="365.40" x2="61.00" y2="366.60" stroke="#666" stroke-width="0.45"/>
<line x1="63.20" y1="365.40" x2="63.20" y2="366.60" stroke="#666" stroke-width="0.45"/>
<line x1="65.40" y1="365.40" x2="65.40" y2="366.60" stroke="#666" stroke-width="0.45"/>
<line x1="67.60" y1="365.40" x2="67.60" y2="366.60" stroke="#666" stroke-width="0.45"/>
<line x1="69.80" y1="365.40" x2="69.80" y2="366.60" stroke="#666" stroke-width="0.45"/>
<line x1="72.00" y1="365.40" x2="72.00" y2="366.60" stroke="#666" stroke-width="0.45"/>
<line x1="74.20" y1="365.40" x2="74.20" y2="366.60" stroke="#666" stroke-width="0.45"/>
<line x1="76.40" y1="365.40" x2="76.40" y2="366.60" stroke="#666" stroke-width="0.45"/>
<line x1="78.60" y1="365.40" x2="78.60" y2="366.60" stroke="#666" stroke-width="0.45"/>
<line x1="80.80" y1="365.40" x2="80.80" y2="366.60" stroke="#666" stroke-width="0.45"/>
<line x1="83.00" y1="365.40" x2="83.00" y2="366.60" stroke="#666" stroke-width="0.45"/>
<line x1="85.20" y1="365.40" x2="85.20" y2="366.60" stroke="#666" stroke-width="0.45"/>
<line x1="87.40" y1="365.40" x2="87.40" y2="366.60" stroke="#666" stroke-width="0.45"/>
<line x1="89.60" y1="365.40" x2="89.60" y2="366.60" stroke="#666" stroke-width="0.45"/>
<line x1="91.80" y1="365.40" x2="91.80" y2="366.60" stroke="#666" stroke-width="0.45"/>
<line x1="94.00" y1="365.40" x2="94.00" y2="366.60" stroke="#666" stroke-width="0.45"/>
<line x1="96.20" y1="365.40" x2="96.20" y2="366.60" stroke="#666" stroke-width="0.45"/>
<line x1="98.40" y1="365.40" x2="98.40" y2="366.60" stroke="#666" stroke-width="0.45"/>
<line x1="100.60" y1="365.40" x2="100.60" y2="366.60" stroke="#666" stroke-width="0.45"/>
<line x1="102.80" y1="365.40" x2="102.80" y2="366.60" stroke="#666" stroke-width="0.45"/>
<line x1="105.00" y1="365.40" x2="105.00" y2="366.60" stroke="#666" stroke-width="0.45"/>
<line x1="44.70" y1="307.50" x2="46.30" y2="307.50" stroke="#222" stroke-width="1.0"/>
<text x="41.80" y="309.71" font-size="6.5" text-anchor="end" fill="#231f20">10<tspan font-size="4.03" dy="-2.93">4</tspan></text>
<line x1="44.70" y1="323.50" x2="46.30" y2="323.50" stroke="#222" stroke-width="1.0"/>
<text x="41.80" y="325.41" font-size="6.5" text-anchor="end" fill="#231f20">10<tspan font-size="4.03" dy="-2.93">3</tspan></text>
<line x1="44.70" y1="342.50" x2="46.30" y2="342.50" stroke="#222" stroke-width="1.0"/>
<text x="41.80" y="344.31" font-size="6.5" text-anchor="end" fill="#231f20">0</text>
<line x1="44.70" y1="361.50" x2="46.30" y2="361.50" stroke="#222" stroke-width="1.0"/>
<text x="41.80" y="363.61" font-size="6.5" text-anchor="end" fill="#231f20">-10<tspan font-size="3.90" dy="-2.73">3</tspan></text>
<line x1="54.50" y1="365.40" x2="54.50" y2="367.80" stroke="#222" stroke-width="0.9"/>
<text x="54.60" y="376.11" font-size="6.5" text-anchor="middle" fill="#231f20">0</text>
<line x1="79.50" y1="365.40" x2="79.50" y2="367.80" stroke="#222" stroke-width="0.9"/>
<text x="80.04" y="376.11" font-size="6.5" text-anchor="middle" fill="#231f20">10<tspan font-size="4.03" dy="-2.93">3</tspan></text>
<line x1="95.50" y1="365.40" x2="95.50" y2="367.80" stroke="#222" stroke-width="0.9"/>
<text x="96.44" y="376.11" font-size="6.5" text-anchor="middle" fill="#231f20">10<tspan font-size="4.03" dy="-2.93">4</tspan></text>
<text x="0" y="0" font-size="8.3" text-anchor="middle" fill="#231f20" transform="translate(24.20 334.45) rotate(-90)">TIGIT</text>
<path d="M60.2 316 C62 313 65 312.9 67.3 312.9 C71 312.6 74 313 77 313.3 C80 313.4 83 313.6 85.9 314.2 C89 315 91 316 92 316.8 C94 318.5 94 320.5 93.4 322.2 C93 325.5 92 327.5 91.2 329.2 C92.5 332 93.4 334.5 93.8 337.2 C95 340 96 342.5 95.6 345.2 C95.5 348 95 350 93.8 351.4 C91 353.5 88 354.5 85 354.9 C82 355.8 79 356 76.1 355.8 C72 355.3 69.5 354.5 67.3 353.6 C64 352.5 61.5 351 60.2 349.6 C58 347 57.3 344 57.5 341.6 C57.6 338.5 58.3 336 59.3 333.7 C59.8 332 60.5 330.5 61.1 329.2 C60 327 59.6 325 59.8 323 C59.7 320 59.8 318 60.2 316 Z" fill="#c6c6c6" stroke="none" stroke-width="1.0" filter="url(#bl1)"/>
<g filter="url(#bl05)">
<g transform="translate(76.5 334) scale(0.9 0.92) translate(-76.5 -334)">
<path d="M60.2 316 C62 313 65 312.9 67.3 312.9 C71 312.6 74 313 77 313.3 C80 313.4 83 313.6 85.9 314.2 C89 315 91 316 92 316.8 C94 318.5 94 320.5 93.4 322.2 C93 325.5 92 327.5 91.2 329.2 C92.5 332 93.4 334.5 93.8 337.2 C95 340 96 342.5 95.6 345.2 C95.5 348 95 350 93.8 351.4 C91 353.5 88 354.5 85 354.9 C82 355.8 79 356 76.1 355.8 C72 355.3 69.5 354.5 67.3 353.6 C64 352.5 61.5 351 60.2 349.6 C58 347 57.3 344 57.5 341.6 C57.6 338.5 58.3 336 59.3 333.7 C59.8 332 60.5 330.5 61.1 329.2 C60 327 59.6 325 59.8 323 C59.7 320 59.8 318 60.2 316 Z" fill="#9a9a9a" stroke="none" stroke-width="1.0"/>
</g>
<ellipse cx="68.3" cy="322.6" rx="5.6" ry="4.7" fill="#7a7a7a" stroke="#1a1a1a" stroke-width="1.8"/>
<ellipse cx="81.2" cy="322.8" rx="6.0" ry="4.5" fill="#808080" stroke="#2a2a2a" stroke-width="1.5"/>
<ellipse cx="68.5" cy="322.8" rx="2.6" ry="2.1" fill="#a8a8a8"/>
<ellipse cx="81.8" cy="322.8" rx="2.8" ry="2.0" fill="#acacac"/>
<ellipse cx="76.8" cy="344.2" rx="13.2" ry="9.6" fill="#8a8a8a" stroke="#2a2a2a" stroke-width="1.3"/>
<ellipse cx="77.2" cy="344" rx="11" ry="7.8" fill="none" stroke="#333" stroke-width="0.7"/>
<path d="M73.5 334.4 C67 334.6 63.2 339 63.4 344.5 C63.6 350 69 353.4 76.1 353.4 C80 353.4 82.5 352.8 84.2 352" fill="none" stroke="#111" stroke-width="2.8"/>
<ellipse cx="77.5" cy="343.5" rx="8.5" ry="5.6" fill="#a6a6a6"/>
<circle cx="71.70" cy="344.30" r="1.40" fill="#f0f0f0" stroke="none" stroke-width="1.0"/>
<circle cx="68.60" cy="323.00" r="1.10" fill="#f0f0f0" stroke="none" stroke-width="1.0"/>
<circle cx="83.20" cy="322.60" r="1.10" fill="#f0f0f0" stroke="none" stroke-width="1.0"/>
<circle cx="75.50" cy="337.00" r="0.90" fill="#f0f0f0" stroke="none" stroke-width="1.0"/>
<circle cx="79.50" cy="348.50" r="1.00" fill="#f0f0f0" stroke="none" stroke-width="1.0"/>
<circle cx="76.20" cy="328.50" r="0.90" fill="#f0f0f0" stroke="none" stroke-width="1.0"/>
</g>
<rect x="77.75" y="307.50" width="29.75" height="26.50" fill="none" stroke="#888" stroke-width="1.1"/>
<rect x="77.75" y="336.20" width="29.75" height="28.80" fill="none" stroke="#888" stroke-width="1.1"/>
<text x="108.30" y="313.40" font-size="10.5" font-weight="bold" text-anchor="end" fill="#111" style="stroke:#111;stroke-width:0.45px" textLength="20.2" lengthAdjust="spacingAndGlyphs">11.2</text>
<text x="104.80" y="358.80" font-size="10.5" font-weight="bold" text-anchor="end" fill="#111" style="stroke:#111;stroke-width:0.45px" textLength="19.6" lengthAdjust="spacingAndGlyphs">13.7</text>
<text x="78.00" y="388.55" font-size="8.3" text-anchor="middle" textLength="21" lengthAdjust="spacingAndGlyphs" fill="#231f20">CD69</text>
<rect x="146.90" y="301.50" width="63.20" height="63.90" fill="none" stroke="#999" stroke-width="0.9"/>
<line x1="146.50" y1="301.50" x2="146.50" y2="365.40" stroke="#777" stroke-width="0.8"/>
<line x1="146.90" y1="365.50" x2="210.10" y2="365.50" stroke="#444" stroke-width="0.9"/>
<line x1="145.70" y1="363.90" x2="146.90" y2="363.90" stroke="#666" stroke-width="0.45"/>
<line x1="145.70" y1="361.70" x2="146.90" y2="361.70" stroke="#666" stroke-width="0.45"/>
<line x1="145.70" y1="359.50" x2="146.90" y2="359.50" stroke="#666" stroke-width="0.45"/>
<line x1="145.70" y1="357.30" x2="146.90" y2="357.30" stroke="#666" stroke-width="0.45"/>
<line x1="145.70" y1="355.10" x2="146.90" y2="355.10" stroke="#666" stroke-width="0.45"/>
<line x1="145.70" y1="352.90" x2="146.90" y2="352.90" stroke="#666" stroke-width="0.45"/>
<line x1="145.70" y1="350.70" x2="146.90" y2="350.70" stroke="#666" stroke-width="0.45"/>
<line x1="145.70" y1="348.50" x2="146.90" y2="348.50" stroke="#666" stroke-width="0.45"/>
<line x1="145.70" y1="346.30" x2="146.90" y2="346.30" stroke="#666" stroke-width="0.45"/>
<line x1="145.70" y1="344.10" x2="146.90" y2="344.10" stroke="#666" stroke-width="0.45"/>
<line x1="145.70" y1="341.90" x2="146.90" y2="341.90" stroke="#666" stroke-width="0.45"/>
<line x1="145.70" y1="339.70" x2="146.90" y2="339.70" stroke="#666" stroke-width="0.45"/>
<line x1="145.70" y1="337.50" x2="146.90" y2="337.50" stroke="#666" stroke-width="0.45"/>
<line x1="145.70" y1="335.30" x2="146.90" y2="335.30" stroke="#666" stroke-width="0.45"/>
<line x1="145.70" y1="333.10" x2="146.90" y2="333.10" stroke="#666" stroke-width="0.45"/>
<line x1="145.70" y1="330.90" x2="146.90" y2="330.90" stroke="#666" stroke-width="0.45"/>
<line x1="145.70" y1="328.70" x2="146.90" y2="328.70" stroke="#666" stroke-width="0.45"/>
<line x1="145.70" y1="326.50" x2="146.90" y2="326.50" stroke="#666" stroke-width="0.45"/>
<line x1="145.70" y1="324.30" x2="146.90" y2="324.30" stroke="#666" stroke-width="0.45"/>
<line x1="145.70" y1="322.10" x2="146.90" y2="322.10" stroke="#666" stroke-width="0.45"/>
<line x1="145.70" y1="319.90" x2="146.90" y2="319.90" stroke="#666" stroke-width="0.45"/>
<line x1="145.70" y1="317.70" x2="146.90" y2="317.70" stroke="#666" stroke-width="0.45"/>
<line x1="145.70" y1="315.50" x2="146.90" y2="315.50" stroke="#666" stroke-width="0.45"/>
<line x1="145.70" y1="313.30" x2="146.90" y2="313.30" stroke="#666" stroke-width="0.45"/>
<line x1="145.70" y1="311.10" x2="146.90" y2="311.10" stroke="#666" stroke-width="0.45"/>
<line x1="145.70" y1="308.90" x2="146.90" y2="308.90" stroke="#666" stroke-width="0.45"/>
<line x1="145.70" y1="306.70" x2="146.90" y2="306.70" stroke="#666" stroke-width="0.45"/>
<line x1="145.70" y1="304.50" x2="146.90" y2="304.50" stroke="#666" stroke-width="0.45"/>
<line x1="145.70" y1="302.30" x2="146.90" y2="302.30" stroke="#666" stroke-width="0.45"/>
<line x1="148.40" y1="365.40" x2="148.40" y2="366.60" stroke="#666" stroke-width="0.45"/>
<line x1="150.60" y1="365.40" x2="150.60" y2="366.60" stroke="#666" stroke-width="0.45"/>
<line x1="152.80" y1="365.40" x2="152.80" y2="366.60" stroke="#666" stroke-width="0.45"/>
<line x1="155.00" y1="365.40" x2="155.00" y2="366.60" stroke="#666" stroke-width="0.45"/>
<line x1="157.20" y1="365.40" x2="157.20" y2="366.60" stroke="#666" stroke-width="0.45"/>
<line x1="159.40" y1="365.40" x2="159.40" y2="366.60" stroke="#666" stroke-width="0.45"/>
<line x1="161.60" y1="365.40" x2="161.60" y2="366.60" stroke="#666" stroke-width="0.45"/>
<line x1="163.80" y1="365.40" x2="163.80" y2="366.60" stroke="#666" stroke-width="0.45"/>
<line x1="166.00" y1="365.40" x2="166.00" y2="366.60" stroke="#666" stroke-width="0.45"/>
<line x1="168.20" y1="365.40" x2="168.20" y2="366.60" stroke="#666" stroke-width="0.45"/>
<line x1="170.40" y1="365.40" x2="170.40" y2="366.60" stroke="#666" stroke-width="0.45"/>
<line x1="172.60" y1="365.40" x2="172.60" y2="366.60" stroke="#666" stroke-width="0.45"/>
<line x1="174.80" y1="365.40" x2="174.80" y2="366.60" stroke="#666" stroke-width="0.45"/>
<line x1="177.00" y1="365.40" x2="177.00" y2="366.60" stroke="#666" stroke-width="0.45"/>
<line x1="179.20" y1="365.40" x2="179.20" y2="366.60" stroke="#666" stroke-width="0.45"/>
<line x1="181.40" y1="365.40" x2="181.40" y2="366.60" stroke="#666" stroke-width="0.45"/>
<line x1="183.60" y1="365.40" x2="183.60" y2="366.60" stroke="#666" stroke-width="0.45"/>
<line x1="185.80" y1="365.40" x2="185.80" y2="366.60" stroke="#666" stroke-width="0.45"/>
<line x1="188.00" y1="365.40" x2="188.00" y2="366.60" stroke="#666" stroke-width="0.45"/>
<line x1="190.20" y1="365.40" x2="190.20" y2="366.60" stroke="#666" stroke-width="0.45"/>
<line x1="192.40" y1="365.40" x2="192.40" y2="366.60" stroke="#666" stroke-width="0.45"/>
<line x1="194.60" y1="365.40" x2="194.60" y2="366.60" stroke="#666" stroke-width="0.45"/>
<line x1="196.80" y1="365.40" x2="196.80" y2="366.60" stroke="#666" stroke-width="0.45"/>
<line x1="199.00" y1="365.40" x2="199.00" y2="366.60" stroke="#666" stroke-width="0.45"/>
<line x1="201.20" y1="365.40" x2="201.20" y2="366.60" stroke="#666" stroke-width="0.45"/>
<line x1="203.40" y1="365.40" x2="203.40" y2="366.60" stroke="#666" stroke-width="0.45"/>
<line x1="205.60" y1="365.40" x2="205.60" y2="366.60" stroke="#666" stroke-width="0.45"/>
<line x1="207.80" y1="365.40" x2="207.80" y2="366.60" stroke="#666" stroke-width="0.45"/>
<line x1="145.30" y1="308.50" x2="146.90" y2="308.50" stroke="#222" stroke-width="1.0"/>
<text x="142.40" y="310.61" font-size="6.5" text-anchor="end" fill="#231f20">10<tspan font-size="4.03" dy="-2.93">4</tspan></text>
<line x1="145.30" y1="323.50" x2="146.90" y2="323.50" stroke="#222" stroke-width="1.0"/>
<text x="142.40" y="326.01" font-size="6.5" text-anchor="end" fill="#231f20">10<tspan font-size="4.03" dy="-2.93">3</tspan></text>
<line x1="145.30" y1="342.50" x2="146.90" y2="342.50" stroke="#222" stroke-width="1.0"/>
<text x="142.40" y="344.81" font-size="6.5" text-anchor="end" fill="#231f20">0</text>
<line x1="145.30" y1="361.50" x2="146.90" y2="361.50" stroke="#222" stroke-width="1.0"/>
<text x="142.40" y="363.91" font-size="6.5" text-anchor="end" fill="#231f20">-10<tspan font-size="3.90" dy="-2.73">3</tspan></text>
<line x1="154.50" y1="365.40" x2="154.50" y2="367.80" stroke="#222" stroke-width="0.9"/>
<text x="154.70" y="376.11" font-size="6.5" text-anchor="middle" fill="#231f20">0</text>
<line x1="172.50" y1="365.40" x2="172.50" y2="367.80" stroke="#222" stroke-width="0.9"/>
<text x="173.74" y="376.11" font-size="6.5" text-anchor="middle" fill="#231f20">10<tspan font-size="4.03" dy="-2.93">3</tspan></text>
<line x1="189.50" y1="365.40" x2="189.50" y2="367.80" stroke="#222" stroke-width="0.9"/>
<text x="190.64" y="376.11" font-size="6.5" text-anchor="middle" fill="#231f20">10<tspan font-size="4.03" dy="-2.93">4</tspan></text>
<line x1="203.50" y1="365.40" x2="203.50" y2="367.80" stroke="#222" stroke-width="0.9"/>
<text x="204.44" y="376.11" font-size="6.5" text-anchor="middle" fill="#231f20">10<tspan font-size="4.03" dy="-2.93">5</tspan></text>
<text x="0" y="0" font-size="8.3" text-anchor="middle" fill="#231f20" transform="translate(123.90 334.45) rotate(-90)">TIGIT</text>
<path d="M170 327 C176 326 179 330 178 334 C185 331 190 336 188 341 C194 340 200 343 203 348 C205 353 200 355 196 353 C190 356 182 357 176 354 C171 353 170 349 170 345" fill="none" stroke="#8a8a8a" stroke-width="0.6"/>
<path d="M170 331 C174 330 176 333 175 337 C181 336 184 340 183 344 C188 344 194 346 197 350 C193 352 186 353 180 351 C175 351 172 349 170 347" fill="none" stroke="#909090" stroke-width="0.55"/>
<path d="M178 338 C182 337 184 341 182 346 C180 349 176 348 175 345" fill="none" stroke="#8a8a8a" stroke-width="0.5"/>
<path d="M188 344 C191 342 194 345 193 349 C191 351 188 350 187 348" fill="none" stroke="#8a8a8a" stroke-width="0.5"/>
<path d="M172 336 C176 334 180 337 180 341 C184 340 188 342 190 346 C195 346 199 349 201 352" fill="none" stroke="#999" stroke-width="0.5"/>
<path d="M171 340 C174 339 176 342 177 346 C182 347 186 349 190 352 C184 354 178 353 174 351" fill="none" stroke="#999" stroke-width="0.5"/>
<circle cx="179.77" cy="339.08" r="0.40" fill="#888" stroke="none" stroke-width="1.0"/>
<circle cx="176.83" cy="351.21" r="0.40" fill="#888" stroke="none" stroke-width="1.0"/>
<circle cx="179.33" cy="340.99" r="0.40" fill="#888" stroke="none" stroke-width="1.0"/>
<circle cx="204.35" cy="335.10" r="0.40" fill="#888" stroke="none" stroke-width="1.0"/>
<circle cx="205.84" cy="347.80" r="0.40" fill="#888" stroke="none" stroke-width="1.0"/>
<circle cx="190.73" cy="343.90" r="0.40" fill="#888" stroke="none" stroke-width="1.0"/>
<circle cx="192.10" cy="333.69" r="0.40" fill="#888" stroke="none" stroke-width="1.0"/>
<circle cx="206.88" cy="335.35" r="0.40" fill="#888" stroke="none" stroke-width="1.0"/>
<circle cx="206.42" cy="352.40" r="0.40" fill="#888" stroke="none" stroke-width="1.0"/>
<circle cx="172.02" cy="329.81" r="0.40" fill="#888" stroke="none" stroke-width="1.0"/>
<circle cx="188.20" cy="350.95" r="0.40" fill="#888" stroke="none" stroke-width="1.0"/>
<circle cx="177.39" cy="343.40" r="0.40" fill="#888" stroke="none" stroke-width="1.0"/>
<circle cx="184.22" cy="349.86" r="0.40" fill="#888" stroke="none" stroke-width="1.0"/>
<circle cx="204.35" cy="348.96" r="0.40" fill="#888" stroke="none" stroke-width="1.0"/>
<circle cx="177.96" cy="348.89" r="0.40" fill="#888" stroke="none" stroke-width="1.0"/>
<circle cx="186.77" cy="351.81" r="0.40" fill="#888" stroke="none" stroke-width="1.0"/>
<circle cx="187.92" cy="354.45" r="0.40" fill="#888" stroke="none" stroke-width="1.0"/>
<circle cx="206.50" cy="351.32" r="0.40" fill="#888" stroke="none" stroke-width="1.0"/>
<circle cx="200.74" cy="351.12" r="0.40" fill="#888" stroke="none" stroke-width="1.0"/>
<circle cx="192.32" cy="326.64" r="0.40" fill="#888" stroke="none" stroke-width="1.0"/>
<circle cx="206.50" cy="337.64" r="0.40" fill="#888" stroke="none" stroke-width="1.0"/>
<circle cx="171.58" cy="336.51" r="0.40" fill="#888" stroke="none" stroke-width="1.0"/>
<circle cx="185.94" cy="327.63" r="0.40" fill="#888" stroke="none" stroke-width="1.0"/>
<circle cx="205.57" cy="324.26" r="0.40" fill="#888" stroke="none" stroke-width="1.0"/>
<circle cx="203.55" cy="340.89" r="0.40" fill="#888" stroke="none" stroke-width="1.0"/>
<circle cx="177.43" cy="333.61" r="0.40" fill="#888" stroke="none" stroke-width="1.0"/>
<circle cx="187.21" cy="324.47" r="0.40" fill="#888" stroke="none" stroke-width="1.0"/>
<circle cx="198.47" cy="344.76" r="0.40" fill="#888" stroke="none" stroke-width="1.0"/>
<circle cx="206.36" cy="351.54" r="0.40" fill="#888" stroke="none" stroke-width="1.0"/>
<circle cx="199.29" cy="357.88" r="0.40" fill="#888" stroke="none" stroke-width="1.0"/>
<path d="M160.90 312.60 C167.56 312.60 172.00 316.60 172.00 324.81 C172.00 331.47 171.44 332.14 171.44 334.80 C171.44 337.46 172.00 338.13 172.00 344.79 C172.00 353.00 167.56 357.00 160.90 357.00 C154.24 357.00 149.80 353.00 149.80 344.79 C149.80 338.13 150.36 337.46 150.36 334.80 C150.36 332.14 149.80 331.47 149.80 324.81 C149.80 316.60 154.24 312.60 160.90 312.60 Z" fill="#c4c4c4" stroke="none" stroke-width="1.0" filter="url(#bl05)"/>
<path d="M160.90 314.00 C166.72 314.00 170.60 317.74 170.60 325.44 C170.60 331.68 170.12 332.30 170.12 334.80 C170.12 337.30 170.60 337.92 170.60 344.16 C170.60 351.86 166.72 355.60 160.90 355.60 C155.08 355.60 151.20 351.86 151.20 344.16 C151.20 337.92 151.69 337.30 151.69 334.80 C151.69 332.30 151.20 331.68 151.20 325.44 C151.20 317.74 155.08 314.00 160.90 314.00 Z" fill="url(#dens)" stroke="#333" stroke-width="0.7"/>
<path d="M160.90 315.46 C166.25 315.46 169.82 318.94 169.82 326.10 C169.82 331.90 169.38 332.48 169.38 334.80 C169.38 337.12 169.82 337.70 169.82 343.50 C169.82 350.66 166.25 354.14 160.90 354.14 C155.55 354.14 151.98 350.66 151.98 343.50 C151.98 337.70 152.42 337.12 152.42 334.80 C152.42 332.48 151.98 331.90 151.98 326.10 C151.98 318.94 155.55 315.46 160.90 315.46 Z" fill="none" stroke="#1a1a1a" stroke-width="0.45" opacity="0.8"/>
<path d="M160.90 316.93 C165.79 316.93 169.05 320.15 169.05 326.76 C169.05 332.12 168.64 332.66 168.64 334.80 C168.64 336.94 169.05 337.48 169.05 342.84 C169.05 349.45 165.79 352.67 160.90 352.67 C156.01 352.67 152.75 349.45 152.75 342.84 C152.75 337.48 153.16 336.94 153.16 334.80 C153.16 332.66 152.75 332.12 152.75 326.76 C152.75 320.15 156.01 316.93 160.90 316.93 Z" fill="none" stroke="#1a1a1a" stroke-width="0.45" opacity="0.8"/>
<path d="M160.90 318.39 C165.32 318.39 168.27 321.35 168.27 327.42 C168.27 332.34 167.90 332.83 167.90 334.80 C167.90 336.77 168.27 337.26 168.27 342.18 C168.27 348.25 165.32 351.21 160.90 351.21 C156.48 351.21 153.53 348.25 153.53 342.18 C153.53 337.26 153.90 336.77 153.90 334.80 C153.90 332.83 153.53 332.34 153.53 327.42 C153.53 321.35 156.48 318.39 160.90 318.39 Z" fill="none" stroke="#1a1a1a" stroke-width="0.45" opacity="0.8"/>
<path d="M160.90 319.86 C164.86 319.86 167.50 322.55 167.50 328.08 C167.50 332.56 167.17 333.01 167.17 334.80 C167.17 336.59 167.50 337.04 167.50 341.52 C167.50 347.05 164.86 349.74 160.90 349.74 C156.94 349.74 154.30 347.05 154.30 341.52 C154.30 337.04 154.63 336.59 154.63 334.80 C154.63 333.01 154.30 332.56 154.30 328.08 C154.30 322.55 156.94 319.86 160.90 319.86 Z" fill="none" stroke="#1a1a1a" stroke-width="0.45" opacity="0.8"/>
<path d="M160.90 321.32 C164.39 321.32 166.72 323.75 166.72 328.73 C166.72 332.78 166.43 333.18 166.43 334.80 C166.43 336.42 166.72 336.82 166.72 340.87 C166.72 345.85 164.39 348.28 160.90 348.28 C157.41 348.28 155.08 345.85 155.08 340.87 C155.08 336.82 155.37 336.42 155.37 334.80 C155.37 333.18 155.08 332.78 155.08 328.73 C155.08 323.75 157.41 321.32 160.90 321.32 Z" fill="none" stroke="#1a1a1a" stroke-width="0.45" opacity="0.8"/>
<path d="M160.90 323.98 L160.90 333.55" fill="none" stroke="#e4e4e4" stroke-width="1.4" stroke-linecap="round"/>
<path d="M160.90 335.63 L160.90 345.20" fill="none" stroke="#eeeeee" stroke-width="1.4" stroke-linecap="round"/>
<circle cx="160.90" cy="344.16" r="0.90" fill="#fafafa" stroke="none" stroke-width="1.0"/>
<rect x="170.60" y="303.60" width="38.80" height="31.00" fill="none" stroke="#999" stroke-width="1.1"/>
<rect x="170.60" y="334.60" width="38.80" height="30.40" fill="none" stroke="#999" stroke-width="1.1"/>
<line x1="170.60" y1="334.60" x2="209.40" y2="334.60" stroke="#aaa" stroke-width="1.8"/>
<text x="205.20" y="313.60" font-size="10.5" font-weight="bold" text-anchor="end" fill="#111" style="stroke:#111;stroke-width:0.45px" textLength="14.0" lengthAdjust="spacingAndGlyphs">1.7</text>
<text x="205.20" y="358.70" font-size="10.5" font-weight="bold" text-anchor="end" fill="#111" style="stroke:#111;stroke-width:0.45px" textLength="14.4" lengthAdjust="spacingAndGlyphs">8.0</text>
<text x="177.5" y="387.90" font-size="8.3" text-anchor="middle" fill="#231f20">TNFα</text>
<rect x="246.40" y="301.50" width="64.10" height="63.90" fill="none" stroke="#999" stroke-width="0.9"/>
<line x1="246.50" y1="301.50" x2="246.50" y2="365.40" stroke="#777" stroke-width="0.8"/>
<line x1="246.40" y1="365.50" x2="310.50" y2="365.50" stroke="#444" stroke-width="0.9"/>
<line x1="245.20" y1="363.90" x2="246.40" y2="363.90" stroke="#666" stroke-width="0.45"/>
<line x1="245.20" y1="361.70" x2="246.40" y2="361.70" stroke="#666" stroke-width="0.45"/>
<line x1="245.20" y1="359.50" x2="246.40" y2="359.50" stroke="#666" stroke-width="0.45"/>
<line x1="245.20" y1="357.30" x2="246.40" y2="357.30" stroke="#666" stroke-width="0.45"/>
<line x1="245.20" y1="355.10" x2="246.40" y2="355.10" stroke="#666" stroke-width="0.45"/>
<line x1="245.20" y1="352.90" x2="246.40" y2="352.90" stroke="#666" stroke-width="0.45"/>
<line x1="245.20" y1="350.70" x2="246.40" y2="350.70" stroke="#666" stroke-width="0.45"/>
<line x1="245.20" y1="348.50" x2="246.40" y2="348.50" stroke="#666" stroke-width="0.45"/>
<line x1="245.20" y1="346.30" x2="246.40" y2="346.30" stroke="#666" stroke-width="0.45"/>
<line x1="245.20" y1="344.10" x2="246.40" y2="344.10" stroke="#666" stroke-width="0.45"/>
<line x1="245.20" y1="341.90" x2="246.40" y2="341.90" stroke="#666" stroke-width="0.45"/>
<line x1="245.20" y1="339.70" x2="246.40" y2="339.70" stroke="#666" stroke-width="0.45"/>
<line x1="245.20" y1="337.50" x2="246.40" y2="337.50" stroke="#666" stroke-width="0.45"/>
<line x1="245.20" y1="335.30" x2="246.40" y2="335.30" stroke="#666" stroke-width="0.45"/>
<line x1="245.20" y1="333.10" x2="246.40" y2="333.10" stroke="#666" stroke-width="0.45"/>
<line x1="245.20" y1="330.90" x2="246.40" y2="330.90" stroke="#666" stroke-width="0.45"/>
<line x1="245.20" y1="328.70" x2="246.40" y2="328.70" stroke="#666" stroke-width="0.45"/>
<line x1="245.20" y1="326.50" x2="246.40" y2="326.50" stroke="#666" stroke-width="0.45"/>
<line x1="245.20" y1="324.30" x2="246.40" y2="324.30" stroke="#666" stroke-width="0.45"/>
<line x1="245.20" y1="322.10" x2="246.40" y2="322.10" stroke="#666" stroke-width="0.45"/>
<line x1="245.20" y1="319.90" x2="246.40" y2="319.90" stroke="#666" stroke-width="0.45"/>
<line x1="245.20" y1="317.70" x2="246.40" y2="317.70" stroke="#666" stroke-width="0.45"/>
<line x1="245.20" y1="315.50" x2="246.40" y2="315.50" stroke="#666" stroke-width="0.45"/>
<line x1="245.20" y1="313.30" x2="246.40" y2="313.30" stroke="#666" stroke-width="0.45"/>
<line x1="245.20" y1="311.10" x2="246.40" y2="311.10" stroke="#666" stroke-width="0.45"/>
<line x1="245.20" y1="308.90" x2="246.40" y2="308.90" stroke="#666" stroke-width="0.45"/>
<line x1="245.20" y1="306.70" x2="246.40" y2="306.70" stroke="#666" stroke-width="0.45"/>
<line x1="245.20" y1="304.50" x2="246.40" y2="304.50" stroke="#666" stroke-width="0.45"/>
<line x1="245.20" y1="302.30" x2="246.40" y2="302.30" stroke="#666" stroke-width="0.45"/>
<line x1="247.90" y1="365.40" x2="247.90" y2="366.60" stroke="#666" stroke-width="0.45"/>
<line x1="250.10" y1="365.40" x2="250.10" y2="366.60" stroke="#666" stroke-width="0.45"/>
<line x1="252.30" y1="365.40" x2="252.30" y2="366.60" stroke="#666" stroke-width="0.45"/>
<line x1="254.50" y1="365.40" x2="254.50" y2="366.60" stroke="#666" stroke-width="0.45"/>
<line x1="256.70" y1="365.40" x2="256.70" y2="366.60" stroke="#666" stroke-width="0.45"/>
<line x1="258.90" y1="365.40" x2="258.90" y2="366.60" stroke="#666" stroke-width="0.45"/>
<line x1="261.10" y1="365.40" x2="261.10" y2="366.60" stroke="#666" stroke-width="0.45"/>
<line x1="263.30" y1="365.40" x2="263.30" y2="366.60" stroke="#666" stroke-width="0.45"/>
<line x1="265.50" y1="365.40" x2="265.50" y2="366.60" stroke="#666" stroke-width="0.45"/>
<line x1="267.70" y1="365.40" x2="267.70" y2="366.60" stroke="#666" stroke-width="0.45"/>
<line x1="269.90" y1="365.40" x2="269.90" y2="366.60" stroke="#666" stroke-width="0.45"/>
<line x1="272.10" y1="365.40" x2="272.10" y2="366.60" stroke="#666" stroke-width="0.45"/>
<line x1="274.30" y1="365.40" x2="274.30" y2="366.60" stroke="#666" stroke-width="0.45"/>
<line x1="276.50" y1="365.40" x2="276.50" y2="366.60" stroke="#666" stroke-width="0.45"/>
<line x1="278.70" y1="365.40" x2="278.70" y2="366.60" stroke="#666" stroke-width="0.45"/>
<line x1="280.90" y1="365.40" x2="280.90" y2="366.60" stroke="#666" stroke-width="0.45"/>
<line x1="283.10" y1="365.40" x2="283.10" y2="366.60" stroke="#666" stroke-width="0.45"/>
<line x1="285.30" y1="365.40" x2="285.30" y2="366.60" stroke="#666" stroke-width="0.45"/>
<line x1="287.50" y1="365.40" x2="287.50" y2="366.60" stroke="#666" stroke-width="0.45"/>
<line x1="289.70" y1="365.40" x2="289.70" y2="366.60" stroke="#666" stroke-width="0.45"/>
<line x1="291.90" y1="365.40" x2="291.90" y2="366.60" stroke="#666" stroke-width="0.45"/>
<line x1="294.10" y1="365.40" x2="294.10" y2="366.60" stroke="#666" stroke-width="0.45"/>
<line x1="296.30" y1="365.40" x2="296.30" y2="366.60" stroke="#666" stroke-width="0.45"/>
<line x1="298.50" y1="365.40" x2="298.50" y2="366.60" stroke="#666" stroke-width="0.45"/>
<line x1="300.70" y1="365.40" x2="300.70" y2="366.60" stroke="#666" stroke-width="0.45"/>
<line x1="302.90" y1="365.40" x2="302.90" y2="366.60" stroke="#666" stroke-width="0.45"/>
<line x1="305.10" y1="365.40" x2="305.10" y2="366.60" stroke="#666" stroke-width="0.45"/>
<line x1="307.30" y1="365.40" x2="307.30" y2="366.60" stroke="#666" stroke-width="0.45"/>
<line x1="309.50" y1="365.40" x2="309.50" y2="366.60" stroke="#666" stroke-width="0.45"/>
<line x1="244.80" y1="307.50" x2="246.40" y2="307.50" stroke="#222" stroke-width="1.0"/>
<text x="241.90" y="309.51" font-size="6.5" text-anchor="end" fill="#231f20">10<tspan font-size="4.03" dy="-2.93">4</tspan></text>
<line x1="244.80" y1="323.50" x2="246.40" y2="323.50" stroke="#222" stroke-width="1.0"/>
<text x="241.90" y="325.31" font-size="6.5" text-anchor="end" fill="#231f20">10<tspan font-size="4.03" dy="-2.93">3</tspan></text>
<line x1="244.80" y1="341.50" x2="246.40" y2="341.50" stroke="#222" stroke-width="1.0"/>
<text x="241.90" y="343.31" font-size="6.5" text-anchor="end" fill="#231f20">0</text>
<line x1="244.80" y1="360.50" x2="246.40" y2="360.50" stroke="#222" stroke-width="1.0"/>
<text x="241.90" y="363.01" font-size="6.5" text-anchor="end" fill="#231f20">-10<tspan font-size="3.90" dy="-2.73">3</tspan></text>
<line x1="254.50" y1="365.40" x2="254.50" y2="367.80" stroke="#222" stroke-width="0.9"/>
<text x="254.00" y="376.11" font-size="6.5" text-anchor="middle" fill="#231f20">0</text>
<line x1="273.50" y1="365.40" x2="273.50" y2="367.80" stroke="#222" stroke-width="0.9"/>
<text x="274.54" y="376.11" font-size="6.5" text-anchor="middle" fill="#231f20">10<tspan font-size="4.03" dy="-2.93">3</tspan></text>
<line x1="289.50" y1="365.40" x2="289.50" y2="367.80" stroke="#222" stroke-width="0.9"/>
<text x="290.34" y="376.11" font-size="6.5" text-anchor="middle" fill="#231f20">10<tspan font-size="4.03" dy="-2.93">4</tspan></text>
<line x1="304.50" y1="365.40" x2="304.50" y2="367.80" stroke="#222" stroke-width="0.9"/>
<text x="305.14" y="376.11" font-size="6.5" text-anchor="middle" fill="#231f20">10<tspan font-size="4.03" dy="-2.93">5</tspan></text>
<text x="0" y="0" font-size="8.3" text-anchor="middle" fill="#231f20" transform="translate(222.50 334.45) rotate(-90)">TIGIT</text>
<path d="M280 342 C284 338 289 341 290 347 C292 353 290 358 285 358 C280 358 278 352 278 347 C278 344 279 343 280 342 Z" fill="none" stroke="#777" stroke-width="0.6"/>
<path d="M283 346 C286 344 288 347 288 351 C288 354 285 355 284 353 C282 351 282 348 283 346 Z" fill="none" stroke="#777" stroke-width="0.6"/>
<circle cx="299.37" cy="331.64" r="0.40" fill="#888" stroke="none" stroke-width="1.0"/>
<circle cx="292.04" cy="344.52" r="0.40" fill="#888" stroke="none" stroke-width="1.0"/>
<circle cx="298.31" cy="342.21" r="0.40" fill="#888" stroke="none" stroke-width="1.0"/>
<circle cx="297.66" cy="334.77" r="0.40" fill="#888" stroke="none" stroke-width="1.0"/>
<circle cx="299.85" cy="342.39" r="0.40" fill="#888" stroke="none" stroke-width="1.0"/>
<circle cx="276.31" cy="340.38" r="0.40" fill="#888" stroke="none" stroke-width="1.0"/>
<circle cx="289.29" cy="331.03" r="0.40" fill="#888" stroke="none" stroke-width="1.0"/>
<circle cx="282.23" cy="330.33" r="0.40" fill="#888" stroke="none" stroke-width="1.0"/>
<circle cx="273.01" cy="335.11" r="0.40" fill="#888" stroke="none" stroke-width="1.0"/>
<circle cx="277.69" cy="338.23" r="0.40" fill="#888" stroke="none" stroke-width="1.0"/>
<circle cx="293.57" cy="342.48" r="0.40" fill="#888" stroke="none" stroke-width="1.0"/>
<circle cx="295.87" cy="356.95" r="0.40" fill="#888" stroke="none" stroke-width="1.0"/>
<circle cx="296.96" cy="358.43" r="0.40" fill="#888" stroke="none" stroke-width="1.0"/>
<circle cx="287.70" cy="350.14" r="0.40" fill="#888" stroke="none" stroke-width="1.0"/>
<circle cx="296.56" cy="346.31" r="0.40" fill="#888" stroke="none" stroke-width="1.0"/>
<circle cx="275.13" cy="345.61" r="0.40" fill="#888" stroke="none" stroke-width="1.0"/>
<circle cx="286.37" cy="335.39" r="0.40" fill="#888" stroke="none" stroke-width="1.0"/>
<circle cx="273.69" cy="335.54" r="0.40" fill="#888" stroke="none" stroke-width="1.0"/>
<circle cx="291.22" cy="354.37" r="0.40" fill="#888" stroke="none" stroke-width="1.0"/>
<circle cx="290.04" cy="342.80" r="0.40" fill="#888" stroke="none" stroke-width="1.0"/>
<circle cx="271.83" cy="330.13" r="0.40" fill="#888" stroke="none" stroke-width="1.0"/>
<circle cx="289.99" cy="345.89" r="0.40" fill="#888" stroke="none" stroke-width="1.0"/>
<path d="M258.60 312.15 C265.92 312.15 270.80 316.22 270.80 324.58 C270.80 331.36 269.09 332.04 269.09 334.75 C269.09 337.46 270.80 338.14 270.80 344.92 C270.80 353.28 265.92 357.35 258.60 357.35 C251.28 357.35 246.40 353.28 246.40 344.92 C246.40 338.14 248.11 337.46 248.11 334.75 C248.11 332.04 246.40 331.36 246.40 324.58 C246.40 316.22 251.28 312.15 258.60 312.15 Z" fill="#cfcfcf" stroke="none" stroke-width="1.0" filter="url(#bl05)"/>
<path d="M258.60 313.55 C265.08 313.55 269.40 317.37 269.40 325.21 C269.40 331.57 267.89 332.21 267.89 334.75 C267.89 337.29 269.40 337.93 269.40 344.29 C269.40 352.13 265.08 355.95 258.60 355.95 C252.12 355.95 247.80 352.13 247.80 344.29 C247.80 337.93 249.31 337.29 249.31 334.75 C249.31 332.21 247.80 331.57 247.80 325.21 C247.80 317.37 252.12 313.55 258.60 313.55 Z" fill="url(#dens)" stroke="#333" stroke-width="0.7"/>
<path d="M258.60 315.04 C264.56 315.04 268.54 318.59 268.54 325.88 C268.54 331.79 267.14 332.39 267.14 334.75 C267.14 337.11 268.54 337.71 268.54 343.62 C268.54 350.91 264.56 354.46 258.60 354.46 C252.64 354.46 248.66 350.91 248.66 343.62 C248.66 337.71 250.06 337.11 250.06 334.75 C250.06 332.39 248.66 331.79 248.66 325.88 C248.66 318.59 252.64 315.04 258.60 315.04 Z" fill="none" stroke="#1a1a1a" stroke-width="0.45" opacity="0.8"/>
<path d="M258.60 316.53 C264.04 316.53 267.67 319.81 267.67 326.55 C267.67 332.02 266.40 332.56 266.40 334.75 C266.40 336.94 267.67 337.48 267.67 342.95 C267.67 349.69 264.04 352.97 258.60 352.97 C253.16 352.97 249.53 349.69 249.53 342.95 C249.53 337.48 250.80 336.94 250.80 334.75 C250.80 332.56 249.53 332.02 249.53 326.55 C249.53 319.81 253.16 316.53 258.60 316.53 Z" fill="none" stroke="#1a1a1a" stroke-width="0.45" opacity="0.8"/>
<path d="M258.60 318.03 C263.52 318.03 266.81 321.04 266.81 327.22 C266.81 332.24 265.66 332.74 265.66 334.75 C265.66 336.76 266.81 337.26 266.81 342.28 C266.81 348.46 263.52 351.47 258.60 351.47 C253.68 351.47 250.39 348.46 250.39 342.28 C250.39 337.26 251.54 336.76 251.54 334.75 C251.54 332.74 250.39 332.24 250.39 327.22 C250.39 321.04 253.68 318.03 258.60 318.03 Z" fill="none" stroke="#1a1a1a" stroke-width="0.45" opacity="0.8"/>
<path d="M258.60 319.52 C263.01 319.52 265.94 322.26 265.94 327.90 C265.94 332.47 264.92 332.92 264.92 334.75 C264.92 336.58 265.94 337.03 265.94 341.60 C265.94 347.24 263.01 349.98 258.60 349.98 C254.19 349.98 251.26 347.24 251.26 341.60 C251.26 337.03 252.28 336.58 252.28 334.75 C252.28 332.92 251.26 332.47 251.26 327.90 C251.26 322.26 254.19 319.52 258.60 319.52 Z" fill="none" stroke="#1a1a1a" stroke-width="0.45" opacity="0.8"/>
<path d="M258.60 321.01 C262.49 321.01 265.08 323.49 265.08 328.57 C265.08 332.69 264.17 333.10 264.17 334.75 C264.17 336.40 265.08 336.81 265.08 340.93 C265.08 346.01 262.49 348.49 258.60 348.49 C254.71 348.49 252.12 346.01 252.12 340.93 C252.12 336.81 253.03 336.40 253.03 334.75 C253.03 333.10 252.12 332.69 252.12 328.57 C252.12 323.49 254.71 321.01 258.60 321.01 Z" fill="none" stroke="#1a1a1a" stroke-width="0.45" opacity="0.8"/>
<path d="M258.60 323.73 L258.60 333.48" fill="none" stroke="#e4e4e4" stroke-width="1.4" stroke-linecap="round"/>
<path d="M258.60 335.60 L258.60 345.35" fill="none" stroke="#eeeeee" stroke-width="1.4" stroke-linecap="round"/>
<circle cx="258.60" cy="344.29" r="0.90" fill="#fafafa" stroke="none" stroke-width="1.0"/>
<rect x="270.10" y="304.50" width="38.40" height="28.40" fill="none" stroke="#888" stroke-width="1.1"/>
<rect x="270.10" y="334.10" width="38.40" height="27.80" fill="none" stroke="#888" stroke-width="1.1"/>
<line x1="270.10" y1="333.50" x2="308.50" y2="333.50" stroke="#bbb" stroke-width="1.6"/>
<text x="304.90" y="313.50" font-size="10.5" font-weight="bold" text-anchor="end" fill="#111" style="stroke:#111;stroke-width:0.45px" textLength="14.4" lengthAdjust="spacingAndGlyphs">0.4</text>
<text x="305.30" y="358.70" font-size="10.5" font-weight="bold" text-anchor="end" fill="#111" style="stroke:#111;stroke-width:0.45px" textLength="14.8" lengthAdjust="spacingAndGlyphs">4.2</text>
<text x="277.5" y="387.90" font-size="8.3" text-anchor="middle" fill="#231f20">IFNγ</text>
<rect x="346.30" y="301.50" width="64.20" height="63.90" fill="none" stroke="#999" stroke-width="0.9"/>
<line x1="346.50" y1="301.50" x2="346.50" y2="365.40" stroke="#777" stroke-width="0.8"/>
<line x1="346.30" y1="365.50" x2="410.50" y2="365.50" stroke="#444" stroke-width="0.9"/>
<line x1="345.10" y1="363.90" x2="346.30" y2="363.90" stroke="#666" stroke-width="0.45"/>
<line x1="345.10" y1="361.70" x2="346.30" y2="361.70" stroke="#666" stroke-width="0.45"/>
<line x1="345.10" y1="359.50" x2="346.30" y2="359.50" stroke="#666" stroke-width="0.45"/>
<line x1="345.10" y1="357.30" x2="346.30" y2="357.30" stroke="#666" stroke-width="0.45"/>
<line x1="345.10" y1="355.10" x2="346.30" y2="355.10" stroke="#666" stroke-width="0.45"/>
<line x1="345.10" y1="352.90" x2="346.30" y2="352.90" stroke="#666" stroke-width="0.45"/>
<line x1="345.10" y1="350.70" x2="346.30" y2="350.70" stroke="#666" stroke-width="0.45"/>
<line x1="345.10" y1="348.50" x2="346.30" y2="348.50" stroke="#666" stroke-width="0.45"/>
<line x1="345.10" y1="346.30" x2="346.30" y2="346.30" stroke="#666" stroke-width="0.45"/>
<line x1="345.10" y1="344.10" x2="346.30" y2="344.10" stroke="#666" stroke-width="0.45"/>
<line x1="345.10" y1="341.90" x2="346.30" y2="341.90" stroke="#666" stroke-width="0.45"/>
<line x1="345.10" y1="339.70" x2="346.30" y2="339.70" stroke="#666" stroke-width="0.45"/>
<line x1="345.10" y1="337.50" x2="346.30" y2="337.50" stroke="#666" stroke-width="0.45"/>
<line x1="345.10" y1="335.30" x2="346.30" y2="335.30" stroke="#666" stroke-width="0.45"/>
<line x1="345.10" y1="333.10" x2="346.30" y2="333.10" stroke="#666" stroke-width="0.45"/>
<line x1="345.10" y1="330.90" x2="346.30" y2="330.90" stroke="#666" stroke-width="0.45"/>
<line x1="345.10" y1="328.70" x2="346.30" y2="328.70" stroke="#666" stroke-width="0.45"/>
<line x1="345.10" y1="326.50" x2="346.30" y2="326.50" stroke="#666" stroke-width="0.45"/>
<line x1="345.10" y1="324.30" x2="346.30" y2="324.30" stroke="#666" stroke-width="0.45"/>
<line x1="345.10" y1="322.10" x2="346.30" y2="322.10" stroke="#666" stroke-width="0.45"/>
<line x1="345.10" y1="319.90" x2="346.30" y2="319.90" stroke="#666" stroke-width="0.45"/>
<line x1="345.10" y1="317.70" x2="346.30" y2="317.70" stroke="#666" stroke-width="0.45"/>
<line x1="345.10" y1="315.50" x2="346.30" y2="315.50" stroke="#666" stroke-width="0.45"/>
<line x1="345.10" y1="313.30" x2="346.30" y2="313.30" stroke="#666" stroke-width="0.45"/>
<line x1="345.10" y1="311.10" x2="346.30" y2="311.10" stroke="#666" stroke-width="0.45"/>
<line x1="345.10" y1="308.90" x2="346.30" y2="308.90" stroke="#666" stroke-width="0.45"/>
<line x1="345.10" y1="306.70" x2="346.30" y2="306.70" stroke="#666" stroke-width="0.45"/>
<line x1="345.10" y1="304.50" x2="346.30" y2="304.50" stroke="#666" stroke-width="0.45"/>
<line x1="345.10" y1="302.30" x2="346.30" y2="302.30" stroke="#666" stroke-width="0.45"/>
<line x1="347.80" y1="365.40" x2="347.80" y2="366.60" stroke="#666" stroke-width="0.45"/>
<line x1="350.00" y1="365.40" x2="350.00" y2="366.60" stroke="#666" stroke-width="0.45"/>
<line x1="352.20" y1="365.40" x2="352.20" y2="366.60" stroke="#666" stroke-width="0.45"/>
<line x1="354.40" y1="365.40" x2="354.40" y2="366.60" stroke="#666" stroke-width="0.45"/>
<line x1="356.60" y1="365.40" x2="356.60" y2="366.60" stroke="#666" stroke-width="0.45"/>
<line x1="358.80" y1="365.40" x2="358.80" y2="366.60" stroke="#666" stroke-width="0.45"/>
<line x1="361.00" y1="365.40" x2="361.00" y2="366.60" stroke="#666" stroke-width="0.45"/>
<line x1="363.20" y1="365.40" x2="363.20" y2="366.60" stroke="#666" stroke-width="0.45"/>
<line x1="365.40" y1="365.40" x2="365.40" y2="366.60" stroke="#666" stroke-width="0.45"/>
<line x1="367.60" y1="365.40" x2="367.60" y2="366.60" stroke="#666" stroke-width="0.45"/>
<line x1="369.80" y1="365.40" x2="369.80" y2="366.60" stroke="#666" stroke-width="0.45"/>
<line x1="372.00" y1="365.40" x2="372.00" y2="366.60" stroke="#666" stroke-width="0.45"/>
<line x1="374.20" y1="365.40" x2="374.20" y2="366.60" stroke="#666" stroke-width="0.45"/>
<line x1="376.40" y1="365.40" x2="376.40" y2="366.60" stroke="#666" stroke-width="0.45"/>
<line x1="378.60" y1="365.40" x2="378.60" y2="366.60" stroke="#666" stroke-width="0.45"/>
<line x1="380.80" y1="365.40" x2="380.80" y2="366.60" stroke="#666" stroke-width="0.45"/>
<line x1="383.00" y1="365.40" x2="383.00" y2="366.60" stroke="#666" stroke-width="0.45"/>
<line x1="385.20" y1="365.40" x2="385.20" y2="366.60" stroke="#666" stroke-width="0.45"/>
<line x1="387.40" y1="365.40" x2="387.40" y2="366.60" stroke="#666" stroke-width="0.45"/>
<line x1="389.60" y1="365.40" x2="389.60" y2="366.60" stroke="#666" stroke-width="0.45"/>
<line x1="391.80" y1="365.40" x2="391.80" y2="366.60" stroke="#666" stroke-width="0.45"/>
<line x1="394.00" y1="365.40" x2="394.00" y2="366.60" stroke="#666" stroke-width="0.45"/>
<line x1="396.20" y1="365.40" x2="396.20" y2="366.60" stroke="#666" stroke-width="0.45"/>
<line x1="398.40" y1="365.40" x2="398.40" y2="366.60" stroke="#666" stroke-width="0.45"/>
<line x1="400.60" y1="365.40" x2="400.60" y2="366.60" stroke="#666" stroke-width="0.45"/>
<line x1="402.80" y1="365.40" x2="402.80" y2="366.60" stroke="#666" stroke-width="0.45"/>
<line x1="405.00" y1="365.40" x2="405.00" y2="366.60" stroke="#666" stroke-width="0.45"/>
<line x1="407.20" y1="365.40" x2="407.20" y2="366.60" stroke="#666" stroke-width="0.45"/>
<line x1="409.40" y1="365.40" x2="409.40" y2="366.60" stroke="#666" stroke-width="0.45"/>
<line x1="344.70" y1="307.50" x2="346.30" y2="307.50" stroke="#222" stroke-width="1.0"/>
<text x="341.80" y="309.51" font-size="6.5" text-anchor="end" fill="#231f20">10<tspan font-size="4.03" dy="-2.93">4</tspan></text>
<line x1="344.70" y1="323.50" x2="346.30" y2="323.50" stroke="#222" stroke-width="1.0"/>
<text x="341.80" y="325.31" font-size="6.5" text-anchor="end" fill="#231f20">10<tspan font-size="4.03" dy="-2.93">3</tspan></text>
<line x1="344.70" y1="341.50" x2="346.30" y2="341.50" stroke="#222" stroke-width="1.0"/>
<text x="341.80" y="343.81" font-size="6.5" text-anchor="end" fill="#231f20">0</text>
<line x1="344.70" y1="361.50" x2="346.30" y2="361.50" stroke="#222" stroke-width="1.0"/>
<text x="341.80" y="363.31" font-size="6.5" text-anchor="end" fill="#231f20">-10<tspan font-size="3.90" dy="-2.73">3</tspan></text>
<line x1="363.50" y1="365.40" x2="363.50" y2="367.80" stroke="#222" stroke-width="0.9"/>
<text x="363.20" y="376.11" font-size="6.5" text-anchor="middle" fill="#231f20">0</text>
<line x1="381.50" y1="365.40" x2="381.50" y2="367.80" stroke="#222" stroke-width="0.9"/>
<text x="382.64" y="376.11" font-size="6.5" text-anchor="middle" fill="#231f20">10<tspan font-size="4.03" dy="-2.93">3</tspan></text>
<line x1="393.50" y1="365.40" x2="393.50" y2="367.80" stroke="#222" stroke-width="0.9"/>
<text x="394.34" y="376.11" font-size="6.5" text-anchor="middle" fill="#231f20">10<tspan font-size="4.03" dy="-2.93">4</tspan></text>
<line x1="404.50" y1="365.40" x2="404.50" y2="367.80" stroke="#222" stroke-width="0.9"/>
<text x="405.94" y="376.11" font-size="6.5" text-anchor="middle" fill="#231f20">10<tspan font-size="4.03" dy="-2.93">5</tspan></text>
<text x="0" y="0" font-size="8.3" text-anchor="middle" fill="#231f20" transform="translate(323.30 334.45) rotate(-90)">TIGIT</text>
<ellipse cx="381.5" cy="337" rx="9" ry="13.5" fill="none" stroke="#bbb" stroke-width="0.55"/>
<ellipse cx="381.5" cy="338.5" rx="7" ry="11" fill="none" stroke="#aaa" stroke-width="0.55"/>
<ellipse cx="381.5" cy="339.5" rx="5" ry="8.5" fill="none" stroke="#aaa" stroke-width="0.55"/>
<ellipse cx="381.5" cy="340" rx="3.2" ry="6" fill="none" stroke="#999" stroke-width="0.55"/>
<ellipse cx="381.5" cy="340.5" rx="1.6" ry="3.5" fill="none" stroke="#999" stroke-width="0.55"/>
<circle cx="390.05" cy="355.83" r="0.40" fill="#888" stroke="none" stroke-width="1.0"/>
<circle cx="385.87" cy="349.03" r="0.40" fill="#888" stroke="none" stroke-width="1.0"/>
<circle cx="398.36" cy="341.78" r="0.40" fill="#888" stroke="none" stroke-width="1.0"/>
<circle cx="393.08" cy="349.67" r="0.40" fill="#888" stroke="none" stroke-width="1.0"/>
<circle cx="396.31" cy="323.40" r="0.40" fill="#888" stroke="none" stroke-width="1.0"/>
<circle cx="378.40" cy="359.89" r="0.40" fill="#888" stroke="none" stroke-width="1.0"/>
<circle cx="393.42" cy="331.92" r="0.40" fill="#888" stroke="none" stroke-width="1.0"/>
<circle cx="393.30" cy="328.43" r="0.40" fill="#888" stroke="none" stroke-width="1.0"/>
<circle cx="383.37" cy="338.75" r="0.40" fill="#888" stroke="none" stroke-width="1.0"/>
<circle cx="379.95" cy="327.25" r="0.40" fill="#888" stroke="none" stroke-width="1.0"/>
<circle cx="387.20" cy="346.59" r="0.40" fill="#888" stroke="none" stroke-width="1.0"/>
<circle cx="382.27" cy="347.09" r="0.40" fill="#888" stroke="none" stroke-width="1.0"/>
<circle cx="399.53" cy="324.09" r="0.40" fill="#888" stroke="none" stroke-width="1.0"/>
<circle cx="381.24" cy="325.44" r="0.40" fill="#888" stroke="none" stroke-width="1.0"/>
<circle cx="391.61" cy="337.68" r="0.40" fill="#888" stroke="none" stroke-width="1.0"/>
<circle cx="385.43" cy="331.39" r="0.40" fill="#888" stroke="none" stroke-width="1.0"/>
<circle cx="394.20" cy="350.84" r="0.40" fill="#888" stroke="none" stroke-width="1.0"/>
<circle cx="385.63" cy="353.35" r="0.40" fill="#888" stroke="none" stroke-width="1.0"/>
<circle cx="380.01" cy="335.08" r="0.40" fill="#888" stroke="none" stroke-width="1.0"/>
<circle cx="398.90" cy="330.67" r="0.40" fill="#888" stroke="none" stroke-width="1.0"/>
<circle cx="377.74" cy="323.22" r="0.40" fill="#888" stroke="none" stroke-width="1.0"/>
<circle cx="391.48" cy="353.19" r="0.40" fill="#888" stroke="none" stroke-width="1.0"/>
<path d="M362.40 313.80 C369.18 313.80 373.70 317.65 373.70 325.57 C373.70 331.99 372.57 332.63 372.57 335.20 C372.57 337.77 373.70 338.41 373.70 344.83 C373.70 352.75 369.18 356.60 362.40 356.60 C355.62 356.60 351.10 352.75 351.10 344.83 C351.10 338.41 352.23 337.77 352.23 335.20 C352.23 332.63 351.10 331.99 351.10 325.57 C351.10 317.65 355.62 313.80 362.40 313.80 Z" fill="#c4c4c4" stroke="none" stroke-width="1.0" filter="url(#bl05)"/>
<path d="M362.40 315.20 C368.34 315.20 372.30 318.80 372.30 326.20 C372.30 332.20 371.31 332.80 371.31 335.20 C371.31 337.60 372.30 338.20 372.30 344.20 C372.30 351.60 368.34 355.20 362.40 355.20 C356.46 355.20 352.50 351.60 352.50 344.20 C352.50 338.20 353.49 337.60 353.49 335.20 C353.49 332.80 352.50 332.20 352.50 326.20 C352.50 318.80 356.46 315.20 362.40 315.20 Z" fill="url(#dens)" stroke="#1a1a1a" stroke-width="1.2"/>
<path d="M362.40 316.61 C367.86 316.61 371.51 319.95 371.51 326.83 C371.51 332.41 370.60 332.97 370.60 335.20 C370.60 337.43 371.51 337.99 371.51 343.57 C371.51 350.45 367.86 353.79 362.40 353.79 C356.94 353.79 353.29 350.45 353.29 343.57 C353.29 337.99 354.20 337.43 354.20 335.20 C354.20 332.97 353.29 332.41 353.29 326.83 C353.29 319.95 356.94 316.61 362.40 316.61 Z" fill="none" stroke="#1a1a1a" stroke-width="0.45" opacity="0.8"/>
<path d="M362.40 318.02 C367.39 318.02 370.72 321.11 370.72 327.47 C370.72 332.62 369.88 333.14 369.88 335.20 C369.88 337.26 370.72 337.78 370.72 342.93 C370.72 349.29 367.39 352.38 362.40 352.38 C357.41 352.38 354.08 349.29 354.08 342.93 C354.08 337.78 354.92 337.26 354.92 335.20 C354.92 333.14 354.08 332.62 354.08 327.47 C354.08 321.11 357.41 318.02 362.40 318.02 Z" fill="none" stroke="#1a1a1a" stroke-width="0.45" opacity="0.8"/>
<path d="M362.40 319.42 C366.91 319.42 369.92 322.26 369.92 328.10 C369.92 332.83 369.17 333.31 369.17 335.20 C369.17 337.09 369.92 337.57 369.92 342.30 C369.92 348.14 366.91 350.98 362.40 350.98 C357.89 350.98 354.88 348.14 354.88 342.30 C354.88 337.57 355.63 337.09 355.63 335.20 C355.63 333.31 354.88 332.83 354.88 328.10 C354.88 322.26 357.89 319.42 362.40 319.42 Z" fill="none" stroke="#1a1a1a" stroke-width="0.45" opacity="0.8"/>
<path d="M362.40 320.83 C366.44 320.83 369.13 323.42 369.13 328.73 C369.13 333.04 368.46 333.48 368.46 335.20 C368.46 336.92 369.13 337.36 369.13 341.67 C369.13 346.98 366.44 349.57 362.40 349.57 C358.36 349.57 355.67 346.98 355.67 341.67 C355.67 337.36 356.34 336.92 356.34 335.20 C356.34 333.48 355.67 333.04 355.67 328.73 C355.67 323.42 358.36 320.83 362.40 320.83 Z" fill="none" stroke="#1a1a1a" stroke-width="0.45" opacity="0.8"/>
<path d="M362.40 322.24 C365.96 322.24 368.34 324.57 368.34 329.37 C368.34 333.26 367.75 333.64 367.75 335.20 C367.75 336.76 368.34 337.14 368.34 341.03 C368.34 345.83 365.96 348.16 362.40 348.16 C358.84 348.16 356.46 345.83 356.46 341.03 C356.46 337.14 357.05 336.76 357.05 335.20 C357.05 333.64 356.46 333.26 356.46 329.37 C356.46 324.57 358.84 322.24 362.40 322.24 Z" fill="none" stroke="#1a1a1a" stroke-width="0.45" opacity="0.8"/>
<path d="M362.40 324.80 L362.40 334.00" fill="none" stroke="#e4e4e4" stroke-width="1.4" stroke-linecap="round"/>
<path d="M362.40 336.00 L362.40 345.20" fill="none" stroke="#eeeeee" stroke-width="1.4" stroke-linecap="round"/>
<circle cx="362.40" cy="344.20" r="0.90" fill="#fafafa" stroke="none" stroke-width="1.0"/>
<rect x="373.40" y="303.90" width="35.10" height="30.90" fill="none" stroke="#888" stroke-width="1.1"/>
<rect x="373.40" y="334.80" width="35.10" height="29.00" fill="none" stroke="#888" stroke-width="1.1"/>
<line x1="373.40" y1="334.80" x2="408.50" y2="334.80" stroke="#999" stroke-width="1.6"/>
<text x="404.50" y="313.50" font-size="10.5" font-weight="bold" text-anchor="end" fill="#111" style="stroke:#111;stroke-width:0.45px" textLength="14.8" lengthAdjust="spacingAndGlyphs">2.4</text>
<text x="404.50" y="358.70" font-size="10.5" font-weight="bold" text-anchor="end" fill="#111" style="stroke:#111;stroke-width:0.45px" textLength="14.8" lengthAdjust="spacingAndGlyphs">7.9</text>
<text x="375.00" y="388.35" font-size="8.3" text-anchor="middle" textLength="29" lengthAdjust="spacingAndGlyphs" fill="#231f20">CD107a</text>
<text x="438.80" y="300.18" font-size="11.5" fill="#111" style="stroke:none">G</text>
<path d="M474.00 363.70 L474.00 348.00 L475.00 348.50 L478.80 347.60 L479.80 331.20 L480.80 330.30 L481.70 342.80 L482.70 343.70 L483.60 337.00 L484.60 336.00 L485.60 339.90 L486.50 334.10 L488.00 325.50 L488.90 324.50 L490.40 327.40 L491.80 331.20 L492.80 338.00 L493.70 339.90 L495.20 343.70 L496.60 342.80 L498.50 340.40 L499.50 343.70 L500.50 348.50 L502.40 349.50 L504.30 354.30 L505.80 358.20 L506.70 362.50 L507.00 363.70 Z" fill="#d47f8f" stroke="#b3264a" stroke-width="0.7"/>
<path d="M466.30 363.70 L467.80 357.20 L468.70 340.80 L469.70 320.70 L470.70 320.20 L471.60 331.20 L472.60 342.80 L474.00 344.70 L475.00 348.50 L477.40 350.50 L479.00 352.00 L481.20 354.30 L483.00 354.80 L486.00 357.20 L488.00 357.60 L490.80 359.10 L493.00 359.50 L495.70 360.60 L500.50 361.50 L505.30 362.00 L506.70 363.70 Z" fill="#a0002a" stroke="#930026" stroke-width="0.5"/>
<rect x="455.20" y="307.30" width="57.50" height="56.40" fill="none" stroke="#111" stroke-width="1.3"/>
<line x1="453.80" y1="363.70" x2="455.20" y2="363.70" stroke="#333" stroke-width="0.5"/>
<line x1="453.80" y1="361.50" x2="455.20" y2="361.50" stroke="#333" stroke-width="0.5"/>
<line x1="453.80" y1="359.30" x2="455.20" y2="359.30" stroke="#333" stroke-width="0.5"/>
<line x1="453.80" y1="357.10" x2="455.20" y2="357.10" stroke="#333" stroke-width="0.5"/>
<line x1="453.80" y1="354.90" x2="455.20" y2="354.90" stroke="#333" stroke-width="0.5"/>
<line x1="453.80" y1="352.70" x2="455.20" y2="352.70" stroke="#333" stroke-width="0.5"/>
<line x1="453.80" y1="350.50" x2="455.20" y2="350.50" stroke="#333" stroke-width="0.5"/>
<line x1="453.80" y1="348.30" x2="455.20" y2="348.30" stroke="#333" stroke-width="0.5"/>
<line x1="453.80" y1="346.10" x2="455.20" y2="346.10" stroke="#333" stroke-width="0.5"/>
<line x1="453.80" y1="343.90" x2="455.20" y2="343.90" stroke="#333" stroke-width="0.5"/>
<line x1="453.80" y1="341.70" x2="455.20" y2="341.70" stroke="#333" stroke-width="0.5"/>
<line x1="453.80" y1="339.50" x2="455.20" y2="339.50" stroke="#333" stroke-width="0.5"/>
<line x1="453.80" y1="337.30" x2="455.20" y2="337.30" stroke="#333" stroke-width="0.5"/>
<line x1="453.80" y1="335.10" x2="455.20" y2="335.10" stroke="#333" stroke-width="0.5"/>
<line x1="453.80" y1="332.90" x2="455.20" y2="332.90" stroke="#333" stroke-width="0.5"/>
<line x1="453.80" y1="330.70" x2="455.20" y2="330.70" stroke="#333" stroke-width="0.5"/>
<line x1="453.80" y1="328.50" x2="455.20" y2="328.50" stroke="#333" stroke-width="0.5"/>
<line x1="453.80" y1="326.30" x2="455.20" y2="326.30" stroke="#333" stroke-width="0.5"/>
<line x1="453.80" y1="324.10" x2="455.20" y2="324.10" stroke="#333" stroke-width="0.5"/>
<line x1="453.80" y1="321.90" x2="455.20" y2="321.90" stroke="#333" stroke-width="0.5"/>
<line x1="453.80" y1="319.70" x2="455.20" y2="319.70" stroke="#333" stroke-width="0.5"/>
<line x1="453.80" y1="317.50" x2="455.20" y2="317.50" stroke="#333" stroke-width="0.5"/>
<line x1="453.80" y1="315.30" x2="455.20" y2="315.30" stroke="#333" stroke-width="0.5"/>
<line x1="453.80" y1="313.10" x2="455.20" y2="313.10" stroke="#333" stroke-width="0.5"/>
<line x1="453.80" y1="310.90" x2="455.20" y2="310.90" stroke="#333" stroke-width="0.5"/>
<line x1="453.80" y1="308.70" x2="455.20" y2="308.70" stroke="#333" stroke-width="0.5"/>
<line x1="452.20" y1="363.50" x2="455.20" y2="363.50" stroke="#111" stroke-width="1.0"/>
<text x="450.20" y="365.83" font-size="6.0" text-anchor="end" fill="#231f20">0</text>
<line x1="452.20" y1="352.50" x2="455.20" y2="352.50" stroke="#111" stroke-width="1.0"/>
<text x="450.20" y="355.02" font-size="6.0" text-anchor="end" fill="#231f20">20</text>
<line x1="452.20" y1="342.50" x2="455.20" y2="342.50" stroke="#111" stroke-width="1.0"/>
<text x="450.20" y="344.21" font-size="6.0" text-anchor="end" fill="#231f20">40</text>
<line x1="452.20" y1="331.50" x2="455.20" y2="331.50" stroke="#111" stroke-width="1.0"/>
<text x="450.20" y="333.40" font-size="6.0" text-anchor="end" fill="#231f20">60</text>
<line x1="452.20" y1="320.50" x2="455.20" y2="320.50" stroke="#111" stroke-width="1.0"/>
<text x="450.20" y="322.59" font-size="6.0" text-anchor="end" fill="#231f20">80</text>
<line x1="452.20" y1="309.50" x2="455.20" y2="309.50" stroke="#111" stroke-width="1.0"/>
<text x="450.20" y="311.78" font-size="6.0" text-anchor="end" fill="#231f20">100</text>
<line x1="456.20" y1="363.70" x2="456.20" y2="365.10" stroke="#333" stroke-width="0.5"/>
<line x1="458.40" y1="363.70" x2="458.40" y2="365.10" stroke="#333" stroke-width="0.5"/>
<line x1="460.60" y1="363.70" x2="460.60" y2="365.10" stroke="#333" stroke-width="0.5"/>
<line x1="462.80" y1="363.70" x2="462.80" y2="365.10" stroke="#333" stroke-width="0.5"/>
<line x1="465.00" y1="363.70" x2="465.00" y2="365.10" stroke="#333" stroke-width="0.5"/>
<line x1="467.20" y1="363.70" x2="467.20" y2="365.10" stroke="#333" stroke-width="0.5"/>
<line x1="469.40" y1="363.70" x2="469.40" y2="365.10" stroke="#333" stroke-width="0.5"/>
<line x1="471.60" y1="363.70" x2="471.60" y2="365.10" stroke="#333" stroke-width="0.5"/>
<line x1="473.80" y1="363.70" x2="473.80" y2="365.10" stroke="#333" stroke-width="0.5"/>
<line x1="476.00" y1="363.70" x2="476.00" y2="365.10" stroke="#333" stroke-width="0.5"/>
<line x1="478.20" y1="363.70" x2="478.20" y2="365.10" stroke="#333" stroke-width="0.5"/>
<line x1="480.40" y1="363.70" x2="480.40" y2="365.10" stroke="#333" stroke-width="0.5"/>
<line x1="482.60" y1="363.70" x2="482.60" y2="365.10" stroke="#333" stroke-width="0.5"/>
<line x1="484.80" y1="363.70" x2="484.80" y2="365.10" stroke="#333" stroke-width="0.5"/>
<line x1="487.00" y1="363.70" x2="487.00" y2="365.10" stroke="#333" stroke-width="0.5"/>
<line x1="489.20" y1="363.70" x2="489.20" y2="365.10" stroke="#333" stroke-width="0.5"/>
<line x1="491.40" y1="363.70" x2="491.40" y2="365.10" stroke="#333" stroke-width="0.5"/>
<line x1="493.60" y1="363.70" x2="493.60" y2="365.10" stroke="#333" stroke-width="0.5"/>
<line x1="495.80" y1="363.70" x2="495.80" y2="365.10" stroke="#333" stroke-width="0.5"/>
<line x1="498.00" y1="363.70" x2="498.00" y2="365.10" stroke="#333" stroke-width="0.5"/>
<line x1="500.20" y1="363.70" x2="500.20" y2="365.10" stroke="#333" stroke-width="0.5"/>
<line x1="502.40" y1="363.70" x2="502.40" y2="365.10" stroke="#333" stroke-width="0.5"/>
<line x1="504.60" y1="363.70" x2="504.60" y2="365.10" stroke="#333" stroke-width="0.5"/>
<line x1="506.80" y1="363.70" x2="506.80" y2="365.10" stroke="#333" stroke-width="0.5"/>
<line x1="509.00" y1="363.70" x2="509.00" y2="365.10" stroke="#333" stroke-width="0.5"/>
<line x1="511.20" y1="363.70" x2="511.20" y2="365.10" stroke="#333" stroke-width="0.5"/>
<line x1="459.50" y1="363.70" x2="459.50" y2="366.30" stroke="#111" stroke-width="0.9"/>
<text x="459.40" y="375.76" font-size="5.8" text-anchor="middle" fill="#231f20">-10<tspan font-size="3.48" dy="-2.44">3</tspan></text>
<line x1="469.50" y1="363.70" x2="469.50" y2="366.30" stroke="#111" stroke-width="0.9"/>
<text x="469.00" y="375.76" font-size="5.8" text-anchor="middle" fill="#231f20">0</text>
<line x1="477.50" y1="363.70" x2="477.50" y2="366.30" stroke="#111" stroke-width="0.9"/>
<text x="478.03" y="375.76" font-size="5.8" text-anchor="middle" fill="#231f20">10<tspan font-size="3.60" dy="-2.61">3</tspan></text>
<line x1="493.50" y1="363.70" x2="493.50" y2="366.30" stroke="#111" stroke-width="0.9"/>
<text x="494.03" y="375.76" font-size="5.8" text-anchor="middle" fill="#231f20">10<tspan font-size="3.60" dy="-2.61">4</tspan></text>
<line x1="507.50" y1="363.70" x2="507.50" y2="366.30" stroke="#111" stroke-width="0.9"/>
<text x="508.43" y="375.76" font-size="5.8" text-anchor="middle" fill="#231f20">10<tspan font-size="3.60" dy="-2.61">5</tspan></text>
<line x1="455.20" y1="348.50" x2="494.70" y2="348.50" stroke="#111" stroke-width="1.0"/>
<circle cx="494.70" cy="348.30" r="0.90" fill="#111" stroke="none" stroke-width="1.0"/>
<text x="483.50" y="388.35" font-size="8.3" text-anchor="middle" textLength="15" lengthAdjust="spacingAndGlyphs" fill="#231f20">CTV</text>
<line x1="46.50" y1="403.50" x2="46.50" y2="494.25" stroke="#111" stroke-width="1.1"/>
<line x1="43.65" y1="493.50" x2="46.75" y2="493.50" stroke="#111" stroke-width="1.0"/>
<text x="40.15" y="495.70" font-size="6.2" text-anchor="end" fill="#231f20">0</text>
<line x1="43.65" y1="475.50" x2="46.75" y2="475.50" stroke="#111" stroke-width="1.0"/>
<text x="40.15" y="477.92" font-size="6.2" text-anchor="end" fill="#231f20">20</text>
<line x1="43.65" y1="457.50" x2="46.75" y2="457.50" stroke="#111" stroke-width="1.0"/>
<text x="40.15" y="460.14" font-size="6.2" text-anchor="end" fill="#231f20">40</text>
<line x1="43.65" y1="440.50" x2="46.75" y2="440.50" stroke="#111" stroke-width="1.0"/>
<text x="40.15" y="442.36" font-size="6.2" text-anchor="end" fill="#231f20">60</text>
<line x1="43.65" y1="422.50" x2="46.75" y2="422.50" stroke="#111" stroke-width="1.0"/>
<text x="40.15" y="424.58" font-size="6.2" text-anchor="end" fill="#231f20">80</text>
<line x1="43.65" y1="404.50" x2="46.75" y2="404.50" stroke="#111" stroke-width="1.0"/>
<text x="40.15" y="406.80" font-size="6.2" text-anchor="end" fill="#231f20">100</text>
<line x1="46.75" y1="493.50" x2="101.50" y2="493.50" stroke="#111" stroke-width="1.1"/>
<line x1="61.50" y1="493.75" x2="61.50" y2="495.95" stroke="#111" stroke-width="0.9"/>
<line x1="85.50" y1="493.75" x2="85.50" y2="495.95" stroke="#111" stroke-width="0.9"/>
<text x="54.25" y="506.25" font-size="6.9" fill="#231f20" textLength="12.0" lengthAdjust="spacingAndGlyphs" style="stroke-width:0.25px">TIGIT</text>
<text x="66.55" y="503.10" font-size="4.0" fill="#231f20">−</text>
<text x="78.00" y="506.25" font-size="6.9" fill="#231f20" textLength="12.0" lengthAdjust="spacingAndGlyphs" style="stroke-width:0.25px">TIGIT</text>
<text x="90.30" y="503.10" font-size="4.0" fill="#231f20">+</text>
<text x="0" y="0" font-size="8.3" text-anchor="middle" fill="#231f20" transform="translate(22.30 448.02) rotate(-90)" textLength="34.7" lengthAdjust="spacingAndGlyphs">CD69 (%)</text>
<circle cx="59.00" cy="459.30" r="2.00" fill="none" stroke="#c0284a" stroke-width="0.85"/>
<circle cx="64.70" cy="461.80" r="2.00" fill="none" stroke="#c0284a" stroke-width="0.85"/>
<circle cx="57.00" cy="466.20" r="2.00" fill="none" stroke="#c0284a" stroke-width="0.85"/>
<circle cx="62.10" cy="468.10" r="2.00" fill="none" stroke="#c0284a" stroke-width="0.85"/>
<circle cx="66.70" cy="467.60" r="2.00" fill="none" stroke="#c0284a" stroke-width="0.85"/>
<circle cx="59.00" cy="471.70" r="2.00" fill="none" stroke="#c0284a" stroke-width="0.85"/>
<circle cx="67.80" cy="474.50" r="2.00" fill="none" stroke="#c0284a" stroke-width="0.85"/>
<circle cx="60.50" cy="475.50" r="2.00" fill="none" stroke="#c0284a" stroke-width="0.85"/>
<circle cx="54.78" cy="476.01" r="2.00" fill="none" stroke="#c0284a" stroke-width="0.85"/>
<circle cx="58.56" cy="476.50" r="2.00" fill="none" stroke="#c0284a" stroke-width="0.85"/>
<circle cx="61.80" cy="477.47" r="2.00" fill="none" stroke="#c0284a" stroke-width="0.85"/>
<circle cx="65.29" cy="476.82" r="2.00" fill="none" stroke="#c0284a" stroke-width="0.85"/>
<circle cx="68.36" cy="475.52" r="2.00" fill="none" stroke="#c0284a" stroke-width="0.85"/>
<circle cx="55.20" cy="478.46" r="2.00" fill="none" stroke="#c0284a" stroke-width="0.85"/>
<circle cx="58.56" cy="479.05" r="2.00" fill="none" stroke="#c0284a" stroke-width="0.85"/>
<circle cx="61.77" cy="480.33" r="2.00" fill="none" stroke="#c0284a" stroke-width="0.85"/>
<circle cx="65.04" cy="479.62" r="2.00" fill="none" stroke="#c0284a" stroke-width="0.85"/>
<circle cx="68.84" cy="478.22" r="2.00" fill="none" stroke="#c0284a" stroke-width="0.85"/>
<circle cx="54.72" cy="481.22" r="2.00" fill="none" stroke="#c0284a" stroke-width="0.85"/>
<circle cx="58.66" cy="481.98" r="2.00" fill="none" stroke="#c0284a" stroke-width="0.85"/>
<circle cx="61.63" cy="482.85" r="2.00" fill="none" stroke="#c0284a" stroke-width="0.85"/>
<circle cx="64.92" cy="481.88" r="2.00" fill="none" stroke="#c0284a" stroke-width="0.85"/>
<circle cx="68.56" cy="481.20" r="2.00" fill="none" stroke="#c0284a" stroke-width="0.85"/>
<circle cx="54.84" cy="483.74" r="2.00" fill="none" stroke="#c0284a" stroke-width="0.85"/>
<circle cx="58.23" cy="484.73" r="2.00" fill="none" stroke="#c0284a" stroke-width="0.85"/>
<circle cx="61.67" cy="485.31" r="2.00" fill="none" stroke="#c0284a" stroke-width="0.85"/>
<circle cx="65.40" cy="484.78" r="2.00" fill="none" stroke="#c0284a" stroke-width="0.85"/>
<circle cx="68.69" cy="483.71" r="2.00" fill="none" stroke="#c0284a" stroke-width="0.85"/>
<circle cx="55.30" cy="486.82" r="2.00" fill="none" stroke="#c0284a" stroke-width="0.85"/>
<circle cx="58.17" cy="487.35" r="2.00" fill="none" stroke="#c0284a" stroke-width="0.85"/>
<circle cx="61.93" cy="488.43" r="2.00" fill="none" stroke="#c0284a" stroke-width="0.85"/>
<circle cx="65.46" cy="487.40" r="2.00" fill="none" stroke="#c0284a" stroke-width="0.85"/>
<circle cx="68.80" cy="486.70" r="2.00" fill="none" stroke="#c0284a" stroke-width="0.85"/>
<circle cx="57.28" cy="489.95" r="2.00" fill="none" stroke="#c0284a" stroke-width="0.85"/>
<circle cx="60.56" cy="490.84" r="2.00" fill="none" stroke="#c0284a" stroke-width="0.85"/>
<circle cx="63.27" cy="490.69" r="2.00" fill="none" stroke="#c0284a" stroke-width="0.85"/>
<circle cx="65.92" cy="489.75" r="2.00" fill="none" stroke="#c0284a" stroke-width="0.85"/>
<circle cx="85.40" cy="424.40" r="2.00" fill="#1f4c8f" stroke="none" stroke-width="1.0"/>
<circle cx="85.40" cy="430.20" r="2.00" fill="#1f4c8f" stroke="none" stroke-width="1.0"/>
<circle cx="85.40" cy="450.80" r="2.00" fill="#1f4c8f" stroke="none" stroke-width="1.0"/>
<circle cx="88.20" cy="458.50" r="2.00" fill="#1f4c8f" stroke="none" stroke-width="1.0"/>
<circle cx="82.70" cy="463.50" r="2.00" fill="#1f4c8f" stroke="none" stroke-width="1.0"/>
<circle cx="79.40" cy="466.20" r="2.00" fill="#1f4c8f" stroke="none" stroke-width="1.0"/>
<circle cx="83.20" cy="468.70" r="2.00" fill="#1f4c8f" stroke="none" stroke-width="1.0"/>
<circle cx="87.10" cy="470.10" r="2.00" fill="#1f4c8f" stroke="none" stroke-width="1.0"/>
<circle cx="91.20" cy="467.00" r="2.00" fill="#1f4c8f" stroke="none" stroke-width="1.0"/>
<circle cx="80.50" cy="473.40" r="2.00" fill="#1f4c8f" stroke="none" stroke-width="1.0"/>
<circle cx="90.50" cy="477.50" r="2.00" fill="#1f4c8f" stroke="none" stroke-width="1.0"/>
<circle cx="84.50" cy="478.50" r="2.00" fill="#1f4c8f" stroke="none" stroke-width="1.0"/>
<circle cx="77.07" cy="481.00" r="2.00" fill="#1f4c8f" stroke="none" stroke-width="1.0"/>
<circle cx="79.37" cy="481.00" r="2.00" fill="#1f4c8f" stroke="none" stroke-width="1.0"/>
<circle cx="91.43" cy="481.00" r="2.00" fill="#1f4c8f" stroke="none" stroke-width="1.0"/>
<circle cx="93.73" cy="481.00" r="2.00" fill="#1f4c8f" stroke="none" stroke-width="1.0"/>
<circle cx="79.32" cy="483.50" r="2.00" fill="#1f4c8f" stroke="none" stroke-width="1.0"/>
<circle cx="81.62" cy="483.50" r="2.00" fill="#1f4c8f" stroke="none" stroke-width="1.0"/>
<circle cx="89.18" cy="483.50" r="2.00" fill="#1f4c8f" stroke="none" stroke-width="1.0"/>
<circle cx="91.48" cy="483.50" r="2.00" fill="#1f4c8f" stroke="none" stroke-width="1.0"/>
<circle cx="81.57" cy="486.00" r="2.00" fill="#1f4c8f" stroke="none" stroke-width="1.0"/>
<circle cx="83.87" cy="486.00" r="2.00" fill="#1f4c8f" stroke="none" stroke-width="1.0"/>
<circle cx="86.93" cy="486.00" r="2.00" fill="#1f4c8f" stroke="none" stroke-width="1.0"/>
<circle cx="89.23" cy="486.00" r="2.00" fill="#1f4c8f" stroke="none" stroke-width="1.0"/>
<circle cx="82.38" cy="488.50" r="2.00" fill="#1f4c8f" stroke="none" stroke-width="1.0"/>
<circle cx="84.68" cy="488.50" r="2.00" fill="#1f4c8f" stroke="none" stroke-width="1.0"/>
<circle cx="86.12" cy="488.50" r="2.00" fill="#1f4c8f" stroke="none" stroke-width="1.0"/>
<circle cx="88.42" cy="488.50" r="2.00" fill="#1f4c8f" stroke="none" stroke-width="1.0"/>
<circle cx="80.50" cy="491.00" r="2.00" fill="#1f4c8f" stroke="none" stroke-width="1.0"/>
<circle cx="83.00" cy="492.00" r="2.00" fill="#1f4c8f" stroke="none" stroke-width="1.0"/>
<circle cx="88.00" cy="492.00" r="2.00" fill="#1f4c8f" stroke="none" stroke-width="1.0"/>
<circle cx="90.50" cy="491.00" r="2.00" fill="#1f4c8f" stroke="none" stroke-width="1.0"/>
<circle cx="85.40" cy="490.50" r="2.00" fill="#1f4c8f" stroke="none" stroke-width="1.0"/>
<circle cx="85.40" cy="493.00" r="2.00" fill="#1f4c8f" stroke="none" stroke-width="1.0"/>
<line x1="54.10" y1="481.50" x2="69.50" y2="481.50" stroke="#111" stroke-width="1.3"/>
<line x1="61.50" y1="479.30" x2="61.50" y2="483.30" stroke="#111" stroke-width="0.9"/>
<line x1="59.00" y1="479.50" x2="64.60" y2="479.50" stroke="#111" stroke-width="0.9"/>
<line x1="59.00" y1="483.50" x2="64.60" y2="483.50" stroke="#111" stroke-width="0.9"/>
<line x1="77.20" y1="475.50" x2="92.60" y2="475.50" stroke="#111" stroke-width="1.3"/>
<line x1="84.50" y1="473.00" x2="84.50" y2="478.60" stroke="#111" stroke-width="0.9"/>
<line x1="82.10" y1="473.50" x2="87.70" y2="473.50" stroke="#111" stroke-width="0.9"/>
<line x1="82.10" y1="478.50" x2="87.70" y2="478.50" stroke="#111" stroke-width="0.9"/>
<line x1="146.50" y1="403.50" x2="146.50" y2="494.25" stroke="#111" stroke-width="1.1"/>
<line x1="143.65" y1="493.50" x2="146.75" y2="493.50" stroke="#111" stroke-width="1.0"/>
<text x="140.15" y="495.95" font-size="6.2" text-anchor="end" fill="#231f20">0</text>
<line x1="143.65" y1="471.50" x2="146.75" y2="471.50" stroke="#111" stroke-width="1.0"/>
<text x="140.15" y="473.57" font-size="6.2" text-anchor="end" fill="#231f20">20</text>
<line x1="143.65" y1="448.50" x2="146.75" y2="448.50" stroke="#111" stroke-width="1.0"/>
<text x="140.15" y="451.19" font-size="6.2" text-anchor="end" fill="#231f20">40</text>
<line x1="143.65" y1="426.50" x2="146.75" y2="426.50" stroke="#111" stroke-width="1.0"/>
<text x="140.15" y="428.81" font-size="6.2" text-anchor="end" fill="#231f20">60</text>
<line x1="143.65" y1="404.50" x2="146.75" y2="404.50" stroke="#111" stroke-width="1.0"/>
<text x="140.15" y="406.43" font-size="6.2" text-anchor="end" fill="#231f20">80</text>
<line x1="146.75" y1="493.50" x2="206.50" y2="493.50" stroke="#111" stroke-width="1.1"/>
<line x1="163.50" y1="493.75" x2="163.50" y2="495.95" stroke="#111" stroke-width="0.9"/>
<line x1="189.50" y1="493.75" x2="189.50" y2="495.95" stroke="#111" stroke-width="0.9"/>
<text x="156.75" y="506.25" font-size="6.9" fill="#231f20" textLength="12.0" lengthAdjust="spacingAndGlyphs" style="stroke-width:0.25px">TIGIT</text>
<text x="169.05" y="503.10" font-size="4.0" fill="#231f20">−</text>
<text x="182.50" y="506.25" font-size="6.9" fill="#231f20" textLength="12.0" lengthAdjust="spacingAndGlyphs" style="stroke-width:0.25px">TIGIT</text>
<text x="194.80" y="503.10" font-size="4.0" fill="#231f20">+</text>
<text x="0" y="0" font-size="8.3" text-anchor="middle" fill="#231f20" transform="translate(126.35 448.02) rotate(-90)">TNFα (%)</text>
<path d="M164.50 419.25 L188.75 419.25" fill="none" stroke="#4a4a4a" stroke-width="1.25"/>
<circle cx="173.15" cy="416.40" r="0.78" fill="#2a2a2a" stroke="none" stroke-width="1.0"/>
<circle cx="175.45" cy="416.40" r="0.78" fill="#2a2a2a" stroke="none" stroke-width="1.0"/>
<circle cx="177.75" cy="416.40" r="0.78" fill="#2a2a2a" stroke="none" stroke-width="1.0"/>
<circle cx="180.05" cy="416.40" r="0.78" fill="#2a2a2a" stroke="none" stroke-width="1.0"/>
<circle cx="163.50" cy="427.00" r="2.00" fill="none" stroke="#c0284a" stroke-width="0.85"/>
<circle cx="163.50" cy="441.00" r="2.00" fill="none" stroke="#c0284a" stroke-width="0.85"/>
<circle cx="163.50" cy="448.20" r="2.00" fill="none" stroke="#c0284a" stroke-width="0.85"/>
<circle cx="157.50" cy="457.50" r="2.00" fill="none" stroke="#c0284a" stroke-width="0.85"/>
<circle cx="161.60" cy="460.70" r="2.00" fill="none" stroke="#c0284a" stroke-width="0.85"/>
<circle cx="166.10" cy="458.10" r="2.00" fill="none" stroke="#c0284a" stroke-width="0.85"/>
<circle cx="170.20" cy="456.80" r="2.00" fill="none" stroke="#c0284a" stroke-width="0.85"/>
<circle cx="157.80" cy="466.40" r="2.00" fill="none" stroke="#c0284a" stroke-width="0.85"/>
<circle cx="169.50" cy="465.60" r="2.00" fill="none" stroke="#c0284a" stroke-width="0.85"/>
<circle cx="163.50" cy="469.50" r="2.00" fill="none" stroke="#c0284a" stroke-width="0.85"/>
<circle cx="157.07" cy="472.37" r="2.00" fill="none" stroke="#c0284a" stroke-width="0.85"/>
<circle cx="160.03" cy="472.55" r="2.00" fill="none" stroke="#c0284a" stroke-width="0.85"/>
<circle cx="164.00" cy="473.64" r="2.00" fill="none" stroke="#c0284a" stroke-width="0.85"/>
<circle cx="167.40" cy="472.68" r="2.00" fill="none" stroke="#c0284a" stroke-width="0.85"/>
<circle cx="170.86" cy="472.16" r="2.00" fill="none" stroke="#c0284a" stroke-width="0.85"/>
<circle cx="156.85" cy="474.70" r="2.00" fill="none" stroke="#c0284a" stroke-width="0.85"/>
<circle cx="160.26" cy="475.54" r="2.00" fill="none" stroke="#c0284a" stroke-width="0.85"/>
<circle cx="163.93" cy="476.60" r="2.00" fill="none" stroke="#c0284a" stroke-width="0.85"/>
<circle cx="167.57" cy="475.63" r="2.00" fill="none" stroke="#c0284a" stroke-width="0.85"/>
<circle cx="170.77" cy="474.76" r="2.00" fill="none" stroke="#c0284a" stroke-width="0.85"/>
<circle cx="156.52" cy="477.42" r="2.00" fill="none" stroke="#c0284a" stroke-width="0.85"/>
<circle cx="160.28" cy="478.29" r="2.00" fill="none" stroke="#c0284a" stroke-width="0.85"/>
<circle cx="163.73" cy="479.34" r="2.00" fill="none" stroke="#c0284a" stroke-width="0.85"/>
<circle cx="167.32" cy="478.44" r="2.00" fill="none" stroke="#c0284a" stroke-width="0.85"/>
<circle cx="170.64" cy="477.41" r="2.00" fill="none" stroke="#c0284a" stroke-width="0.85"/>
<circle cx="156.70" cy="480.28" r="2.00" fill="none" stroke="#c0284a" stroke-width="0.85"/>
<circle cx="160.31" cy="481.50" r="2.00" fill="none" stroke="#c0284a" stroke-width="0.85"/>
<circle cx="163.90" cy="481.71" r="2.00" fill="none" stroke="#c0284a" stroke-width="0.85"/>
<circle cx="167.54" cy="481.38" r="2.00" fill="none" stroke="#c0284a" stroke-width="0.85"/>
<circle cx="170.94" cy="480.74" r="2.00" fill="none" stroke="#c0284a" stroke-width="0.85"/>
<circle cx="156.96" cy="483.47" r="2.00" fill="none" stroke="#c0284a" stroke-width="0.85"/>
<circle cx="160.21" cy="484.29" r="2.00" fill="none" stroke="#c0284a" stroke-width="0.85"/>
<circle cx="164.08" cy="484.50" r="2.00" fill="none" stroke="#c0284a" stroke-width="0.85"/>
<circle cx="167.45" cy="484.13" r="2.00" fill="none" stroke="#c0284a" stroke-width="0.85"/>
<circle cx="170.78" cy="483.32" r="2.00" fill="none" stroke="#c0284a" stroke-width="0.85"/>
<circle cx="156.79" cy="486.35" r="2.00" fill="none" stroke="#c0284a" stroke-width="0.85"/>
<circle cx="160.30" cy="487.00" r="2.00" fill="none" stroke="#c0284a" stroke-width="0.85"/>
<circle cx="163.71" cy="487.73" r="2.00" fill="none" stroke="#c0284a" stroke-width="0.85"/>
<circle cx="167.54" cy="486.78" r="2.00" fill="none" stroke="#c0284a" stroke-width="0.85"/>
<circle cx="170.84" cy="486.35" r="2.00" fill="none" stroke="#c0284a" stroke-width="0.85"/>
<circle cx="156.93" cy="488.89" r="2.00" fill="none" stroke="#c0284a" stroke-width="0.85"/>
<circle cx="160.13" cy="489.49" r="2.00" fill="none" stroke="#c0284a" stroke-width="0.85"/>
<circle cx="163.92" cy="490.10" r="2.00" fill="none" stroke="#c0284a" stroke-width="0.85"/>
<circle cx="167.54" cy="489.46" r="2.00" fill="none" stroke="#c0284a" stroke-width="0.85"/>
<circle cx="171.05" cy="488.79" r="2.00" fill="none" stroke="#c0284a" stroke-width="0.85"/>
<circle cx="189.40" cy="442.30" r="2.00" fill="#1f4c8f" stroke="none" stroke-width="1.0"/>
<circle cx="189.40" cy="459.90" r="2.00" fill="#1f4c8f" stroke="none" stroke-width="1.0"/>
<circle cx="189.40" cy="466.10" r="2.00" fill="#1f4c8f" stroke="none" stroke-width="1.0"/>
<circle cx="183.20" cy="480.10" r="2.00" fill="#1f4c8f" stroke="none" stroke-width="1.0"/>
<circle cx="196.10" cy="484.50" r="2.00" fill="#1f4c8f" stroke="none" stroke-width="1.0"/>
<circle cx="187.50" cy="484.80" r="2.00" fill="#1f4c8f" stroke="none" stroke-width="1.0"/>
<circle cx="191.70" cy="485.00" r="2.00" fill="#1f4c8f" stroke="none" stroke-width="1.0"/>
<circle cx="182.80" cy="487.52" r="2.00" fill="#1f4c8f" stroke="none" stroke-width="1.0"/>
<circle cx="185.65" cy="487.54" r="2.00" fill="#1f4c8f" stroke="none" stroke-width="1.0"/>
<circle cx="188.55" cy="487.33" r="2.00" fill="#1f4c8f" stroke="none" stroke-width="1.0"/>
<circle cx="191.11" cy="487.63" r="2.00" fill="#1f4c8f" stroke="none" stroke-width="1.0"/>
<circle cx="194.00" cy="487.39" r="2.00" fill="#1f4c8f" stroke="none" stroke-width="1.0"/>
<circle cx="197.10" cy="487.49" r="2.00" fill="#1f4c8f" stroke="none" stroke-width="1.0"/>
<circle cx="183.03" cy="489.89" r="2.00" fill="#1f4c8f" stroke="none" stroke-width="1.0"/>
<circle cx="185.76" cy="489.76" r="2.00" fill="#1f4c8f" stroke="none" stroke-width="1.0"/>
<circle cx="188.55" cy="490.05" r="2.00" fill="#1f4c8f" stroke="none" stroke-width="1.0"/>
<circle cx="191.31" cy="490.00" r="2.00" fill="#1f4c8f" stroke="none" stroke-width="1.0"/>
<circle cx="194.17" cy="489.73" r="2.00" fill="#1f4c8f" stroke="none" stroke-width="1.0"/>
<circle cx="197.00" cy="489.94" r="2.00" fill="#1f4c8f" stroke="none" stroke-width="1.0"/>
<circle cx="182.82" cy="492.11" r="2.00" fill="#1f4c8f" stroke="none" stroke-width="1.0"/>
<circle cx="185.85" cy="492.29" r="2.00" fill="#1f4c8f" stroke="none" stroke-width="1.0"/>
<circle cx="188.59" cy="492.45" r="2.00" fill="#1f4c8f" stroke="none" stroke-width="1.0"/>
<circle cx="191.39" cy="492.47" r="2.00" fill="#1f4c8f" stroke="none" stroke-width="1.0"/>
<circle cx="194.06" cy="492.42" r="2.00" fill="#1f4c8f" stroke="none" stroke-width="1.0"/>
<circle cx="196.88" cy="492.47" r="2.00" fill="#1f4c8f" stroke="none" stroke-width="1.0"/>
<line x1="156.20" y1="474.50" x2="171.20" y2="474.50" stroke="#111" stroke-width="1.3"/>
<line x1="163.50" y1="471.80" x2="163.50" y2="478.00" stroke="#111" stroke-width="0.9"/>
<line x1="160.90" y1="471.50" x2="166.50" y2="471.50" stroke="#111" stroke-width="0.9"/>
<line x1="160.90" y1="478.50" x2="166.50" y2="478.50" stroke="#111" stroke-width="0.9"/>
<line x1="182.30" y1="487.50" x2="196.10" y2="487.50" stroke="#111" stroke-width="1.3"/>
<line x1="189.50" y1="486.60" x2="189.50" y2="489.20" stroke="#111" stroke-width="0.9"/>
<line x1="186.40" y1="486.50" x2="192.00" y2="486.50" stroke="#111" stroke-width="0.9"/>
<line x1="186.40" y1="489.50" x2="192.00" y2="489.50" stroke="#111" stroke-width="0.9"/>
<line x1="246.50" y1="403.50" x2="246.50" y2="494.25" stroke="#111" stroke-width="1.1"/>
<line x1="243.65" y1="493.50" x2="246.75" y2="493.50" stroke="#111" stroke-width="1.0"/>
<text x="240.15" y="495.95" font-size="6.2" text-anchor="end" fill="#231f20">0</text>
<line x1="243.65" y1="475.50" x2="246.75" y2="475.50" stroke="#111" stroke-width="1.0"/>
<text x="240.15" y="478.10" font-size="6.2" text-anchor="end" fill="#231f20">10</text>
<line x1="243.65" y1="458.50" x2="246.75" y2="458.50" stroke="#111" stroke-width="1.0"/>
<text x="240.15" y="460.25" font-size="6.2" text-anchor="end" fill="#231f20">20</text>
<line x1="243.65" y1="440.50" x2="246.75" y2="440.50" stroke="#111" stroke-width="1.0"/>
<text x="240.15" y="442.40" font-size="6.2" text-anchor="end" fill="#231f20">30</text>
<line x1="243.65" y1="422.50" x2="246.75" y2="422.50" stroke="#111" stroke-width="1.0"/>
<text x="240.15" y="424.55" font-size="6.2" text-anchor="end" fill="#231f20">40</text>
<line x1="243.65" y1="404.50" x2="246.75" y2="404.50" stroke="#111" stroke-width="1.0"/>
<text x="240.15" y="406.70" font-size="6.2" text-anchor="end" fill="#231f20">50</text>
<line x1="246.75" y1="493.50" x2="300.30" y2="493.50" stroke="#111" stroke-width="1.1"/>
<line x1="261.50" y1="493.75" x2="261.50" y2="495.95" stroke="#111" stroke-width="0.9"/>
<line x1="284.50" y1="493.75" x2="284.50" y2="495.95" stroke="#111" stroke-width="0.9"/>
<text x="254.25" y="506.25" font-size="6.9" fill="#231f20" textLength="12.0" lengthAdjust="spacingAndGlyphs" style="stroke-width:0.25px">TIGIT</text>
<text x="266.55" y="503.10" font-size="4.0" fill="#231f20">−</text>
<text x="277.50" y="506.25" font-size="6.9" fill="#231f20" textLength="12.0" lengthAdjust="spacingAndGlyphs" style="stroke-width:0.25px">TIGIT</text>
<text x="289.80" y="503.10" font-size="4.0" fill="#231f20">+</text>
<text x="0" y="0" font-size="8.3" text-anchor="middle" fill="#231f20" transform="translate(226.35 448.02) rotate(-90)">IFNγ (%)</text>
<path d="M260.50 415.00 L284.50 415.00" fill="none" stroke="#4a4a4a" stroke-width="1.25"/>
<circle cx="269.05" cy="412.15" r="0.78" fill="#2a2a2a" stroke="none" stroke-width="1.0"/>
<circle cx="271.35" cy="412.15" r="0.78" fill="#2a2a2a" stroke="none" stroke-width="1.0"/>
<circle cx="273.65" cy="412.15" r="0.78" fill="#2a2a2a" stroke="none" stroke-width="1.0"/>
<circle cx="275.95" cy="412.15" r="0.78" fill="#2a2a2a" stroke="none" stroke-width="1.0"/>
<circle cx="261.40" cy="423.30" r="2.00" fill="none" stroke="#c0284a" stroke-width="0.85"/>
<circle cx="261.40" cy="460.70" r="2.00" fill="none" stroke="#c0284a" stroke-width="0.85"/>
<circle cx="255.70" cy="467.30" r="2.00" fill="none" stroke="#c0284a" stroke-width="0.85"/>
<circle cx="258.80" cy="467.00" r="2.00" fill="none" stroke="#c0284a" stroke-width="0.85"/>
<circle cx="264.30" cy="465.90" r="2.00" fill="none" stroke="#c0284a" stroke-width="0.85"/>
<circle cx="267.60" cy="469.80" r="2.00" fill="none" stroke="#c0284a" stroke-width="0.85"/>
<circle cx="256.80" cy="488.20" r="2.00" fill="none" stroke="#c0284a" stroke-width="0.85"/>
<circle cx="266.20" cy="489.00" r="2.00" fill="none" stroke="#c0284a" stroke-width="0.85"/>
<circle cx="261.20" cy="492.10" r="2.00" fill="none" stroke="#c0284a" stroke-width="0.85"/>
<circle cx="263.50" cy="493.20" r="2.00" fill="none" stroke="#c0284a" stroke-width="0.85"/>
<circle cx="254.14" cy="470.82" r="2.00" fill="none" stroke="#c0284a" stroke-width="0.85"/>
<circle cx="257.84" cy="471.57" r="2.00" fill="none" stroke="#c0284a" stroke-width="0.85"/>
<circle cx="261.24" cy="472.44" r="2.00" fill="none" stroke="#c0284a" stroke-width="0.85"/>
<circle cx="265.35" cy="471.96" r="2.00" fill="none" stroke="#c0284a" stroke-width="0.85"/>
<circle cx="268.86" cy="470.89" r="2.00" fill="none" stroke="#c0284a" stroke-width="0.85"/>
<circle cx="254.32" cy="473.53" r="2.00" fill="none" stroke="#c0284a" stroke-width="0.85"/>
<circle cx="257.70" cy="474.14" r="2.00" fill="none" stroke="#c0284a" stroke-width="0.85"/>
<circle cx="261.33" cy="475.36" r="2.00" fill="none" stroke="#c0284a" stroke-width="0.85"/>
<circle cx="265.30" cy="474.56" r="2.00" fill="none" stroke="#c0284a" stroke-width="0.85"/>
<circle cx="268.88" cy="473.48" r="2.00" fill="none" stroke="#c0284a" stroke-width="0.85"/>
<circle cx="254.19" cy="476.34" r="2.00" fill="none" stroke="#c0284a" stroke-width="0.85"/>
<circle cx="258.04" cy="477.19" r="2.00" fill="none" stroke="#c0284a" stroke-width="0.85"/>
<circle cx="261.73" cy="477.45" r="2.00" fill="none" stroke="#c0284a" stroke-width="0.85"/>
<circle cx="265.16" cy="477.08" r="2.00" fill="none" stroke="#c0284a" stroke-width="0.85"/>
<circle cx="268.70" cy="476.07" r="2.00" fill="none" stroke="#c0284a" stroke-width="0.85"/>
<circle cx="254.40" cy="478.64" r="2.00" fill="none" stroke="#c0284a" stroke-width="0.85"/>
<circle cx="258.22" cy="479.81" r="2.00" fill="none" stroke="#c0284a" stroke-width="0.85"/>
<circle cx="261.53" cy="480.18" r="2.00" fill="none" stroke="#c0284a" stroke-width="0.85"/>
<circle cx="265.29" cy="479.64" r="2.00" fill="none" stroke="#c0284a" stroke-width="0.85"/>
<circle cx="268.81" cy="479.09" r="2.00" fill="none" stroke="#c0284a" stroke-width="0.85"/>
<circle cx="255.47" cy="481.64" r="2.00" fill="none" stroke="#c0284a" stroke-width="0.85"/>
<circle cx="258.54" cy="482.25" r="2.00" fill="none" stroke="#c0284a" stroke-width="0.85"/>
<circle cx="261.30" cy="482.78" r="2.00" fill="none" stroke="#c0284a" stroke-width="0.85"/>
<circle cx="264.71" cy="482.02" r="2.00" fill="none" stroke="#c0284a" stroke-width="0.85"/>
<circle cx="267.27" cy="481.77" r="2.00" fill="none" stroke="#c0284a" stroke-width="0.85"/>
<circle cx="256.37" cy="484.52" r="2.00" fill="none" stroke="#c0284a" stroke-width="0.85"/>
<circle cx="259.82" cy="485.07" r="2.00" fill="none" stroke="#c0284a" stroke-width="0.85"/>
<circle cx="263.47" cy="484.98" r="2.00" fill="none" stroke="#c0284a" stroke-width="0.85"/>
<circle cx="266.45" cy="484.32" r="2.00" fill="none" stroke="#c0284a" stroke-width="0.85"/>
<circle cx="284.90" cy="472.80" r="2.00" fill="#1f4c8f" stroke="none" stroke-width="1.0"/>
<circle cx="279.90" cy="476.70" r="2.00" fill="#1f4c8f" stroke="none" stroke-width="1.0"/>
<circle cx="284.90" cy="480.00" r="2.00" fill="#1f4c8f" stroke="none" stroke-width="1.0"/>
<circle cx="289.80" cy="479.10" r="2.00" fill="#1f4c8f" stroke="none" stroke-width="1.0"/>
<circle cx="277.85" cy="483.60" r="2.00" fill="#1f4c8f" stroke="none" stroke-width="1.0"/>
<circle cx="280.72" cy="483.68" r="2.00" fill="#1f4c8f" stroke="none" stroke-width="1.0"/>
<circle cx="283.50" cy="483.67" r="2.00" fill="#1f4c8f" stroke="none" stroke-width="1.0"/>
<circle cx="286.01" cy="483.49" r="2.00" fill="#1f4c8f" stroke="none" stroke-width="1.0"/>
<circle cx="289.18" cy="483.56" r="2.00" fill="#1f4c8f" stroke="none" stroke-width="1.0"/>
<circle cx="291.96" cy="483.35" r="2.00" fill="#1f4c8f" stroke="none" stroke-width="1.0"/>
<circle cx="279.11" cy="485.80" r="2.00" fill="#1f4c8f" stroke="none" stroke-width="1.0"/>
<circle cx="281.98" cy="485.93" r="2.00" fill="#1f4c8f" stroke="none" stroke-width="1.0"/>
<circle cx="284.61" cy="485.79" r="2.00" fill="#1f4c8f" stroke="none" stroke-width="1.0"/>
<circle cx="287.55" cy="486.07" r="2.00" fill="#1f4c8f" stroke="none" stroke-width="1.0"/>
<circle cx="290.59" cy="485.76" r="2.00" fill="#1f4c8f" stroke="none" stroke-width="1.0"/>
<circle cx="280.56" cy="488.16" r="2.00" fill="#1f4c8f" stroke="none" stroke-width="1.0"/>
<circle cx="283.39" cy="488.15" r="2.00" fill="#1f4c8f" stroke="none" stroke-width="1.0"/>
<circle cx="286.05" cy="488.45" r="2.00" fill="#1f4c8f" stroke="none" stroke-width="1.0"/>
<circle cx="289.04" cy="488.19" r="2.00" fill="#1f4c8f" stroke="none" stroke-width="1.0"/>
<circle cx="281.95" cy="490.85" r="2.00" fill="#1f4c8f" stroke="none" stroke-width="1.0"/>
<circle cx="284.72" cy="490.88" r="2.00" fill="#1f4c8f" stroke="none" stroke-width="1.0"/>
<circle cx="287.86" cy="490.77" r="2.00" fill="#1f4c8f" stroke="none" stroke-width="1.0"/>
<line x1="254.00" y1="478.50" x2="268.80" y2="478.50" stroke="#111" stroke-width="1.3"/>
<line x1="261.50" y1="475.50" x2="261.50" y2="480.50" stroke="#111" stroke-width="0.9"/>
<line x1="258.60" y1="475.50" x2="264.20" y2="475.50" stroke="#111" stroke-width="0.9"/>
<line x1="258.60" y1="480.50" x2="264.20" y2="480.50" stroke="#111" stroke-width="0.9"/>
<line x1="277.60" y1="487.50" x2="292.00" y2="487.50" stroke="#111" stroke-width="1.3"/>
<line x1="284.50" y1="486.20" x2="284.50" y2="489.20" stroke="#111" stroke-width="0.9"/>
<line x1="282.00" y1="486.50" x2="287.60" y2="486.50" stroke="#111" stroke-width="0.9"/>
<line x1="282.00" y1="489.50" x2="287.60" y2="489.50" stroke="#111" stroke-width="0.9"/>
<line x1="345.50" y1="403.50" x2="345.50" y2="494.25" stroke="#111" stroke-width="1.1"/>
<line x1="341.90" y1="493.50" x2="345.00" y2="493.50" stroke="#111" stroke-width="1.0"/>
<text x="338.40" y="495.95" font-size="6.2" text-anchor="end" fill="#231f20">0</text>
<line x1="341.90" y1="471.50" x2="345.00" y2="471.50" stroke="#111" stroke-width="1.0"/>
<text x="338.40" y="473.65" font-size="6.2" text-anchor="end" fill="#231f20">20</text>
<line x1="341.90" y1="449.50" x2="345.00" y2="449.50" stroke="#111" stroke-width="1.0"/>
<text x="338.40" y="451.35" font-size="6.2" text-anchor="end" fill="#231f20">40</text>
<line x1="341.90" y1="426.50" x2="345.00" y2="426.50" stroke="#111" stroke-width="1.0"/>
<text x="338.40" y="429.05" font-size="6.2" text-anchor="end" fill="#231f20">60</text>
<line x1="341.90" y1="404.50" x2="345.00" y2="404.50" stroke="#111" stroke-width="1.0"/>
<text x="338.40" y="406.75" font-size="6.2" text-anchor="end" fill="#231f20">80</text>
<line x1="345.00" y1="493.50" x2="405.30" y2="493.50" stroke="#111" stroke-width="1.1"/>
<line x1="362.50" y1="493.75" x2="362.50" y2="495.95" stroke="#111" stroke-width="0.9"/>
<line x1="387.50" y1="493.75" x2="387.50" y2="495.95" stroke="#111" stroke-width="0.9"/>
<text x="355.50" y="506.25" font-size="6.9" fill="#231f20" textLength="12.0" lengthAdjust="spacingAndGlyphs" style="stroke-width:0.25px">TIGIT</text>
<text x="367.80" y="503.10" font-size="4.0" fill="#231f20">−</text>
<text x="380.50" y="506.25" font-size="6.9" fill="#231f20" textLength="12.0" lengthAdjust="spacingAndGlyphs" style="stroke-width:0.25px">TIGIT</text>
<text x="392.80" y="503.10" font-size="4.0" fill="#231f20">+</text>
<text x="0" y="0" font-size="8.3" text-anchor="middle" fill="#231f20" transform="translate(325.60 448.02) rotate(-90)" textLength="42" lengthAdjust="spacingAndGlyphs">CD107a (%)</text>
<path d="M365.50 421.75 L389.50 421.75" fill="none" stroke="#4a4a4a" stroke-width="1.25"/>
<circle cx="374.05" cy="418.90" r="0.78" fill="#2a2a2a" stroke="none" stroke-width="1.0"/>
<circle cx="376.35" cy="418.90" r="0.78" fill="#2a2a2a" stroke="none" stroke-width="1.0"/>
<circle cx="378.65" cy="418.90" r="0.78" fill="#2a2a2a" stroke="none" stroke-width="1.0"/>
<circle cx="380.95" cy="418.90" r="0.78" fill="#2a2a2a" stroke="none" stroke-width="1.0"/>
<circle cx="362.50" cy="429.80" r="2.00" fill="none" stroke="#c0284a" stroke-width="0.85"/>
<circle cx="356.50" cy="455.20" r="2.00" fill="none" stroke="#c0284a" stroke-width="0.85"/>
<circle cx="360.40" cy="459.60" r="2.00" fill="none" stroke="#c0284a" stroke-width="0.85"/>
<circle cx="364.80" cy="459.60" r="2.00" fill="none" stroke="#c0284a" stroke-width="0.85"/>
<circle cx="369.20" cy="458.90" r="2.00" fill="none" stroke="#c0284a" stroke-width="0.85"/>
<circle cx="365.80" cy="464.40" r="2.00" fill="none" stroke="#c0284a" stroke-width="0.85"/>
<circle cx="357.00" cy="468.50" r="2.00" fill="none" stroke="#c0284a" stroke-width="0.85"/>
<circle cx="359.00" cy="471.00" r="2.00" fill="none" stroke="#c0284a" stroke-width="0.85"/>
<circle cx="362.00" cy="472.00" r="2.00" fill="none" stroke="#c0284a" stroke-width="0.85"/>
<circle cx="366.00" cy="469.50" r="2.00" fill="none" stroke="#c0284a" stroke-width="0.85"/>
<circle cx="368.00" cy="472.00" r="2.00" fill="none" stroke="#c0284a" stroke-width="0.85"/>
<circle cx="369.20" cy="490.50" r="2.00" fill="none" stroke="#c0284a" stroke-width="0.85"/>
<circle cx="356.50" cy="493.00" r="2.00" fill="none" stroke="#c0284a" stroke-width="0.85"/>
<circle cx="361.00" cy="494.10" r="2.00" fill="none" stroke="#c0284a" stroke-width="0.85"/>
<circle cx="365.10" cy="493.40" r="2.00" fill="none" stroke="#c0284a" stroke-width="0.85"/>
<circle cx="355.78" cy="474.39" r="2.00" fill="none" stroke="#c0284a" stroke-width="0.85"/>
<circle cx="359.19" cy="474.96" r="2.00" fill="none" stroke="#c0284a" stroke-width="0.85"/>
<circle cx="362.50" cy="476.10" r="2.00" fill="none" stroke="#c0284a" stroke-width="0.85"/>
<circle cx="366.38" cy="475.26" r="2.00" fill="none" stroke="#c0284a" stroke-width="0.85"/>
<circle cx="369.92" cy="474.36" r="2.00" fill="none" stroke="#c0284a" stroke-width="0.85"/>
<circle cx="355.46" cy="476.88" r="2.00" fill="none" stroke="#c0284a" stroke-width="0.85"/>
<circle cx="359.34" cy="477.55" r="2.00" fill="none" stroke="#c0284a" stroke-width="0.85"/>
<circle cx="362.82" cy="478.61" r="2.00" fill="none" stroke="#c0284a" stroke-width="0.85"/>
<circle cx="366.22" cy="477.63" r="2.00" fill="none" stroke="#c0284a" stroke-width="0.85"/>
<circle cx="370.18" cy="476.56" r="2.00" fill="none" stroke="#c0284a" stroke-width="0.85"/>
<circle cx="355.78" cy="479.31" r="2.00" fill="none" stroke="#c0284a" stroke-width="0.85"/>
<circle cx="359.41" cy="480.00" r="2.00" fill="none" stroke="#c0284a" stroke-width="0.85"/>
<circle cx="362.56" cy="481.18" r="2.00" fill="none" stroke="#c0284a" stroke-width="0.85"/>
<circle cx="366.58" cy="480.07" r="2.00" fill="none" stroke="#c0284a" stroke-width="0.85"/>
<circle cx="369.76" cy="479.02" r="2.00" fill="none" stroke="#c0284a" stroke-width="0.85"/>
<circle cx="355.68" cy="481.57" r="2.00" fill="none" stroke="#c0284a" stroke-width="0.85"/>
<circle cx="359.47" cy="482.65" r="2.00" fill="none" stroke="#c0284a" stroke-width="0.85"/>
<circle cx="362.62" cy="483.59" r="2.00" fill="none" stroke="#c0284a" stroke-width="0.85"/>
<circle cx="366.32" cy="482.86" r="2.00" fill="none" stroke="#c0284a" stroke-width="0.85"/>
<circle cx="370.25" cy="481.71" r="2.00" fill="none" stroke="#c0284a" stroke-width="0.85"/>
<circle cx="357.29" cy="484.72" r="2.00" fill="none" stroke="#c0284a" stroke-width="0.85"/>
<circle cx="361.12" cy="485.82" r="2.00" fill="none" stroke="#c0284a" stroke-width="0.85"/>
<circle cx="364.38" cy="485.45" r="2.00" fill="none" stroke="#c0284a" stroke-width="0.85"/>
<circle cx="368.46" cy="484.48" r="2.00" fill="none" stroke="#c0284a" stroke-width="0.85"/>
<circle cx="359.25" cy="487.35" r="2.00" fill="none" stroke="#c0284a" stroke-width="0.85"/>
<circle cx="363.03" cy="488.52" r="2.00" fill="none" stroke="#c0284a" stroke-width="0.85"/>
<circle cx="366.17" cy="487.70" r="2.00" fill="none" stroke="#c0284a" stroke-width="0.85"/>
<circle cx="391.50" cy="469.70" r="2.00" fill="#1f4c8f" stroke="none" stroke-width="1.0"/>
<circle cx="386.10" cy="475.10" r="2.00" fill="#1f4c8f" stroke="none" stroke-width="1.0"/>
<circle cx="382.20" cy="481.70" r="2.00" fill="#1f4c8f" stroke="none" stroke-width="1.0"/>
<circle cx="395.20" cy="482.70" r="2.00" fill="#1f4c8f" stroke="none" stroke-width="1.0"/>
<circle cx="386.50" cy="485.30" r="2.00" fill="#1f4c8f" stroke="none" stroke-width="1.0"/>
<circle cx="390.70" cy="485.80" r="2.00" fill="#1f4c8f" stroke="none" stroke-width="1.0"/>
<circle cx="381.33" cy="489.36" r="2.00" fill="#1f4c8f" stroke="none" stroke-width="1.0"/>
<circle cx="384.34" cy="489.33" r="2.00" fill="#1f4c8f" stroke="none" stroke-width="1.0"/>
<circle cx="387.17" cy="489.45" r="2.00" fill="#1f4c8f" stroke="none" stroke-width="1.0"/>
<circle cx="389.86" cy="489.50" r="2.00" fill="#1f4c8f" stroke="none" stroke-width="1.0"/>
<circle cx="392.73" cy="489.47" r="2.00" fill="#1f4c8f" stroke="none" stroke-width="1.0"/>
<circle cx="395.63" cy="489.34" r="2.00" fill="#1f4c8f" stroke="none" stroke-width="1.0"/>
<circle cx="381.37" cy="491.83" r="2.00" fill="#1f4c8f" stroke="none" stroke-width="1.0"/>
<circle cx="384.13" cy="491.59" r="2.00" fill="#1f4c8f" stroke="none" stroke-width="1.0"/>
<circle cx="387.21" cy="491.88" r="2.00" fill="#1f4c8f" stroke="none" stroke-width="1.0"/>
<circle cx="390.07" cy="491.66" r="2.00" fill="#1f4c8f" stroke="none" stroke-width="1.0"/>
<circle cx="393.11" cy="491.52" r="2.00" fill="#1f4c8f" stroke="none" stroke-width="1.0"/>
<circle cx="395.94" cy="491.62" r="2.00" fill="#1f4c8f" stroke="none" stroke-width="1.0"/>
<line x1="355.80" y1="476.50" x2="370.60" y2="476.50" stroke="#111" stroke-width="1.3"/>
<line x1="363.50" y1="474.20" x2="363.50" y2="479.40" stroke="#111" stroke-width="0.9"/>
<line x1="360.40" y1="474.50" x2="366.00" y2="474.50" stroke="#111" stroke-width="0.9"/>
<line x1="360.40" y1="479.50" x2="366.00" y2="479.50" stroke="#111" stroke-width="0.9"/>
<line x1="381.00" y1="491.50" x2="396.20" y2="491.50" stroke="#111" stroke-width="1.3"/>
<line x1="388.50" y1="489.80" x2="388.50" y2="492.20" stroke="#111" stroke-width="0.9"/>
<line x1="385.80" y1="489.50" x2="391.40" y2="489.50" stroke="#111" stroke-width="0.9"/>
<line x1="385.80" y1="492.50" x2="391.40" y2="492.50" stroke="#111" stroke-width="0.9"/>
<line x1="456.50" y1="403.50" x2="456.50" y2="494.70" stroke="#111" stroke-width="1.1"/>
<line x1="453.80" y1="494.50" x2="456.90" y2="494.50" stroke="#111" stroke-width="1.0"/>
<text x="450.30" y="496.40" font-size="6.2" text-anchor="end" fill="#231f20">0</text>
<line x1="453.80" y1="476.50" x2="456.90" y2="476.50" stroke="#111" stroke-width="1.0"/>
<text x="450.30" y="478.44" font-size="6.2" text-anchor="end" fill="#231f20">20</text>
<line x1="453.80" y1="458.50" x2="456.90" y2="458.50" stroke="#111" stroke-width="1.0"/>
<text x="450.30" y="460.48" font-size="6.2" text-anchor="end" fill="#231f20">40</text>
<line x1="453.80" y1="440.50" x2="456.90" y2="440.50" stroke="#111" stroke-width="1.0"/>
<text x="450.30" y="442.52" font-size="6.2" text-anchor="end" fill="#231f20">60</text>
<line x1="453.80" y1="422.50" x2="456.90" y2="422.50" stroke="#111" stroke-width="1.0"/>
<text x="450.30" y="424.56" font-size="6.2" text-anchor="end" fill="#231f20">80</text>
<line x1="453.80" y1="404.50" x2="456.90" y2="404.50" stroke="#111" stroke-width="1.0"/>
<text x="450.30" y="406.60" font-size="6.2" text-anchor="end" fill="#231f20">100</text>
<line x1="456.90" y1="494.50" x2="512.00" y2="494.50" stroke="#111" stroke-width="1.1"/>
<line x1="472.50" y1="494.20" x2="472.50" y2="496.40" stroke="#111" stroke-width="0.9"/>
<line x1="496.50" y1="494.20" x2="496.50" y2="496.40" stroke="#111" stroke-width="0.9"/>
<text x="465.90" y="506.25" font-size="6.9" fill="#231f20" textLength="12.0" lengthAdjust="spacingAndGlyphs" style="stroke-width:0.25px">TIGIT</text>
<text x="478.20" y="503.10" font-size="4.0" fill="#231f20">−</text>
<text x="489.50" y="506.25" font-size="6.9" fill="#231f20" textLength="12.0" lengthAdjust="spacingAndGlyphs" style="stroke-width:0.25px">TIGIT</text>
<text x="501.80" y="503.10" font-size="4.0" fill="#231f20">+</text>
<text x="0" y="0" font-size="8.3" text-anchor="middle" fill="#231f20" transform="translate(434.10 448.25) rotate(-90)" textLength="63" lengthAdjust="spacingAndGlyphs">Proliferation (%)</text>
<path d="M472.9 403 L499.9 403" fill="none" stroke="#555" stroke-width="1.3"/>
<circle cx="482.95" cy="400.35" r="0.78" fill="#2a2a2a" stroke="none" stroke-width="1.0"/>
<circle cx="485.25" cy="400.35" r="0.78" fill="#2a2a2a" stroke="none" stroke-width="1.0"/>
<circle cx="487.55" cy="400.35" r="0.78" fill="#2a2a2a" stroke="none" stroke-width="1.0"/>
<circle cx="489.85" cy="400.35" r="0.78" fill="#2a2a2a" stroke="none" stroke-width="1.0"/>
<line x1="472.90" y1="406.73" x2="496.50" y2="414.10" stroke="#111" stroke-width="0.8"/>
<line x1="472.90" y1="406.73" x2="496.50" y2="419.94" stroke="#111" stroke-width="0.8"/>
<line x1="472.90" y1="408.44" x2="496.50" y2="421.82" stroke="#111" stroke-width="0.8"/>
<line x1="472.90" y1="408.44" x2="496.50" y2="424.07" stroke="#111" stroke-width="0.8"/>
<line x1="472.90" y1="410.96" x2="496.50" y2="419.94" stroke="#111" stroke-width="0.8"/>
<line x1="472.90" y1="410.96" x2="496.50" y2="426.31" stroke="#111" stroke-width="0.8"/>
<line x1="472.90" y1="413.92" x2="496.50" y2="430.08" stroke="#111" stroke-width="0.8"/>
<line x1="472.90" y1="413.92" x2="496.50" y2="424.07" stroke="#111" stroke-width="0.8"/>
<line x1="472.90" y1="413.92" x2="496.50" y2="431.97" stroke="#111" stroke-width="0.8"/>
<line x1="472.90" y1="417.69" x2="496.50" y2="433.94" stroke="#111" stroke-width="0.8"/>
<line x1="472.90" y1="417.69" x2="496.50" y2="435.83" stroke="#111" stroke-width="0.8"/>
<line x1="472.90" y1="419.22" x2="496.50" y2="430.08" stroke="#111" stroke-width="0.8"/>
<line x1="472.90" y1="419.22" x2="496.50" y2="431.97" stroke="#111" stroke-width="0.8"/>
<line x1="472.90" y1="417.69" x2="496.50" y2="445.98" stroke="#111" stroke-width="0.8"/>
<line x1="472.90" y1="419.22" x2="496.50" y2="440.32" stroke="#111" stroke-width="0.8"/>
<line x1="472.90" y1="410.96" x2="496.50" y2="426.31" stroke="#111" stroke-width="0.8"/>
<line x1="472.90" y1="432.96" x2="496.50" y2="440.32" stroke="#111" stroke-width="0.8"/>
<line x1="472.90" y1="435.83" x2="496.50" y2="481.81" stroke="#111" stroke-width="0.8"/>
<line x1="472.90" y1="435.83" x2="496.50" y2="457.29" stroke="#111" stroke-width="0.8"/>
<line x1="472.90" y1="453.97" x2="496.50" y2="461.96" stroke="#111" stroke-width="0.8"/>
<line x1="472.90" y1="408.44" x2="496.50" y2="420.56" stroke="#111" stroke-width="0.8"/>
<line x1="472.90" y1="415.62" x2="496.50" y2="425.50" stroke="#111" stroke-width="0.8"/>
<rect x="471.10" y="404.93" width="3.60" height="3.60" fill="none" stroke="#c0284a" stroke-width="0.95" rx="0.9"/>
<circle cx="496.50" cy="414.10" r="2.10" fill="#1f4c8f" stroke="none" stroke-width="1.0"/>
<rect x="471.10" y="404.93" width="3.60" height="3.60" fill="none" stroke="#c0284a" stroke-width="0.95" rx="0.9"/>
<circle cx="496.50" cy="419.94" r="2.10" fill="#1f4c8f" stroke="none" stroke-width="1.0"/>
<rect x="471.10" y="406.64" width="3.60" height="3.60" fill="none" stroke="#c0284a" stroke-width="0.95" rx="0.9"/>
<circle cx="496.50" cy="421.82" r="2.10" fill="#1f4c8f" stroke="none" stroke-width="1.0"/>
<rect x="471.10" y="406.64" width="3.60" height="3.60" fill="none" stroke="#c0284a" stroke-width="0.95" rx="0.9"/>
<circle cx="496.50" cy="424.07" r="2.10" fill="#1f4c8f" stroke="none" stroke-width="1.0"/>
<rect x="471.10" y="409.16" width="3.60" height="3.60" fill="none" stroke="#c0284a" stroke-width="0.95" rx="0.9"/>
<circle cx="496.50" cy="419.94" r="2.10" fill="#1f4c8f" stroke="none" stroke-width="1.0"/>
<rect x="471.10" y="409.16" width="3.60" height="3.60" fill="none" stroke="#c0284a" stroke-width="0.95" rx="0.9"/>
<circle cx="496.50" cy="426.31" r="2.10" fill="#1f4c8f" stroke="none" stroke-width="1.0"/>
<rect x="471.10" y="412.12" width="3.60" height="3.60" fill="none" stroke="#c0284a" stroke-width="0.95" rx="0.9"/>
<circle cx="496.50" cy="430.08" r="2.10" fill="#1f4c8f" stroke="none" stroke-width="1.0"/>
<rect x="471.10" y="412.12" width="3.60" height="3.60" fill="none" stroke="#c0284a" stroke-width="0.95" rx="0.9"/>
<circle cx="496.50" cy="424.07" r="2.10" fill="#1f4c8f" stroke="none" stroke-width="1.0"/>
<rect x="471.10" y="412.12" width="3.60" height="3.60" fill="none" stroke="#c0284a" stroke-width="0.95" rx="0.9"/>
<circle cx="496.50" cy="431.97" r="2.10" fill="#1f4c8f" stroke="none" stroke-width="1.0"/>
<rect x="471.10" y="415.89" width="3.60" height="3.60" fill="none" stroke="#c0284a" stroke-width="0.95" rx="0.9"/>
<circle cx="496.50" cy="433.94" r="2.10" fill="#1f4c8f" stroke="none" stroke-width="1.0"/>
<rect x="471.10" y="415.89" width="3.60" height="3.60" fill="none" stroke="#c0284a" stroke-width="0.95" rx="0.9"/>
<circle cx="496.50" cy="435.83" r="2.10" fill="#1f4c8f" stroke="none" stroke-width="1.0"/>
<rect x="471.10" y="417.42" width="3.60" height="3.60" fill="none" stroke="#c0284a" stroke-width="0.95" rx="0.9"/>
<circle cx="496.50" cy="430.08" r="2.10" fill="#1f4c8f" stroke="none" stroke-width="1.0"/>
<rect x="471.10" y="417.42" width="3.60" height="3.60" fill="none" stroke="#c0284a" stroke-width="0.95" rx="0.9"/>
<circle cx="496.50" cy="431.97" r="2.10" fill="#1f4c8f" stroke="none" stroke-width="1.0"/>
<rect x="471.10" y="415.89" width="3.60" height="3.60" fill="none" stroke="#c0284a" stroke-width="0.95" rx="0.9"/>
<circle cx="496.50" cy="445.98" r="2.10" fill="#1f4c8f" stroke="none" stroke-width="1.0"/>
<rect x="471.10" y="417.42" width="3.60" height="3.60" fill="none" stroke="#c0284a" stroke-width="0.95" rx="0.9"/>
<circle cx="496.50" cy="440.32" r="2.10" fill="#1f4c8f" stroke="none" stroke-width="1.0"/>
<rect x="471.10" y="409.16" width="3.60" height="3.60" fill="none" stroke="#c0284a" stroke-width="0.95" rx="0.9"/>
<circle cx="496.50" cy="426.31" r="2.10" fill="#1f4c8f" stroke="none" stroke-width="1.0"/>
<rect x="471.10" y="431.16" width="3.60" height="3.60" fill="none" stroke="#c0284a" stroke-width="0.95" rx="0.9"/>
<circle cx="496.50" cy="440.32" r="2.10" fill="#1f4c8f" stroke="none" stroke-width="1.0"/>
<rect x="471.10" y="434.03" width="3.60" height="3.60" fill="none" stroke="#c0284a" stroke-width="0.95" rx="0.9"/>
<circle cx="496.50" cy="481.81" r="2.10" fill="#1f4c8f" stroke="none" stroke-width="1.0"/>
<rect x="471.10" y="434.03" width="3.60" height="3.60" fill="none" stroke="#c0284a" stroke-width="0.95" rx="0.9"/>
<circle cx="496.50" cy="457.29" r="2.10" fill="#1f4c8f" stroke="none" stroke-width="1.0"/>
<rect x="471.10" y="452.17" width="3.60" height="3.60" fill="none" stroke="#c0284a" stroke-width="0.95" rx="0.9"/>
<circle cx="496.50" cy="461.96" r="2.10" fill="#1f4c8f" stroke="none" stroke-width="1.0"/>
<rect x="471.10" y="406.64" width="3.60" height="3.60" fill="none" stroke="#c0284a" stroke-width="0.95" rx="0.9"/>
<circle cx="496.50" cy="420.56" r="2.10" fill="#1f4c8f" stroke="none" stroke-width="1.0"/>
<rect x="471.10" y="413.82" width="3.60" height="3.60" fill="none" stroke="#c0284a" stroke-width="0.95" rx="0.9"/>
<circle cx="496.50" cy="425.50" r="2.10" fill="#1f4c8f" stroke="none" stroke-width="1.0"/>
<text x="12.60" y="526.88" font-size="11.5" fill="#111" style="stroke:none">H</text>
<line x1="46.50" y1="531.50" x2="46.50" y2="605.10" stroke="#111" stroke-width="1.1"/>
<line x1="43.15" y1="604.50" x2="46.25" y2="604.50" stroke="#111" stroke-width="1.0"/>
<text x="39.65" y="606.80" font-size="6.2" text-anchor="end" fill="#231f20">0</text>
<line x1="43.15" y1="586.50" x2="46.25" y2="586.50" stroke="#111" stroke-width="1.0"/>
<text x="39.65" y="588.99" font-size="6.2" text-anchor="end" fill="#231f20">10</text>
<line x1="43.15" y1="568.50" x2="46.25" y2="568.50" stroke="#111" stroke-width="1.0"/>
<text x="39.65" y="571.18" font-size="6.2" text-anchor="end" fill="#231f20">20</text>
<line x1="43.15" y1="551.50" x2="46.25" y2="551.50" stroke="#111" stroke-width="1.0"/>
<text x="39.65" y="553.37" font-size="6.2" text-anchor="end" fill="#231f20">30</text>
<line x1="43.15" y1="533.50" x2="46.25" y2="533.50" stroke="#111" stroke-width="1.0"/>
<text x="39.65" y="535.56" font-size="6.2" text-anchor="end" fill="#231f20">40</text>
<line x1="46.25" y1="604.50" x2="110.00" y2="604.50" stroke="#111" stroke-width="1.1"/>
<line x1="64.50" y1="604.60" x2="64.50" y2="606.80" stroke="#111" stroke-width="0.9"/>
<line x1="92.50" y1="604.60" x2="92.50" y2="606.80" stroke="#111" stroke-width="0.9"/>
<text x="57.60" y="616.85" font-size="6.9" fill="#231f20" textLength="12.0" lengthAdjust="spacingAndGlyphs" style="stroke-width:0.25px">TIGIT</text>
<text x="69.90" y="613.70" font-size="4.0" fill="#231f20">−</text>
<text x="85.00" y="616.85" font-size="6.9" fill="#231f20" textLength="12.0" lengthAdjust="spacingAndGlyphs" style="stroke-width:0.25px">TIGIT</text>
<text x="97.30" y="613.70" font-size="4.0" fill="#231f20">+</text>
<text x="0" y="0" font-size="8.3" text-anchor="middle" fill="#231f20" transform="translate(26.35 567.45) rotate(-90)">TNFα (%)</text>
<path d="M66.25 540.0 L94.5 540.0" fill="none" stroke="#444" stroke-width="1.3"/>
<circle cx="79.25" cy="537.15" r="0.78" fill="#2a2a2a" stroke="none" stroke-width="1.0"/>
<circle cx="81.55" cy="537.15" r="0.78" fill="#2a2a2a" stroke="none" stroke-width="1.0"/>
<line x1="64.60" y1="548.20" x2="92.00" y2="573.20" stroke="#111" stroke-width="0.95"/>
<line x1="64.60" y1="565.51" x2="92.00" y2="582.30" stroke="#111" stroke-width="0.95"/>
<line x1="64.60" y1="572.70" x2="92.00" y2="579.90" stroke="#111" stroke-width="0.95"/>
<line x1="64.60" y1="580.40" x2="92.00" y2="596.69" stroke="#111" stroke-width="0.95"/>
<line x1="64.60" y1="583.74" x2="92.00" y2="598.70" stroke="#111" stroke-width="0.95"/>
<line x1="64.60" y1="587.09" x2="92.00" y2="601.00" stroke="#111" stroke-width="0.95"/>
<line x1="64.60" y1="589.50" x2="92.00" y2="598.70" stroke="#111" stroke-width="0.95"/>
<line x1="64.60" y1="591.90" x2="92.00" y2="601.00" stroke="#111" stroke-width="0.95"/>
<line x1="64.60" y1="582.16" x2="92.00" y2="597.48" stroke="#111" stroke-width="0.95"/>
<line x1="64.60" y1="585.72" x2="92.00" y2="599.97" stroke="#111" stroke-width="0.95"/>
<circle cx="64.60" cy="548.20" r="2.30" fill="none" stroke="#c0284a" stroke-width="0.95"/>
<circle cx="92.00" cy="573.20" r="2.40" fill="#1f4c8f" stroke="none" stroke-width="1.0"/>
<circle cx="64.60" cy="565.51" r="2.30" fill="none" stroke="#c0284a" stroke-width="0.95"/>
<circle cx="92.00" cy="582.30" r="2.40" fill="#1f4c8f" stroke="none" stroke-width="1.0"/>
<circle cx="64.60" cy="572.70" r="2.30" fill="none" stroke="#c0284a" stroke-width="0.95"/>
<circle cx="92.00" cy="579.90" r="2.40" fill="#1f4c8f" stroke="none" stroke-width="1.0"/>
<circle cx="64.60" cy="580.40" r="2.30" fill="none" stroke="#c0284a" stroke-width="0.95"/>
<circle cx="92.00" cy="596.69" r="2.40" fill="#1f4c8f" stroke="none" stroke-width="1.0"/>
<circle cx="64.60" cy="583.74" r="2.30" fill="none" stroke="#c0284a" stroke-width="0.95"/>
<circle cx="92.00" cy="598.70" r="2.40" fill="#1f4c8f" stroke="none" stroke-width="1.0"/>
<circle cx="64.60" cy="587.09" r="2.30" fill="none" stroke="#c0284a" stroke-width="0.95"/>
<circle cx="92.00" cy="601.00" r="2.40" fill="#1f4c8f" stroke="none" stroke-width="1.0"/>
<circle cx="64.60" cy="589.50" r="2.30" fill="none" stroke="#c0284a" stroke-width="0.95"/>
<circle cx="92.00" cy="598.70" r="2.40" fill="#1f4c8f" stroke="none" stroke-width="1.0"/>
<circle cx="64.60" cy="591.90" r="2.30" fill="none" stroke="#c0284a" stroke-width="0.95"/>
<circle cx="92.00" cy="601.00" r="2.40" fill="#1f4c8f" stroke="none" stroke-width="1.0"/>
<circle cx="64.60" cy="582.16" r="2.30" fill="none" stroke="#c0284a" stroke-width="0.95"/>
<circle cx="92.00" cy="597.48" r="2.40" fill="#1f4c8f" stroke="none" stroke-width="1.0"/>
<circle cx="64.60" cy="585.72" r="2.30" fill="none" stroke="#c0284a" stroke-width="0.95"/>
<circle cx="92.00" cy="599.97" r="2.40" fill="#1f4c8f" stroke="none" stroke-width="1.0"/>
<line x1="146.50" y1="530.50" x2="146.50" y2="605.10" stroke="#111" stroke-width="1.1"/>
<line x1="143.10" y1="604.50" x2="146.20" y2="604.50" stroke="#111" stroke-width="1.0"/>
<text x="139.60" y="606.80" font-size="6.2" text-anchor="end" fill="#231f20">0</text>
<line x1="143.10" y1="586.50" x2="146.20" y2="586.50" stroke="#111" stroke-width="1.0"/>
<text x="139.60" y="588.44" font-size="6.2" text-anchor="end" fill="#231f20">5</text>
<line x1="143.10" y1="567.50" x2="146.20" y2="567.50" stroke="#111" stroke-width="1.0"/>
<text x="139.60" y="570.08" font-size="6.2" text-anchor="end" fill="#231f20">10</text>
<line x1="143.10" y1="549.50" x2="146.20" y2="549.50" stroke="#111" stroke-width="1.0"/>
<text x="139.60" y="551.72" font-size="6.2" text-anchor="end" fill="#231f20">15</text>
<line x1="143.10" y1="531.50" x2="146.20" y2="531.50" stroke="#111" stroke-width="1.0"/>
<text x="139.60" y="533.36" font-size="6.2" text-anchor="end" fill="#231f20">20</text>
<line x1="146.20" y1="604.50" x2="211.50" y2="604.50" stroke="#111" stroke-width="1.1"/>
<line x1="164.50" y1="604.60" x2="164.50" y2="606.80" stroke="#111" stroke-width="0.9"/>
<line x1="192.50" y1="604.60" x2="192.50" y2="606.80" stroke="#111" stroke-width="0.9"/>
<text x="157.70" y="616.85" font-size="6.9" fill="#231f20" textLength="12.0" lengthAdjust="spacingAndGlyphs" style="stroke-width:0.25px">TIGIT</text>
<text x="170.00" y="613.70" font-size="4.0" fill="#231f20">−</text>
<text x="185.40" y="616.85" font-size="6.9" fill="#231f20" textLength="12.0" lengthAdjust="spacingAndGlyphs" style="stroke-width:0.25px">TIGIT</text>
<text x="197.70" y="613.70" font-size="4.0" fill="#231f20">+</text>
<text x="0" y="0" font-size="8.3" text-anchor="middle" fill="#231f20" transform="translate(125.30 566.95) rotate(-90)">IFNγ (%)</text>
<path d="M166.5 540.0 L195.4 540.0" fill="none" stroke="#444" stroke-width="1.3"/>
<circle cx="179.85" cy="537.15" r="0.78" fill="#2a2a2a" stroke="none" stroke-width="1.0"/>
<circle cx="182.15" cy="537.15" r="0.78" fill="#2a2a2a" stroke="none" stroke-width="1.0"/>
<line x1="164.70" y1="548.20" x2="192.40" y2="563.58" stroke="#111" stroke-width="0.95"/>
<line x1="164.70" y1="549.59" x2="192.40" y2="571.70" stroke="#111" stroke-width="0.95"/>
<line x1="164.70" y1="552.02" x2="192.40" y2="585.21" stroke="#111" stroke-width="0.95"/>
<line x1="164.70" y1="561.89" x2="192.40" y2="582.31" stroke="#111" stroke-width="0.95"/>
<line x1="164.70" y1="566.41" x2="192.40" y2="569.31" stroke="#111" stroke-width="0.95"/>
<line x1="164.70" y1="575.59" x2="192.40" y2="587.60" stroke="#111" stroke-width="0.95"/>
<line x1="164.70" y1="579.19" x2="192.40" y2="589.51" stroke="#111" stroke-width="0.95"/>
<line x1="164.70" y1="586.90" x2="192.40" y2="595.79" stroke="#111" stroke-width="0.95"/>
<line x1="164.70" y1="549.89" x2="192.40" y2="579.89" stroke="#111" stroke-width="0.95"/>
<circle cx="164.70" cy="548.20" r="2.30" fill="none" stroke="#c0284a" stroke-width="0.95"/>
<circle cx="192.40" cy="563.58" r="2.40" fill="#1f4c8f" stroke="none" stroke-width="1.0"/>
<circle cx="164.70" cy="549.59" r="2.30" fill="none" stroke="#c0284a" stroke-width="0.95"/>
<circle cx="192.40" cy="571.70" r="2.40" fill="#1f4c8f" stroke="none" stroke-width="1.0"/>
<circle cx="164.70" cy="552.02" r="2.30" fill="none" stroke="#c0284a" stroke-width="0.95"/>
<circle cx="192.40" cy="585.21" r="2.40" fill="#1f4c8f" stroke="none" stroke-width="1.0"/>
<circle cx="164.70" cy="561.89" r="2.30" fill="none" stroke="#c0284a" stroke-width="0.95"/>
<circle cx="192.40" cy="582.31" r="2.40" fill="#1f4c8f" stroke="none" stroke-width="1.0"/>
<circle cx="164.70" cy="566.41" r="2.30" fill="none" stroke="#c0284a" stroke-width="0.95"/>
<circle cx="192.40" cy="569.31" r="2.40" fill="#1f4c8f" stroke="none" stroke-width="1.0"/>
<circle cx="164.70" cy="575.59" r="2.30" fill="none" stroke="#c0284a" stroke-width="0.95"/>
<circle cx="192.40" cy="587.60" r="2.40" fill="#1f4c8f" stroke="none" stroke-width="1.0"/>
<circle cx="164.70" cy="579.19" r="2.30" fill="none" stroke="#c0284a" stroke-width="0.95"/>
<circle cx="192.40" cy="589.51" r="2.40" fill="#1f4c8f" stroke="none" stroke-width="1.0"/>
<circle cx="164.70" cy="586.90" r="2.30" fill="none" stroke="#c0284a" stroke-width="0.95"/>
<circle cx="192.40" cy="595.79" r="2.40" fill="#1f4c8f" stroke="none" stroke-width="1.0"/>
<circle cx="164.70" cy="549.89" r="2.30" fill="none" stroke="#c0284a" stroke-width="0.95"/>
<circle cx="192.40" cy="579.89" r="2.40" fill="#1f4c8f" stroke="none" stroke-width="1.0"/>
<line x1="246.50" y1="530.50" x2="246.50" y2="605.10" stroke="#111" stroke-width="1.1"/>
<line x1="243.10" y1="604.50" x2="246.20" y2="604.50" stroke="#111" stroke-width="1.0"/>
<text x="239.60" y="606.80" font-size="6.2" text-anchor="end" fill="#231f20">0</text>
<line x1="243.10" y1="586.50" x2="246.20" y2="586.50" stroke="#111" stroke-width="1.0"/>
<text x="239.60" y="588.75" font-size="6.2" text-anchor="end" fill="#231f20">10</text>
<line x1="243.10" y1="568.50" x2="246.20" y2="568.50" stroke="#111" stroke-width="1.0"/>
<text x="239.60" y="570.70" font-size="6.2" text-anchor="end" fill="#231f20">20</text>
<line x1="243.10" y1="550.50" x2="246.20" y2="550.50" stroke="#111" stroke-width="1.0"/>
<text x="239.60" y="552.65" font-size="6.2" text-anchor="end" fill="#231f20">30</text>
<line x1="243.10" y1="532.50" x2="246.20" y2="532.50" stroke="#111" stroke-width="1.0"/>
<text x="239.60" y="534.60" font-size="6.2" text-anchor="end" fill="#231f20">40</text>
<line x1="246.20" y1="604.50" x2="311.50" y2="604.50" stroke="#111" stroke-width="1.1"/>
<line x1="264.50" y1="604.60" x2="264.50" y2="606.80" stroke="#111" stroke-width="0.9"/>
<line x1="292.50" y1="604.60" x2="292.50" y2="606.80" stroke="#111" stroke-width="0.9"/>
<text x="257.70" y="616.85" font-size="6.9" fill="#231f20" textLength="12.0" lengthAdjust="spacingAndGlyphs" style="stroke-width:0.25px">TIGIT</text>
<text x="270.00" y="613.70" font-size="4.0" fill="#231f20">−</text>
<text x="285.40" y="616.85" font-size="6.9" fill="#231f20" textLength="12.0" lengthAdjust="spacingAndGlyphs" style="stroke-width:0.25px">TIGIT</text>
<text x="297.70" y="613.70" font-size="4.0" fill="#231f20">+</text>
<text x="0" y="0" font-size="8.3" text-anchor="middle" fill="#231f20" transform="translate(226.40 566.95) rotate(-90)">CD107a (%)</text>
<path d="M264.2 529.6 L292.6 529.6" fill="none" stroke="#444" stroke-width="1.3"/>
<circle cx="276.20" cy="526.75" r="0.78" fill="#2a2a2a" stroke="none" stroke-width="1.0"/>
<circle cx="278.50" cy="526.75" r="0.78" fill="#2a2a2a" stroke="none" stroke-width="1.0"/>
<circle cx="280.80" cy="526.75" r="0.78" fill="#2a2a2a" stroke="none" stroke-width="1.0"/>
<line x1="264.70" y1="536.24" x2="292.40" y2="560.99" stroke="#111" stroke-width="0.95"/>
<line x1="264.70" y1="549.69" x2="292.40" y2="560.99" stroke="#111" stroke-width="0.95"/>
<line x1="264.70" y1="556.70" x2="292.40" y2="571.30" stroke="#111" stroke-width="0.95"/>
<line x1="264.70" y1="563.70" x2="292.40" y2="579.80" stroke="#111" stroke-width="0.95"/>
<line x1="264.70" y1="566.30" x2="292.40" y2="583.81" stroke="#111" stroke-width="0.95"/>
<line x1="264.70" y1="568.90" x2="292.40" y2="583.81" stroke="#111" stroke-width="0.95"/>
<line x1="264.70" y1="571.30" x2="292.40" y2="587.71" stroke="#111" stroke-width="0.95"/>
<line x1="264.70" y1="574.20" x2="292.40" y2="587.71" stroke="#111" stroke-width="0.95"/>
<line x1="264.70" y1="577.09" x2="292.40" y2="591.50" stroke="#111" stroke-width="0.95"/>
<line x1="264.70" y1="581.01" x2="292.40" y2="592.99" stroke="#111" stroke-width="0.95"/>
<line x1="264.70" y1="564.89" x2="292.40" y2="585.47" stroke="#111" stroke-width="0.95"/>
<line x1="264.70" y1="572.83" x2="292.40" y2="589.44" stroke="#111" stroke-width="0.95"/>
<line x1="264.70" y1="578.97" x2="292.40" y2="591.97" stroke="#111" stroke-width="0.95"/>
<line x1="264.70" y1="567.60" x2="292.40" y2="590.16" stroke="#111" stroke-width="0.95"/>
<circle cx="264.70" cy="536.24" r="2.30" fill="none" stroke="#c0284a" stroke-width="0.95"/>
<circle cx="292.40" cy="560.99" r="2.40" fill="#1f4c8f" stroke="none" stroke-width="1.0"/>
<circle cx="264.70" cy="549.69" r="2.30" fill="none" stroke="#c0284a" stroke-width="0.95"/>
<circle cx="292.40" cy="560.99" r="2.40" fill="#1f4c8f" stroke="none" stroke-width="1.0"/>
<circle cx="264.70" cy="556.70" r="2.30" fill="none" stroke="#c0284a" stroke-width="0.95"/>
<circle cx="292.40" cy="571.30" r="2.40" fill="#1f4c8f" stroke="none" stroke-width="1.0"/>
<circle cx="264.70" cy="563.70" r="2.30" fill="none" stroke="#c0284a" stroke-width="0.95"/>
<circle cx="292.40" cy="579.80" r="2.40" fill="#1f4c8f" stroke="none" stroke-width="1.0"/>
<circle cx="264.70" cy="566.30" r="2.30" fill="none" stroke="#c0284a" stroke-width="0.95"/>
<circle cx="292.40" cy="583.81" r="2.40" fill="#1f4c8f" stroke="none" stroke-width="1.0"/>
<circle cx="264.70" cy="568.90" r="2.30" fill="none" stroke="#c0284a" stroke-width="0.95"/>
<circle cx="292.40" cy="583.81" r="2.40" fill="#1f4c8f" stroke="none" stroke-width="1.0"/>
<circle cx="264.70" cy="571.30" r="2.30" fill="none" stroke="#c0284a" stroke-width="0.95"/>
<circle cx="292.40" cy="587.71" r="2.40" fill="#1f4c8f" stroke="none" stroke-width="1.0"/>
<circle cx="264.70" cy="574.20" r="2.30" fill="none" stroke="#c0284a" stroke-width="0.95"/>
<circle cx="292.40" cy="587.71" r="2.40" fill="#1f4c8f" stroke="none" stroke-width="1.0"/>
<circle cx="264.70" cy="577.09" r="2.30" fill="none" stroke="#c0284a" stroke-width="0.95"/>
<circle cx="292.40" cy="591.50" r="2.40" fill="#1f4c8f" stroke="none" stroke-width="1.0"/>
<circle cx="264.70" cy="581.01" r="2.30" fill="none" stroke="#c0284a" stroke-width="0.95"/>
<circle cx="292.40" cy="592.99" r="2.40" fill="#1f4c8f" stroke="none" stroke-width="1.0"/>
<circle cx="264.70" cy="564.89" r="2.30" fill="none" stroke="#c0284a" stroke-width="0.95"/>
<circle cx="292.40" cy="585.47" r="2.40" fill="#1f4c8f" stroke="none" stroke-width="1.0"/>
<circle cx="264.70" cy="572.83" r="2.30" fill="none" stroke="#c0284a" stroke-width="0.95"/>
<circle cx="292.40" cy="589.44" r="2.40" fill="#1f4c8f" stroke="none" stroke-width="1.0"/>
<circle cx="264.70" cy="578.97" r="2.30" fill="none" stroke="#c0284a" stroke-width="0.95"/>
<circle cx="292.40" cy="591.97" r="2.40" fill="#1f4c8f" stroke="none" stroke-width="1.0"/>
<circle cx="264.70" cy="567.60" r="2.30" fill="none" stroke="#c0284a" stroke-width="0.95"/>
<circle cx="292.40" cy="590.16" r="2.40" fill="#1f4c8f" stroke="none" stroke-width="1.0"/>
<text x="329.60" y="527.08" font-size="11.5" fill="#111" style="stroke:none">J</text>
<rect x="357.30" y="532.80" width="56.60" height="53.60" fill="none" stroke="#9a9a9a" stroke-width="0.9"/>
<line x1="357.50" y1="532.80" x2="357.50" y2="586.40" stroke="#666" stroke-width="0.8"/>
<line x1="357.30" y1="586.50" x2="413.90" y2="586.50" stroke="#666" stroke-width="0.8"/>
<line x1="355.10" y1="541.50" x2="357.30" y2="541.50" stroke="#222" stroke-width="0.8"/>
<text x="352.50" y="543.57" font-size="6.1" text-anchor="end" fill="#231f20">10<tspan font-size="3.78" dy="-2.75">4</tspan></text>
<line x1="355.10" y1="557.50" x2="357.30" y2="557.50" stroke="#222" stroke-width="0.8"/>
<text x="352.50" y="560.07" font-size="6.1" text-anchor="end" fill="#231f20">10<tspan font-size="3.78" dy="-2.75">3</tspan></text>
<line x1="355.10" y1="574.50" x2="357.30" y2="574.50" stroke="#222" stroke-width="0.8"/>
<text x="352.50" y="576.47" font-size="6.1" text-anchor="end" fill="#231f20">0</text>
<line x1="365.50" y1="586.40" x2="365.50" y2="588.40" stroke="#222" stroke-width="0.8"/>
<text x="365.50" y="597.27" font-size="6.1" text-anchor="middle" fill="#231f20">0</text>
<line x1="381.50" y1="586.40" x2="381.50" y2="588.40" stroke="#222" stroke-width="0.8"/>
<text x="381.98" y="597.27" font-size="6.1" text-anchor="middle" fill="#231f20">10<tspan font-size="3.78" dy="-2.75">3</tspan></text>
<line x1="394.50" y1="586.40" x2="394.50" y2="588.40" stroke="#222" stroke-width="0.8"/>
<text x="395.88" y="597.27" font-size="6.1" text-anchor="middle" fill="#231f20">10<tspan font-size="3.78" dy="-2.75">4</tspan></text>
<line x1="407.50" y1="586.40" x2="407.50" y2="588.40" stroke="#222" stroke-width="0.8"/>
<text x="408.88" y="597.27" font-size="6.1" text-anchor="middle" fill="#231f20">10<tspan font-size="3.78" dy="-2.75">5</tspan></text>
<text x="0" y="0" font-size="8.3" text-anchor="middle" fill="#231f20" transform="translate(336.5 559.6) rotate(-90)">TIGIT</text>
<text x="382.8" y="609.20" font-size="8.3" text-anchor="middle" fill="#231f20">TNFα</text>
<path d="M366.70 543.90 C372.30 543.90 373.35 549.90 373.35 557.90 L373.70 575.40 C373.70 582.40 370.20 583.40 366.70 583.40 C363.20 583.40 359.70 582.40 359.70 575.40 L360.05 557.90 C360.05 549.90 361.10 543.90 366.70 543.90 Z" fill="#cfcfcf" stroke="none" stroke-width="1.0" filter="url(#bl05)"/>
<g transform="translate(366.70 565.65) scale(0.86 0.9) translate(-366.70 -565.65)">
<path d="M366.70 543.90 C372.30 543.90 373.35 549.90 373.35 557.90 L373.70 575.40 C373.70 582.40 370.20 583.40 366.70 583.40 C363.20 583.40 359.70 582.40 359.70 575.40 L360.05 557.90 C360.05 549.90 361.10 543.90 366.70 543.90 Z" fill="url(#tdh)" stroke="none" stroke-width="1.0"/>
</g>
<path d="M364.50 553.50 C364.50 551.00 368.90 551.00 368.90 553.50 L368.70 568.80 L364.70 568.80 Z" fill="#2a2a2a" stroke="none" stroke-width="1.0"/>
<ellipse cx="366.70" cy="573.65" rx="4.50" ry="6.85" fill="#8c8c8c" stroke="#151515" stroke-width="1.8"/>
<ellipse cx="366.70" cy="574.15" rx="2.25" ry="3.77" fill="#b8b8b8"/>
<line x1="366.50" y1="553.00" x2="366.50" y2="568.30" stroke="#e8e8e8" stroke-width="1.0" stroke-linecap="round"/>
<circle cx="366.40" cy="574.85" r="1.00" fill="#f4f4f4" stroke="none" stroke-width="1.0"/>
<circle cx="378.39" cy="569.52" r="0.50" fill="#444" stroke="none" stroke-width="1.0"/>
<circle cx="390.57" cy="579.81" r="0.50" fill="#444" stroke="none" stroke-width="1.0"/>
<circle cx="382.44" cy="569.52" r="0.50" fill="#444" stroke="none" stroke-width="1.0"/>
<circle cx="385.42" cy="581.14" r="0.50" fill="#444" stroke="none" stroke-width="1.0"/>
<circle cx="382.72" cy="580.83" r="0.50" fill="#444" stroke="none" stroke-width="1.0"/>
<circle cx="399.19" cy="569.96" r="0.50" fill="#444" stroke="none" stroke-width="1.0"/>
<circle cx="395.14" cy="575.56" r="0.50" fill="#444" stroke="none" stroke-width="1.0"/>
<circle cx="391.20" cy="585.43" r="0.50" fill="#444" stroke="none" stroke-width="1.0"/>
<circle cx="380.98" cy="567.87" r="0.50" fill="#444" stroke="none" stroke-width="1.0"/>
<circle cx="408.07" cy="574.75" r="0.50" fill="#444" stroke="none" stroke-width="1.0"/>
<circle cx="384.35" cy="573.45" r="0.50" fill="#444" stroke="none" stroke-width="1.0"/>
<circle cx="389.68" cy="584.69" r="0.50" fill="#444" stroke="none" stroke-width="1.0"/>
<circle cx="384.73" cy="571.40" r="0.50" fill="#444" stroke="none" stroke-width="1.0"/>
<circle cx="396.72" cy="577.35" r="0.50" fill="#444" stroke="none" stroke-width="1.0"/>
<circle cx="408.52" cy="582.60" r="0.50" fill="#444" stroke="none" stroke-width="1.0"/>
<circle cx="389.38" cy="571.17" r="0.50" fill="#444" stroke="none" stroke-width="1.0"/>
<circle cx="404.77" cy="585.30" r="0.50" fill="#444" stroke="none" stroke-width="1.0"/>
<circle cx="378.97" cy="580.73" r="0.50" fill="#444" stroke="none" stroke-width="1.0"/>
<circle cx="405.79" cy="579.22" r="0.50" fill="#444" stroke="none" stroke-width="1.0"/>
<circle cx="384.99" cy="581.84" r="0.50" fill="#444" stroke="none" stroke-width="1.0"/>
<circle cx="401.35" cy="570.99" r="0.50" fill="#444" stroke="none" stroke-width="1.0"/>
<circle cx="398.51" cy="571.45" r="0.50" fill="#444" stroke="none" stroke-width="1.0"/>
<circle cx="379.33" cy="573.55" r="0.50" fill="#444" stroke="none" stroke-width="1.0"/>
<circle cx="388.70" cy="574.63" r="0.50" fill="#444" stroke="none" stroke-width="1.0"/>
<circle cx="398.70" cy="582.55" r="0.50" fill="#444" stroke="none" stroke-width="1.0"/>
<circle cx="408.76" cy="585.08" r="0.50" fill="#444" stroke="none" stroke-width="1.0"/>
<circle cx="409.79" cy="581.72" r="0.50" fill="#444" stroke="none" stroke-width="1.0"/>
<circle cx="387.80" cy="570.67" r="0.50" fill="#444" stroke="none" stroke-width="1.0"/>
<circle cx="397.96" cy="577.32" r="0.50" fill="#444" stroke="none" stroke-width="1.0"/>
<circle cx="399.58" cy="569.18" r="0.50" fill="#444" stroke="none" stroke-width="1.0"/>
<circle cx="384.17" cy="584.08" r="0.50" fill="#444" stroke="none" stroke-width="1.0"/>
<circle cx="397.24" cy="580.02" r="0.50" fill="#444" stroke="none" stroke-width="1.0"/>
<circle cx="381.06" cy="574.69" r="0.50" fill="#444" stroke="none" stroke-width="1.0"/>
<circle cx="407.12" cy="579.19" r="0.50" fill="#444" stroke="none" stroke-width="1.0"/>
<circle cx="409.73" cy="571.04" r="0.50" fill="#444" stroke="none" stroke-width="1.0"/>
<circle cx="392.55" cy="581.91" r="0.50" fill="#444" stroke="none" stroke-width="1.0"/>
<circle cx="392.23" cy="581.70" r="0.50" fill="#444" stroke="none" stroke-width="1.0"/>
<circle cx="395.97" cy="569.62" r="0.50" fill="#444" stroke="none" stroke-width="1.0"/>
<circle cx="381.16" cy="585.19" r="0.50" fill="#444" stroke="none" stroke-width="1.0"/>
<circle cx="381.82" cy="570.99" r="0.50" fill="#444" stroke="none" stroke-width="1.0"/>
<circle cx="388.73" cy="580.34" r="0.50" fill="#444" stroke="none" stroke-width="1.0"/>
<circle cx="405.33" cy="576.06" r="0.50" fill="#444" stroke="none" stroke-width="1.0"/>
<circle cx="393.94" cy="581.69" r="0.50" fill="#444" stroke="none" stroke-width="1.0"/>
<circle cx="386.90" cy="574.20" r="0.50" fill="#444" stroke="none" stroke-width="1.0"/>
<circle cx="397.61" cy="578.95" r="0.50" fill="#444" stroke="none" stroke-width="1.0"/>
<circle cx="379.22" cy="569.52" r="0.50" fill="#444" stroke="none" stroke-width="1.0"/>
<circle cx="382.41" cy="580.55" r="0.50" fill="#444" stroke="none" stroke-width="1.0"/>
<circle cx="400.17" cy="585.02" r="0.50" fill="#444" stroke="none" stroke-width="1.0"/>
<circle cx="402.56" cy="572.09" r="0.50" fill="#444" stroke="none" stroke-width="1.0"/>
<circle cx="402.50" cy="585.23" r="0.50" fill="#444" stroke="none" stroke-width="1.0"/>
<circle cx="389.16" cy="567.70" r="0.50" fill="#444" stroke="none" stroke-width="1.0"/>
<circle cx="390.01" cy="572.59" r="0.50" fill="#444" stroke="none" stroke-width="1.0"/>
<circle cx="383.64" cy="568.31" r="0.50" fill="#444" stroke="none" stroke-width="1.0"/>
<circle cx="382.00" cy="583.07" r="0.50" fill="#444" stroke="none" stroke-width="1.0"/>
<circle cx="379.60" cy="578.55" r="0.50" fill="#444" stroke="none" stroke-width="1.0"/>
<circle cx="384.61" cy="570.98" r="0.50" fill="#444" stroke="none" stroke-width="1.0"/>
<circle cx="404.26" cy="572.88" r="0.50" fill="#444" stroke="none" stroke-width="1.0"/>
<circle cx="383.88" cy="575.69" r="0.50" fill="#444" stroke="none" stroke-width="1.0"/>
<circle cx="400.24" cy="576.94" r="0.50" fill="#444" stroke="none" stroke-width="1.0"/>
<circle cx="405.51" cy="574.73" r="0.50" fill="#444" stroke="none" stroke-width="1.0"/>
<circle cx="394.77" cy="580.41" r="0.50" fill="#444" stroke="none" stroke-width="1.0"/>
<circle cx="392.77" cy="580.41" r="0.50" fill="#444" stroke="none" stroke-width="1.0"/>
<circle cx="392.94" cy="569.91" r="0.50" fill="#444" stroke="none" stroke-width="1.0"/>
<circle cx="381.95" cy="581.60" r="0.50" fill="#444" stroke="none" stroke-width="1.0"/>
<circle cx="401.84" cy="584.47" r="0.50" fill="#444" stroke="none" stroke-width="1.0"/>
<circle cx="400.08" cy="577.94" r="0.50" fill="#444" stroke="none" stroke-width="1.0"/>
<circle cx="383.32" cy="582.86" r="0.50" fill="#444" stroke="none" stroke-width="1.0"/>
<circle cx="381.80" cy="575.15" r="0.50" fill="#444" stroke="none" stroke-width="1.0"/>
<circle cx="382.50" cy="574.35" r="0.50" fill="#444" stroke="none" stroke-width="1.0"/>
<circle cx="387.83" cy="575.16" r="0.50" fill="#444" stroke="none" stroke-width="1.0"/>
<circle cx="360.93" cy="542.64" r="0.50" fill="#444" stroke="none" stroke-width="1.0"/>
<circle cx="363.64" cy="544.70" r="0.50" fill="#444" stroke="none" stroke-width="1.0"/>
<circle cx="365.96" cy="544.16" r="0.50" fill="#444" stroke="none" stroke-width="1.0"/>
<circle cx="361.20" cy="543.53" r="0.50" fill="#444" stroke="none" stroke-width="1.0"/>
<circle cx="370.12" cy="543.57" r="0.50" fill="#444" stroke="none" stroke-width="1.0"/>
<circle cx="371.34" cy="544.65" r="0.50" fill="#444" stroke="none" stroke-width="1.0"/>
<circle cx="375.29" cy="578.76" r="0.50" fill="#444" stroke="none" stroke-width="1.0"/>
<circle cx="376.48" cy="581.63" r="0.50" fill="#444" stroke="none" stroke-width="1.0"/>
<circle cx="373.72" cy="584.14" r="0.50" fill="#444" stroke="none" stroke-width="1.0"/>
<circle cx="375.40" cy="578.68" r="0.50" fill="#444" stroke="none" stroke-width="1.0"/>
<circle cx="376.53" cy="583.23" r="0.50" fill="#444" stroke="none" stroke-width="1.0"/>
<circle cx="373.64" cy="569.17" r="0.50" fill="#444" stroke="none" stroke-width="1.0"/>
<circle cx="376.30" cy="574.63" r="0.50" fill="#444" stroke="none" stroke-width="1.0"/>
<circle cx="376.50" cy="569.11" r="0.50" fill="#444" stroke="none" stroke-width="1.0"/>
<circle cx="377.73" cy="560.28" r="0.50" fill="#444" stroke="none" stroke-width="1.0"/>
<circle cx="376.33" cy="569.36" r="0.50" fill="#444" stroke="none" stroke-width="1.0"/>
<rect x="376.70" y="544.90" width="34.60" height="21.10" fill="none" stroke="#555" stroke-width="1.3"/>
<rect x="376.70" y="566.00" width="34.60" height="20.40" fill="none" stroke="#555" stroke-width="1.3"/>
<text x="410.50" y="553.10" font-size="10.4" font-weight="bold" text-anchor="end" fill="#111" style="stroke:#111;stroke-width:0.45px" textLength="5.2" lengthAdjust="spacingAndGlyphs">0</text>
<text x="411.30" y="585.60" font-size="10.4" font-weight="bold" text-anchor="end" fill="#111" style="stroke:#111;stroke-width:0.45px" textLength="14.0" lengthAdjust="spacingAndGlyphs">1.5</text>
<rect x="449.70" y="532.80" width="51.50" height="53.10" fill="none" stroke="#9a9a9a" stroke-width="0.9"/>
<line x1="449.50" y1="532.80" x2="449.50" y2="585.90" stroke="#666" stroke-width="0.8"/>
<line x1="449.70" y1="585.50" x2="501.20" y2="585.50" stroke="#666" stroke-width="0.8"/>
<line x1="447.50" y1="540.50" x2="449.70" y2="540.50" stroke="#222" stroke-width="0.8"/>
<text x="445.40" y="543.07" font-size="6.1" text-anchor="end" fill="#231f20">10<tspan font-size="3.78" dy="-2.75">4</tspan></text>
<line x1="447.50" y1="557.50" x2="449.70" y2="557.50" stroke="#222" stroke-width="0.8"/>
<text x="445.40" y="559.17" font-size="6.1" text-anchor="end" fill="#231f20">10<tspan font-size="3.78" dy="-2.75">3</tspan></text>
<line x1="447.50" y1="574.50" x2="449.70" y2="574.50" stroke="#222" stroke-width="0.8"/>
<text x="445.40" y="576.47" font-size="6.1" text-anchor="end" fill="#231f20">0</text>
<line x1="457.50" y1="585.90" x2="457.50" y2="587.90" stroke="#222" stroke-width="0.8"/>
<text x="457.00" y="597.27" font-size="6.1" text-anchor="middle" fill="#231f20">0</text>
<line x1="471.50" y1="585.90" x2="471.50" y2="587.90" stroke="#222" stroke-width="0.8"/>
<text x="472.38" y="597.27" font-size="6.1" text-anchor="middle" fill="#231f20">10<tspan font-size="3.78" dy="-2.75">3</tspan></text>
<line x1="484.50" y1="585.90" x2="484.50" y2="587.90" stroke="#222" stroke-width="0.8"/>
<text x="485.68" y="597.27" font-size="6.1" text-anchor="middle" fill="#231f20">10<tspan font-size="3.78" dy="-2.75">4</tspan></text>
<line x1="496.50" y1="585.90" x2="496.50" y2="587.90" stroke="#222" stroke-width="0.8"/>
<text x="496.98" y="597.27" font-size="6.1" text-anchor="middle" fill="#231f20">10<tspan font-size="3.78" dy="-2.75">5</tspan></text>
<text x="0" y="0" font-size="8.3" text-anchor="middle" fill="#231f20" transform="translate(427.5 559.6) rotate(-90)">TIGIT</text>
<text x="473.50" y="609.25" font-size="8.3" text-anchor="middle" textLength="29" lengthAdjust="spacingAndGlyphs" fill="#231f20">CD107a</text>
<path d="M463.10 543.90 C468.94 543.90 470.04 549.90 470.04 557.90 L470.40 575.80 C470.40 582.80 466.75 583.80 463.10 583.80 C459.45 583.80 455.80 582.80 455.80 575.80 L456.17 557.90 C456.17 549.90 457.26 543.90 463.10 543.90 Z" fill="#cfcfcf" stroke="none" stroke-width="1.0" filter="url(#bl05)"/>
<g transform="translate(463.10 565.85) scale(0.86 0.9) translate(-463.10 -565.85)">
<path d="M463.10 543.90 C468.94 543.90 470.04 549.90 470.04 557.90 L470.40 575.80 C470.40 582.80 466.75 583.80 463.10 583.80 C459.45 583.80 455.80 582.80 455.80 575.80 L456.17 557.90 C456.17 549.90 457.26 543.90 463.10 543.90 Z" fill="url(#tdh)" stroke="none" stroke-width="1.0"/>
</g>
<path d="M460.90 553.70 C460.90 551.20 465.30 551.20 465.30 553.70 L465.10 569.50 L461.10 569.50 Z" fill="#2a2a2a" stroke="none" stroke-width="1.0"/>
<ellipse cx="463.10" cy="574.00" rx="5.10" ry="6.50" fill="#8c8c8c" stroke="#151515" stroke-width="1.8"/>
<ellipse cx="463.10" cy="574.50" rx="2.55" ry="3.58" fill="#b8b8b8"/>
<line x1="463.50" y1="553.20" x2="463.50" y2="569.00" stroke="#e8e8e8" stroke-width="1.0" stroke-linecap="round"/>
<circle cx="462.80" cy="575.20" r="1.00" fill="#f4f4f4" stroke="none" stroke-width="1.0"/>
<circle cx="487.69" cy="576.20" r="0.50" fill="#444" stroke="none" stroke-width="1.0"/>
<circle cx="493.61" cy="569.63" r="0.50" fill="#444" stroke="none" stroke-width="1.0"/>
<circle cx="489.64" cy="580.98" r="0.50" fill="#444" stroke="none" stroke-width="1.0"/>
<circle cx="495.81" cy="567.95" r="0.50" fill="#444" stroke="none" stroke-width="1.0"/>
<circle cx="489.64" cy="575.92" r="0.50" fill="#444" stroke="none" stroke-width="1.0"/>
<circle cx="486.08" cy="582.37" r="0.50" fill="#444" stroke="none" stroke-width="1.0"/>
<circle cx="486.68" cy="572.74" r="0.50" fill="#444" stroke="none" stroke-width="1.0"/>
<circle cx="496.65" cy="576.26" r="0.50" fill="#444" stroke="none" stroke-width="1.0"/>
<circle cx="481.23" cy="570.22" r="0.50" fill="#444" stroke="none" stroke-width="1.0"/>
<circle cx="485.91" cy="565.47" r="0.50" fill="#444" stroke="none" stroke-width="1.0"/>
<circle cx="488.58" cy="578.11" r="0.50" fill="#444" stroke="none" stroke-width="1.0"/>
<circle cx="484.23" cy="580.16" r="0.50" fill="#444" stroke="none" stroke-width="1.0"/>
<circle cx="496.27" cy="574.78" r="0.50" fill="#444" stroke="none" stroke-width="1.0"/>
<circle cx="490.35" cy="566.67" r="0.50" fill="#444" stroke="none" stroke-width="1.0"/>
<circle cx="475.34" cy="582.63" r="0.50" fill="#444" stroke="none" stroke-width="1.0"/>
<circle cx="480.83" cy="568.45" r="0.50" fill="#444" stroke="none" stroke-width="1.0"/>
<circle cx="495.52" cy="578.37" r="0.50" fill="#444" stroke="none" stroke-width="1.0"/>
<circle cx="476.96" cy="570.45" r="0.50" fill="#444" stroke="none" stroke-width="1.0"/>
<circle cx="479.82" cy="569.55" r="0.50" fill="#444" stroke="none" stroke-width="1.0"/>
<circle cx="474.15" cy="574.21" r="0.50" fill="#444" stroke="none" stroke-width="1.0"/>
<circle cx="481.30" cy="571.79" r="0.50" fill="#444" stroke="none" stroke-width="1.0"/>
<circle cx="478.45" cy="566.54" r="0.50" fill="#444" stroke="none" stroke-width="1.0"/>
<circle cx="474.79" cy="580.65" r="0.50" fill="#444" stroke="none" stroke-width="1.0"/>
<circle cx="491.94" cy="574.85" r="0.50" fill="#444" stroke="none" stroke-width="1.0"/>
<circle cx="476.97" cy="567.26" r="0.50" fill="#444" stroke="none" stroke-width="1.0"/>
<circle cx="476.87" cy="570.36" r="0.50" fill="#444" stroke="none" stroke-width="1.0"/>
<circle cx="475.38" cy="569.59" r="0.50" fill="#444" stroke="none" stroke-width="1.0"/>
<circle cx="478.87" cy="568.07" r="0.50" fill="#444" stroke="none" stroke-width="1.0"/>
<circle cx="489.69" cy="572.97" r="0.50" fill="#444" stroke="none" stroke-width="1.0"/>
<circle cx="485.36" cy="571.12" r="0.50" fill="#444" stroke="none" stroke-width="1.0"/>
<circle cx="486.94" cy="579.03" r="0.50" fill="#444" stroke="none" stroke-width="1.0"/>
<circle cx="481.39" cy="565.80" r="0.50" fill="#444" stroke="none" stroke-width="1.0"/>
<circle cx="485.55" cy="571.51" r="0.50" fill="#444" stroke="none" stroke-width="1.0"/>
<circle cx="492.73" cy="566.55" r="0.50" fill="#444" stroke="none" stroke-width="1.0"/>
<circle cx="494.95" cy="564.77" r="0.50" fill="#444" stroke="none" stroke-width="1.0"/>
<circle cx="487.01" cy="572.71" r="0.50" fill="#444" stroke="none" stroke-width="1.0"/>
<circle cx="481.57" cy="580.94" r="0.50" fill="#444" stroke="none" stroke-width="1.0"/>
<circle cx="490.85" cy="567.52" r="0.50" fill="#444" stroke="none" stroke-width="1.0"/>
<circle cx="485.88" cy="575.83" r="0.50" fill="#444" stroke="none" stroke-width="1.0"/>
<circle cx="474.80" cy="566.12" r="0.50" fill="#444" stroke="none" stroke-width="1.0"/>
<circle cx="488.44" cy="578.00" r="0.50" fill="#444" stroke="none" stroke-width="1.0"/>
<circle cx="485.10" cy="572.31" r="0.50" fill="#444" stroke="none" stroke-width="1.0"/>
<circle cx="486.17" cy="569.32" r="0.50" fill="#444" stroke="none" stroke-width="1.0"/>
<circle cx="495.04" cy="582.29" r="0.50" fill="#444" stroke="none" stroke-width="1.0"/>
<circle cx="485.57" cy="564.88" r="0.50" fill="#444" stroke="none" stroke-width="1.0"/>
<circle cx="483.53" cy="579.36" r="0.50" fill="#444" stroke="none" stroke-width="1.0"/>
<circle cx="481.80" cy="566.45" r="0.50" fill="#444" stroke="none" stroke-width="1.0"/>
<circle cx="478.45" cy="577.67" r="0.50" fill="#444" stroke="none" stroke-width="1.0"/>
<circle cx="488.93" cy="569.79" r="0.50" fill="#444" stroke="none" stroke-width="1.0"/>
<circle cx="488.97" cy="578.57" r="0.50" fill="#444" stroke="none" stroke-width="1.0"/>
<circle cx="453.64" cy="565.50" r="0.50" fill="#444" stroke="none" stroke-width="1.0"/>
<circle cx="455.22" cy="576.45" r="0.50" fill="#444" stroke="none" stroke-width="1.0"/>
<circle cx="455.41" cy="557.76" r="0.50" fill="#444" stroke="none" stroke-width="1.0"/>
<circle cx="455.74" cy="559.84" r="0.50" fill="#444" stroke="none" stroke-width="1.0"/>
<circle cx="452.53" cy="548.31" r="0.50" fill="#444" stroke="none" stroke-width="1.0"/>
<circle cx="453.56" cy="550.42" r="0.50" fill="#444" stroke="none" stroke-width="1.0"/>
<circle cx="452.37" cy="566.37" r="0.50" fill="#444" stroke="none" stroke-width="1.0"/>
<circle cx="454.88" cy="571.34" r="0.50" fill="#444" stroke="none" stroke-width="1.0"/>
<circle cx="451.43" cy="547.14" r="0.50" fill="#444" stroke="none" stroke-width="1.0"/>
<circle cx="452.28" cy="564.32" r="0.50" fill="#444" stroke="none" stroke-width="1.0"/>
<circle cx="455.19" cy="573.02" r="0.50" fill="#444" stroke="none" stroke-width="1.0"/>
<circle cx="455.67" cy="565.61" r="0.50" fill="#444" stroke="none" stroke-width="1.0"/>
<circle cx="454.18" cy="555.22" r="0.50" fill="#444" stroke="none" stroke-width="1.0"/>
<circle cx="452.57" cy="552.21" r="0.50" fill="#444" stroke="none" stroke-width="1.0"/>
<circle cx="471.30" cy="582.66" r="0.50" fill="#333" stroke="none" stroke-width="1.0"/>
<circle cx="475.71" cy="581.37" r="0.50" fill="#333" stroke="none" stroke-width="1.0"/>
<circle cx="474.53" cy="580.50" r="0.50" fill="#333" stroke="none" stroke-width="1.0"/>
<circle cx="469.00" cy="575.54" r="0.50" fill="#333" stroke="none" stroke-width="1.0"/>
<circle cx="470.73" cy="577.61" r="0.50" fill="#333" stroke="none" stroke-width="1.0"/>
<circle cx="472.03" cy="574.20" r="0.50" fill="#333" stroke="none" stroke-width="1.0"/>
<circle cx="472.80" cy="574.52" r="0.50" fill="#333" stroke="none" stroke-width="1.0"/>
<circle cx="474.79" cy="582.63" r="0.50" fill="#333" stroke="none" stroke-width="1.0"/>
<circle cx="471.42" cy="579.12" r="0.50" fill="#333" stroke="none" stroke-width="1.0"/>
<circle cx="475.22" cy="570.84" r="0.50" fill="#333" stroke="none" stroke-width="1.0"/>
<circle cx="469.86" cy="572.95" r="0.50" fill="#333" stroke="none" stroke-width="1.0"/>
<circle cx="474.35" cy="573.48" r="0.50" fill="#333" stroke="none" stroke-width="1.0"/>
<circle cx="470.29" cy="577.11" r="0.50" fill="#333" stroke="none" stroke-width="1.0"/>
<circle cx="471.27" cy="580.72" r="0.50" fill="#333" stroke="none" stroke-width="1.0"/>
<circle cx="470.18" cy="574.88" r="0.50" fill="#333" stroke="none" stroke-width="1.0"/>
<circle cx="471.70" cy="582.70" r="0.50" fill="#333" stroke="none" stroke-width="1.0"/>
<rect x="472.60" y="540.60" width="27.20" height="21.10" fill="none" stroke="#555" stroke-width="1.3"/>
<rect x="472.60" y="563.00" width="27.20" height="20.80" fill="none" stroke="#555" stroke-width="1.3"/>
<text x="497.70" y="550.90" font-size="10.4" font-weight="bold" text-anchor="end" fill="#111" style="stroke:#111;stroke-width:0.45px" textLength="5.2" lengthAdjust="spacingAndGlyphs">0</text>
<text x="498.60" y="583.10" font-size="10.4" font-weight="bold" text-anchor="end" fill="#111" style="stroke:#111;stroke-width:0.45px" textLength="13.8" lengthAdjust="spacingAndGlyphs">1.1</text>
<line x1="362.50" y1="622.50" x2="362.50" y2="689.90" stroke="#111" stroke-width="1.1"/>
<line x1="358.90" y1="689.50" x2="362.00" y2="689.50" stroke="#111" stroke-width="1.0"/>
<text x="355.40" y="691.60" font-size="6.2" text-anchor="end" fill="#231f20">0</text>
<line x1="358.90" y1="673.50" x2="362.00" y2="673.50" stroke="#111" stroke-width="1.0"/>
<text x="355.40" y="675.25" font-size="6.2" text-anchor="end" fill="#231f20">0.5</text>
<line x1="358.90" y1="656.50" x2="362.00" y2="656.50" stroke="#111" stroke-width="1.0"/>
<text x="355.40" y="658.90" font-size="6.2" text-anchor="end" fill="#231f20">1.0</text>
<line x1="358.90" y1="640.50" x2="362.00" y2="640.50" stroke="#111" stroke-width="1.0"/>
<text x="355.40" y="642.55" font-size="6.2" text-anchor="end" fill="#231f20">1.5</text>
<line x1="358.90" y1="624.50" x2="362.00" y2="624.50" stroke="#111" stroke-width="1.0"/>
<text x="355.40" y="626.20" font-size="6.2" text-anchor="end" fill="#231f20">2.0</text>
<line x1="362.00" y1="689.50" x2="413.90" y2="689.50" stroke="#111" stroke-width="1.1"/>
<line x1="378.50" y1="689.40" x2="378.50" y2="691.60" stroke="#111" stroke-width="0.9"/>
<line x1="402.50" y1="689.40" x2="402.50" y2="691.60" stroke="#111" stroke-width="0.9"/>
<text x="370.35" y="701.99" font-size="7.0" fill="#231f20" textLength="13.5" lengthAdjust="spacingAndGlyphs" style="stroke-width:0.25px">TIGIT</text>
<text x="384.15" y="698.80" font-size="4.0" fill="#231f20">−</text>
<text x="394.55" y="701.99" font-size="7.0" fill="#231f20" textLength="13.5" lengthAdjust="spacingAndGlyphs" style="stroke-width:0.25px">TIGIT</text>
<text x="408.35" y="698.80" font-size="4.0" fill="#231f20">+</text>
<text x="0" y="0" font-size="8.3" text-anchor="middle" fill="#231f20" transform="translate(339.90 655.35) rotate(-90)">TNFα (%)</text>
<path d="M378.10 629.70 L406.50 629.70" fill="none" stroke="#4a4a4a" stroke-width="1.25"/>
<circle cx="392.30" cy="626.85" r="0.78" fill="#2a2a2a" stroke="none" stroke-width="1.0"/>
<circle cx="378.10" cy="639.20" r="2.30" fill="none" stroke="#c0284a" stroke-width="0.95"/>
<circle cx="378.10" cy="673.00" r="2.30" fill="none" stroke="#c0284a" stroke-width="0.95"/>
<circle cx="374.70" cy="680.80" r="2.30" fill="none" stroke="#c0284a" stroke-width="0.95"/>
<circle cx="381.90" cy="680.40" r="2.30" fill="none" stroke="#c0284a" stroke-width="0.95"/>
<circle cx="376.40" cy="685.10" r="2.30" fill="none" stroke="#c0284a" stroke-width="0.95"/>
<circle cx="379.50" cy="684.00" r="2.30" fill="none" stroke="#c0284a" stroke-width="0.95"/>
<circle cx="394.50" cy="689.00" r="2.20" fill="#1f4c8f" stroke="none" stroke-width="1.0"/>
<circle cx="397.50" cy="689.00" r="2.20" fill="#1f4c8f" stroke="none" stroke-width="1.0"/>
<circle cx="400.50" cy="689.00" r="2.20" fill="#1f4c8f" stroke="none" stroke-width="1.0"/>
<circle cx="403.50" cy="689.00" r="2.20" fill="#1f4c8f" stroke="none" stroke-width="1.0"/>
<circle cx="406.50" cy="689.00" r="2.20" fill="#1f4c8f" stroke="none" stroke-width="1.0"/>
<line x1="370.20" y1="673.50" x2="386.20" y2="673.50" stroke="#111" stroke-width="1.3"/>
<line x1="378.50" y1="666.40" x2="378.50" y2="683.00" stroke="#111" stroke-width="0.9"/>
<line x1="372.40" y1="666.50" x2="384.00" y2="666.50" stroke="#111" stroke-width="0.9"/>
<line x1="372.40" y1="683.50" x2="384.00" y2="683.50" stroke="#111" stroke-width="0.9"/>
<line x1="393.00" y1="689.50" x2="408.00" y2="689.50" stroke="#111" stroke-width="1.2"/>
<line x1="449.50" y1="622.50" x2="449.50" y2="689.80" stroke="#111" stroke-width="1.1"/>
<line x1="446.40" y1="689.50" x2="449.50" y2="689.50" stroke="#111" stroke-width="1.0"/>
<text x="442.90" y="691.50" font-size="6.2" text-anchor="end" fill="#231f20">0</text>
<line x1="446.40" y1="667.50" x2="449.50" y2="667.50" stroke="#111" stroke-width="1.0"/>
<text x="442.90" y="669.97" font-size="6.2" text-anchor="end" fill="#231f20">0.5</text>
<line x1="446.40" y1="646.50" x2="449.50" y2="646.50" stroke="#111" stroke-width="1.0"/>
<text x="442.90" y="648.43" font-size="6.2" text-anchor="end" fill="#231f20">1.0</text>
<line x1="446.40" y1="624.50" x2="449.50" y2="624.50" stroke="#111" stroke-width="1.0"/>
<text x="442.90" y="626.90" font-size="6.2" text-anchor="end" fill="#231f20">1.5</text>
<line x1="449.50" y1="689.50" x2="503.10" y2="689.50" stroke="#111" stroke-width="1.1"/>
<line x1="465.50" y1="689.30" x2="465.50" y2="691.50" stroke="#111" stroke-width="0.9"/>
<line x1="490.50" y1="689.30" x2="490.50" y2="691.50" stroke="#111" stroke-width="0.9"/>
<text x="458.05" y="701.99" font-size="7.0" fill="#231f20" textLength="13.5" lengthAdjust="spacingAndGlyphs" style="stroke-width:0.25px">TIGIT</text>
<text x="471.85" y="698.80" font-size="4.0" fill="#231f20">−</text>
<text x="483.05" y="701.99" font-size="7.0" fill="#231f20" textLength="13.5" lengthAdjust="spacingAndGlyphs" style="stroke-width:0.25px">TIGIT</text>
<text x="496.85" y="698.80" font-size="4.0" fill="#231f20">+</text>
<text x="0" y="0" font-size="8.3" text-anchor="middle" fill="#231f20" transform="translate(427.50 655.30) rotate(-90)" textLength="44" lengthAdjust="spacingAndGlyphs">CD107a (%)</text>
<circle cx="466.20" cy="639.20" r="2.30" fill="none" stroke="#c0284a" stroke-width="0.95"/>
<circle cx="466.20" cy="665.00" r="2.30" fill="none" stroke="#c0284a" stroke-width="0.95"/>
<circle cx="462.80" cy="678.40" r="2.30" fill="none" stroke="#c0284a" stroke-width="0.95"/>
<circle cx="465.80" cy="678.80" r="2.30" fill="none" stroke="#c0284a" stroke-width="0.95"/>
<circle cx="469.20" cy="676.50" r="2.30" fill="none" stroke="#c0284a" stroke-width="0.95"/>
<circle cx="468.00" cy="679.30" r="2.30" fill="none" stroke="#c0284a" stroke-width="0.95"/>
<circle cx="487.40" cy="677.80" r="2.20" fill="#1f4c8f" stroke="none" stroke-width="1.0"/>
<circle cx="498.20" cy="681.50" r="2.20" fill="#1f4c8f" stroke="none" stroke-width="1.0"/>
<circle cx="493.80" cy="683.90" r="2.20" fill="#1f4c8f" stroke="none" stroke-width="1.0"/>
<circle cx="487.70" cy="686.50" r="2.20" fill="#1f4c8f" stroke="none" stroke-width="1.0"/>
<circle cx="492.30" cy="689.00" r="2.20" fill="#1f4c8f" stroke="none" stroke-width="1.0"/>
<circle cx="496.00" cy="686.50" r="2.20" fill="#1f4c8f" stroke="none" stroke-width="1.0"/>
<circle cx="490.00" cy="688.50" r="2.20" fill="#1f4c8f" stroke="none" stroke-width="1.0"/>
<line x1="458.20" y1="669.50" x2="473.80" y2="669.50" stroke="#111" stroke-width="1.3"/>
<line x1="466.50" y1="663.50" x2="466.50" y2="676.50" stroke="#111" stroke-width="0.9"/>
<line x1="461.00" y1="663.50" x2="471.00" y2="663.50" stroke="#111" stroke-width="0.9"/>
<line x1="461.00" y1="676.50" x2="471.00" y2="676.50" stroke="#111" stroke-width="0.9"/>
<line x1="483.10" y1="684.50" x2="498.50" y2="684.50" stroke="#111" stroke-width="1.3"/>
<text x="9.1" y="638.9" font-size="12" fill="#111" style="stroke:none">I</text>
<rect x="48.75" y="639.50" width="69.25" height="70.00" fill="none" stroke="#9a9a9a" stroke-width="0.9"/>
<line x1="48.50" y1="639.50" x2="48.50" y2="709.50" stroke="#666" stroke-width="0.8"/>
<line x1="48.75" y1="709.50" x2="118.00" y2="709.50" stroke="#666" stroke-width="0.8"/>
<line x1="46.55" y1="647.50" x2="48.75" y2="647.50" stroke="#222" stroke-width="0.8"/>
<text x="42.50" y="649.20" font-size="6.2" text-anchor="end" fill="#231f20">10<tspan font-size="3.84" dy="-2.79">5</tspan></text>
<line x1="46.55" y1="662.50" x2="48.75" y2="662.50" stroke="#222" stroke-width="0.8"/>
<text x="42.50" y="664.70" font-size="6.2" text-anchor="end" fill="#231f20">10<tspan font-size="3.84" dy="-2.79">4</tspan></text>
<line x1="46.55" y1="680.50" x2="48.75" y2="680.50" stroke="#222" stroke-width="0.8"/>
<text x="42.50" y="682.95" font-size="6.2" text-anchor="end" fill="#231f20">10<tspan font-size="3.84" dy="-2.79">3</tspan></text>
<line x1="46.55" y1="696.50" x2="48.75" y2="696.50" stroke="#222" stroke-width="0.8"/>
<text x="42.50" y="698.45" font-size="6.2" text-anchor="end" fill="#231f20">0</text>
<line x1="52.50" y1="709.50" x2="52.50" y2="711.50" stroke="#222" stroke-width="0.8"/>
<text x="52.50" y="721.45" font-size="6.2" text-anchor="middle" fill="#231f20">-10<tspan font-size="3.72" dy="-2.60">3</tspan></text>
<line x1="63.50" y1="709.50" x2="63.50" y2="711.50" stroke="#222" stroke-width="0.8"/>
<text x="63.75" y="721.45" font-size="6.2" text-anchor="middle" fill="#231f20">0</text>
<line x1="74.50" y1="709.50" x2="74.50" y2="711.50" stroke="#222" stroke-width="0.8"/>
<text x="75.49" y="721.45" font-size="6.2" text-anchor="middle" fill="#231f20">10<tspan font-size="3.84" dy="-2.79">3</tspan></text>
<line x1="94.50" y1="709.50" x2="94.50" y2="711.50" stroke="#222" stroke-width="0.8"/>
<text x="95.49" y="721.45" font-size="6.2" text-anchor="middle" fill="#231f20">10<tspan font-size="3.84" dy="-2.79">4</tspan></text>
<line x1="111.50" y1="709.50" x2="111.50" y2="711.50" stroke="#222" stroke-width="0.8"/>
<text x="112.24" y="721.45" font-size="6.2" text-anchor="middle" fill="#231f20">10<tspan font-size="3.84" dy="-2.79">5</tspan></text>
<line x1="50.25" y1="709.50" x2="50.25" y2="710.60" stroke="#666" stroke-width="0.45"/>
<line x1="52.55" y1="709.50" x2="52.55" y2="710.60" stroke="#666" stroke-width="0.45"/>
<line x1="54.85" y1="709.50" x2="54.85" y2="710.60" stroke="#666" stroke-width="0.45"/>
<line x1="57.15" y1="709.50" x2="57.15" y2="710.60" stroke="#666" stroke-width="0.45"/>
<line x1="59.45" y1="709.50" x2="59.45" y2="710.60" stroke="#666" stroke-width="0.45"/>
<line x1="61.75" y1="709.50" x2="61.75" y2="710.60" stroke="#666" stroke-width="0.45"/>
<line x1="64.05" y1="709.50" x2="64.05" y2="710.60" stroke="#666" stroke-width="0.45"/>
<line x1="66.35" y1="709.50" x2="66.35" y2="710.60" stroke="#666" stroke-width="0.45"/>
<line x1="68.65" y1="709.50" x2="68.65" y2="710.60" stroke="#666" stroke-width="0.45"/>
<line x1="70.95" y1="709.50" x2="70.95" y2="710.60" stroke="#666" stroke-width="0.45"/>
<line x1="73.25" y1="709.50" x2="73.25" y2="710.60" stroke="#666" stroke-width="0.45"/>
<line x1="75.55" y1="709.50" x2="75.55" y2="710.60" stroke="#666" stroke-width="0.45"/>
<line x1="77.85" y1="709.50" x2="77.85" y2="710.60" stroke="#666" stroke-width="0.45"/>
<line x1="80.15" y1="709.50" x2="80.15" y2="710.60" stroke="#666" stroke-width="0.45"/>
<line x1="82.45" y1="709.50" x2="82.45" y2="710.60" stroke="#666" stroke-width="0.45"/>
<line x1="84.75" y1="709.50" x2="84.75" y2="710.60" stroke="#666" stroke-width="0.45"/>
<line x1="87.05" y1="709.50" x2="87.05" y2="710.60" stroke="#666" stroke-width="0.45"/>
<line x1="89.35" y1="709.50" x2="89.35" y2="710.60" stroke="#666" stroke-width="0.45"/>
<line x1="91.65" y1="709.50" x2="91.65" y2="710.60" stroke="#666" stroke-width="0.45"/>
<line x1="93.95" y1="709.50" x2="93.95" y2="710.60" stroke="#666" stroke-width="0.45"/>
<line x1="96.25" y1="709.50" x2="96.25" y2="710.60" stroke="#666" stroke-width="0.45"/>
<line x1="98.55" y1="709.50" x2="98.55" y2="710.60" stroke="#666" stroke-width="0.45"/>
<line x1="100.85" y1="709.50" x2="100.85" y2="710.60" stroke="#666" stroke-width="0.45"/>
<line x1="103.15" y1="709.50" x2="103.15" y2="710.60" stroke="#666" stroke-width="0.45"/>
<line x1="105.45" y1="709.50" x2="105.45" y2="710.60" stroke="#666" stroke-width="0.45"/>
<line x1="107.75" y1="709.50" x2="107.75" y2="710.60" stroke="#666" stroke-width="0.45"/>
<line x1="110.05" y1="709.50" x2="110.05" y2="710.60" stroke="#666" stroke-width="0.45"/>
<line x1="112.35" y1="709.50" x2="112.35" y2="710.60" stroke="#666" stroke-width="0.45"/>
<line x1="114.65" y1="709.50" x2="114.65" y2="710.60" stroke="#666" stroke-width="0.45"/>
<line x1="116.95" y1="709.50" x2="116.95" y2="710.60" stroke="#666" stroke-width="0.45"/>
<text x="0" y="0" font-size="8.3" text-anchor="middle" fill="#231f20" transform="translate(24.2 676.3) rotate(-90)" textLength="33" lengthAdjust="spacingAndGlyphs">NY-ESO1</text>
<text x="82.5" y="734.65" font-size="8.3" text-anchor="middle" fill="#231f20">CD8</text>
<path d="M80.6 686 C81.5 678.5 89.5 673.6 97 673.8 C104 674 109.2 679 109.6 688 C110 698 107 705 100 706.5 C93 707.6 85 706.6 82 702.2 C79.3 697.5 79.6 691 80.6 686 Z" fill="url(#ig)" stroke="#aaa" stroke-width="0.5"/>
<circle cx="99.20" cy="693.60" r="1.30" fill="#eee" stroke="none" stroke-width="1.0"/>
<line x1="97.00" y1="691.00" x2="101.00" y2="696.00" stroke="#ddd" stroke-width="0.8"/>
<circle cx="91.41" cy="670.81" r="0.60" fill="#1a1a1a" stroke="none" stroke-width="1.0"/>
<circle cx="85.82" cy="677.64" r="0.60" fill="#1a1a1a" stroke="none" stroke-width="1.0"/>
<circle cx="96.53" cy="675.40" r="0.60" fill="#1a1a1a" stroke="none" stroke-width="1.0"/>
<circle cx="95.88" cy="672.34" r="0.60" fill="#1a1a1a" stroke="none" stroke-width="1.0"/>
<circle cx="100.52" cy="674.26" r="0.60" fill="#1a1a1a" stroke="none" stroke-width="1.0"/>
<circle cx="101.81" cy="675.12" r="0.60" fill="#1a1a1a" stroke="none" stroke-width="1.0"/>
<circle cx="103.32" cy="672.89" r="0.60" fill="#1a1a1a" stroke="none" stroke-width="1.0"/>
<circle cx="85.53" cy="670.00" r="0.60" fill="#1a1a1a" stroke="none" stroke-width="1.0"/>
<circle cx="100.30" cy="670.18" r="0.60" fill="#1a1a1a" stroke="none" stroke-width="1.0"/>
<circle cx="98.52" cy="674.71" r="0.60" fill="#1a1a1a" stroke="none" stroke-width="1.0"/>
<circle cx="83.05" cy="676.34" r="0.60" fill="#1a1a1a" stroke="none" stroke-width="1.0"/>
<circle cx="82.36" cy="677.17" r="0.60" fill="#1a1a1a" stroke="none" stroke-width="1.0"/>
<circle cx="103.37" cy="670.66" r="0.60" fill="#1a1a1a" stroke="none" stroke-width="1.0"/>
<circle cx="100.38" cy="675.82" r="0.60" fill="#1a1a1a" stroke="none" stroke-width="1.0"/>
<circle cx="84.75" cy="675.20" r="0.60" fill="#1a1a1a" stroke="none" stroke-width="1.0"/>
<circle cx="84.72" cy="677.63" r="0.60" fill="#1a1a1a" stroke="none" stroke-width="1.0"/>
<circle cx="99.41" cy="678.30" r="0.60" fill="#1a1a1a" stroke="none" stroke-width="1.0"/>
<circle cx="82.89" cy="671.68" r="0.60" fill="#1a1a1a" stroke="none" stroke-width="1.0"/>
<circle cx="97.62" cy="674.58" r="0.60" fill="#1a1a1a" stroke="none" stroke-width="1.0"/>
<circle cx="86.23" cy="677.38" r="0.60" fill="#1a1a1a" stroke="none" stroke-width="1.0"/>
<circle cx="103.51" cy="671.51" r="0.60" fill="#1a1a1a" stroke="none" stroke-width="1.0"/>
<circle cx="85.29" cy="675.18" r="0.60" fill="#1a1a1a" stroke="none" stroke-width="1.0"/>
<circle cx="92.09" cy="675.13" r="0.60" fill="#1a1a1a" stroke="none" stroke-width="1.0"/>
<circle cx="94.32" cy="672.45" r="0.60" fill="#1a1a1a" stroke="none" stroke-width="1.0"/>
<circle cx="82.06" cy="669.85" r="0.60" fill="#1a1a1a" stroke="none" stroke-width="1.0"/>
<circle cx="93.42" cy="675.78" r="0.60" fill="#1a1a1a" stroke="none" stroke-width="1.0"/>
<circle cx="92.57" cy="675.94" r="0.60" fill="#1a1a1a" stroke="none" stroke-width="1.0"/>
<circle cx="95.53" cy="677.30" r="0.60" fill="#1a1a1a" stroke="none" stroke-width="1.0"/>
<circle cx="98.53" cy="671.72" r="0.60" fill="#1a1a1a" stroke="none" stroke-width="1.0"/>
<circle cx="85.11" cy="669.16" r="0.60" fill="#1a1a1a" stroke="none" stroke-width="1.0"/>
<circle cx="82.53" cy="677.12" r="0.60" fill="#1a1a1a" stroke="none" stroke-width="1.0"/>
<circle cx="104.24" cy="676.01" r="0.60" fill="#1a1a1a" stroke="none" stroke-width="1.0"/>
<circle cx="84.34" cy="675.11" r="0.60" fill="#1a1a1a" stroke="none" stroke-width="1.0"/>
<circle cx="84.82" cy="677.39" r="0.60" fill="#1a1a1a" stroke="none" stroke-width="1.0"/>
<circle cx="98.54" cy="676.00" r="0.60" fill="#1a1a1a" stroke="none" stroke-width="1.0"/>
<circle cx="97.34" cy="672.68" r="0.60" fill="#1a1a1a" stroke="none" stroke-width="1.0"/>
<circle cx="103.56" cy="678.12" r="0.60" fill="#1a1a1a" stroke="none" stroke-width="1.0"/>
<circle cx="87.79" cy="672.87" r="0.60" fill="#1a1a1a" stroke="none" stroke-width="1.0"/>
<circle cx="100.57" cy="675.30" r="0.60" fill="#1a1a1a" stroke="none" stroke-width="1.0"/>
<circle cx="92.18" cy="673.00" r="0.60" fill="#1a1a1a" stroke="none" stroke-width="1.0"/>
<circle cx="106.66" cy="671.26" r="0.60" fill="#1a1a1a" stroke="none" stroke-width="1.0"/>
<circle cx="87.00" cy="675.36" r="0.60" fill="#1a1a1a" stroke="none" stroke-width="1.0"/>
<circle cx="88.70" cy="677.47" r="0.60" fill="#1a1a1a" stroke="none" stroke-width="1.0"/>
<circle cx="89.97" cy="677.75" r="0.60" fill="#1a1a1a" stroke="none" stroke-width="1.0"/>
<circle cx="91.38" cy="677.35" r="0.60" fill="#1a1a1a" stroke="none" stroke-width="1.0"/>
<circle cx="101.03" cy="675.82" r="0.60" fill="#1a1a1a" stroke="none" stroke-width="1.0"/>
<circle cx="87.07" cy="670.14" r="0.60" fill="#1a1a1a" stroke="none" stroke-width="1.0"/>
<circle cx="82.31" cy="670.31" r="0.60" fill="#1a1a1a" stroke="none" stroke-width="1.0"/>
<circle cx="98.83" cy="669.14" r="0.60" fill="#1a1a1a" stroke="none" stroke-width="1.0"/>
<circle cx="87.67" cy="674.17" r="0.60" fill="#1a1a1a" stroke="none" stroke-width="1.0"/>
<circle cx="85.53" cy="671.79" r="0.60" fill="#1a1a1a" stroke="none" stroke-width="1.0"/>
<circle cx="87.44" cy="675.26" r="0.60" fill="#1a1a1a" stroke="none" stroke-width="1.0"/>
<circle cx="84.58" cy="678.48" r="0.60" fill="#1a1a1a" stroke="none" stroke-width="1.0"/>
<circle cx="97.07" cy="675.63" r="0.60" fill="#1a1a1a" stroke="none" stroke-width="1.0"/>
<circle cx="95.87" cy="673.48" r="0.60" fill="#1a1a1a" stroke="none" stroke-width="1.0"/>
<circle cx="106.74" cy="677.44" r="0.60" fill="#1a1a1a" stroke="none" stroke-width="1.0"/>
<circle cx="102.87" cy="668.80" r="0.60" fill="#1a1a1a" stroke="none" stroke-width="1.0"/>
<circle cx="96.83" cy="677.92" r="0.60" fill="#1a1a1a" stroke="none" stroke-width="1.0"/>
<circle cx="98.10" cy="673.63" r="0.60" fill="#1a1a1a" stroke="none" stroke-width="1.0"/>
<circle cx="98.39" cy="670.27" r="0.60" fill="#1a1a1a" stroke="none" stroke-width="1.0"/>
<circle cx="100.42" cy="676.34" r="0.60" fill="#1a1a1a" stroke="none" stroke-width="1.0"/>
<circle cx="83.36" cy="673.60" r="0.60" fill="#1a1a1a" stroke="none" stroke-width="1.0"/>
<circle cx="96.98" cy="672.02" r="0.60" fill="#1a1a1a" stroke="none" stroke-width="1.0"/>
<circle cx="99.22" cy="677.72" r="0.60" fill="#1a1a1a" stroke="none" stroke-width="1.0"/>
<circle cx="105.06" cy="671.58" r="0.60" fill="#1a1a1a" stroke="none" stroke-width="1.0"/>
<circle cx="85.45" cy="677.04" r="0.60" fill="#1a1a1a" stroke="none" stroke-width="1.0"/>
<circle cx="97.41" cy="676.80" r="0.60" fill="#1a1a1a" stroke="none" stroke-width="1.0"/>
<circle cx="104.09" cy="671.29" r="0.60" fill="#1a1a1a" stroke="none" stroke-width="1.0"/>
<circle cx="96.77" cy="671.53" r="0.60" fill="#1a1a1a" stroke="none" stroke-width="1.0"/>
<circle cx="102.23" cy="675.42" r="0.60" fill="#1a1a1a" stroke="none" stroke-width="1.0"/>
<circle cx="87.72" cy="673.50" r="0.60" fill="#1a1a1a" stroke="none" stroke-width="1.0"/>
<circle cx="96.95" cy="670.83" r="0.60" fill="#1a1a1a" stroke="none" stroke-width="1.0"/>
<circle cx="86.24" cy="673.24" r="0.60" fill="#1a1a1a" stroke="none" stroke-width="1.0"/>
<circle cx="83.37" cy="673.45" r="0.60" fill="#1a1a1a" stroke="none" stroke-width="1.0"/>
<circle cx="105.94" cy="676.76" r="0.60" fill="#1a1a1a" stroke="none" stroke-width="1.0"/>
<circle cx="88.23" cy="661.52" r="0.60" fill="#1a1a1a" stroke="none" stroke-width="1.0"/>
<circle cx="97.34" cy="657.85" r="0.60" fill="#1a1a1a" stroke="none" stroke-width="1.0"/>
<circle cx="91.89" cy="658.02" r="0.60" fill="#1a1a1a" stroke="none" stroke-width="1.0"/>
<circle cx="92.27" cy="660.23" r="0.60" fill="#1a1a1a" stroke="none" stroke-width="1.0"/>
<circle cx="92.83" cy="658.99" r="0.60" fill="#1a1a1a" stroke="none" stroke-width="1.0"/>
<circle cx="90.04" cy="659.61" r="0.60" fill="#1a1a1a" stroke="none" stroke-width="1.0"/>
<circle cx="87.22" cy="659.15" r="0.60" fill="#1a1a1a" stroke="none" stroke-width="1.0"/>
<circle cx="86.80" cy="661.92" r="0.60" fill="#1a1a1a" stroke="none" stroke-width="1.0"/>
<circle cx="92.70" cy="658.08" r="0.60" fill="#1a1a1a" stroke="none" stroke-width="1.0"/>
<circle cx="98.71" cy="656.81" r="0.60" fill="#1a1a1a" stroke="none" stroke-width="1.0"/>
<circle cx="98.56" cy="655.10" r="0.60" fill="#1a1a1a" stroke="none" stroke-width="1.0"/>
<circle cx="89.96" cy="660.71" r="0.60" fill="#1a1a1a" stroke="none" stroke-width="1.0"/>
<circle cx="102.92" cy="655.49" r="0.60" fill="#1a1a1a" stroke="none" stroke-width="1.0"/>
<circle cx="97.82" cy="655.59" r="0.60" fill="#1a1a1a" stroke="none" stroke-width="1.0"/>
<circle cx="88.68" cy="663.10" r="0.60" fill="#1a1a1a" stroke="none" stroke-width="1.0"/>
<circle cx="100.37" cy="655.70" r="0.60" fill="#1a1a1a" stroke="none" stroke-width="1.0"/>
<circle cx="98.96" cy="655.11" r="0.60" fill="#1a1a1a" stroke="none" stroke-width="1.0"/>
<circle cx="95.43" cy="656.16" r="0.60" fill="#1a1a1a" stroke="none" stroke-width="1.0"/>
<circle cx="87.47" cy="661.40" r="0.60" fill="#1a1a1a" stroke="none" stroke-width="1.0"/>
<circle cx="94.93" cy="657.20" r="0.60" fill="#1a1a1a" stroke="none" stroke-width="1.0"/>
<circle cx="100.13" cy="658.12" r="0.60" fill="#1a1a1a" stroke="none" stroke-width="1.0"/>
<circle cx="105.52" cy="656.26" r="0.60" fill="#1a1a1a" stroke="none" stroke-width="1.0"/>
<circle cx="104.60" cy="658.23" r="0.60" fill="#1a1a1a" stroke="none" stroke-width="1.0"/>
<circle cx="93.86" cy="660.24" r="0.60" fill="#1a1a1a" stroke="none" stroke-width="1.0"/>
<circle cx="91.85" cy="660.54" r="0.60" fill="#1a1a1a" stroke="none" stroke-width="1.0"/>
<circle cx="95.98" cy="659.77" r="0.60" fill="#1a1a1a" stroke="none" stroke-width="1.0"/>
<circle cx="94.79" cy="658.51" r="0.60" fill="#1a1a1a" stroke="none" stroke-width="1.0"/>
<circle cx="95.73" cy="658.29" r="0.60" fill="#1a1a1a" stroke="none" stroke-width="1.0"/>
<circle cx="101.37" cy="657.29" r="0.60" fill="#1a1a1a" stroke="none" stroke-width="1.0"/>
<circle cx="100.52" cy="654.24" r="0.60" fill="#1a1a1a" stroke="none" stroke-width="1.0"/>
<circle cx="97.94" cy="655.00" r="0.60" fill="#1a1a1a" stroke="none" stroke-width="1.0"/>
<circle cx="100.75" cy="653.18" r="0.60" fill="#1a1a1a" stroke="none" stroke-width="1.0"/>
<circle cx="104.26" cy="654.50" r="0.60" fill="#1a1a1a" stroke="none" stroke-width="1.0"/>
<circle cx="94.85" cy="659.33" r="0.60" fill="#1a1a1a" stroke="none" stroke-width="1.0"/>
<circle cx="85.66" cy="659.13" r="0.60" fill="#1a1a1a" stroke="none" stroke-width="1.0"/>
<circle cx="102.57" cy="657.97" r="0.60" fill="#1a1a1a" stroke="none" stroke-width="1.0"/>
<circle cx="96.21" cy="654.80" r="0.60" fill="#1a1a1a" stroke="none" stroke-width="1.0"/>
<circle cx="89.52" cy="658.25" r="0.60" fill="#1a1a1a" stroke="none" stroke-width="1.0"/>
<circle cx="89.46" cy="656.77" r="0.60" fill="#1a1a1a" stroke="none" stroke-width="1.0"/>
<circle cx="99.75" cy="659.11" r="0.60" fill="#1a1a1a" stroke="none" stroke-width="1.0"/>
<circle cx="100.75" cy="658.07" r="0.60" fill="#1a1a1a" stroke="none" stroke-width="1.0"/>
<circle cx="98.33" cy="654.13" r="0.60" fill="#1a1a1a" stroke="none" stroke-width="1.0"/>
<circle cx="104.46" cy="657.29" r="0.60" fill="#1a1a1a" stroke="none" stroke-width="1.0"/>
<circle cx="100.97" cy="659.13" r="0.60" fill="#1a1a1a" stroke="none" stroke-width="1.0"/>
<circle cx="104.95" cy="652.22" r="0.60" fill="#1a1a1a" stroke="none" stroke-width="1.0"/>
<circle cx="103.60" cy="654.94" r="0.60" fill="#1a1a1a" stroke="none" stroke-width="1.0"/>
<circle cx="93.95" cy="654.88" r="0.60" fill="#1a1a1a" stroke="none" stroke-width="1.0"/>
<circle cx="98.87" cy="654.23" r="0.60" fill="#1a1a1a" stroke="none" stroke-width="1.0"/>
<circle cx="104.92" cy="657.52" r="0.60" fill="#1a1a1a" stroke="none" stroke-width="1.0"/>
<circle cx="96.37" cy="656.94" r="0.60" fill="#1a1a1a" stroke="none" stroke-width="1.0"/>
<circle cx="82.60" cy="657.40" r="0.55" fill="#222" stroke="none" stroke-width="1.0"/>
<circle cx="85.50" cy="659.00" r="0.55" fill="#222" stroke="none" stroke-width="1.0"/>
<circle cx="84.50" cy="663.00" r="0.55" fill="#222" stroke="none" stroke-width="1.0"/>
<circle cx="111.80" cy="697.80" r="0.55" fill="#222" stroke="none" stroke-width="1.0"/>
<circle cx="82.50" cy="703.50" r="0.55" fill="#222" stroke="none" stroke-width="1.0"/>
<circle cx="85.00" cy="704.20" r="0.55" fill="#222" stroke="none" stroke-width="1.0"/>
<circle cx="101.00" cy="706.00" r="0.55" fill="#222" stroke="none" stroke-width="1.0"/>
<rect x="76.25" y="640.00" width="35.50" height="25.00" fill="none" stroke="#555" stroke-width="0.9"/>
<text x="104.00" y="647.57" font-size="5.0" text-anchor="middle" fill="#231f20">1.1</text>
<path d="M146.90 708.90 L148.00 706.00 L150.00 701.00 L152.80 697.30 L154.50 698.00 L156.00 700.50 L158.00 703.00 L160.00 704.50 L162.00 706.00 L164.00 704.50 L166.00 702.50 L168.50 702.10 L170.00 704.00 L172.00 704.20 L174.00 703.20 L176.00 704.50 L178.00 705.50 L179.50 703.00 L180.50 695.00 L181.90 691.50 L183.50 692.50 L185.00 693.00 L186.00 692.20 L187.50 696.00 L189.00 697.00 L191.00 697.50 L193.00 699.00 L195.00 702.50 L197.00 704.50 L199.00 706.00 L201.00 707.80 L203.00 707.00 L204.80 706.50 L206.00 708.00 L207.50 708.90 Z" fill="#a3002b" stroke="#8f0025" stroke-width="0.4"/>
<line x1="145.50" y1="639.40" x2="145.50" y2="708.90" stroke="#111" stroke-width="1.1"/>
<line x1="145.60" y1="708.50" x2="216.40" y2="708.50" stroke="#111" stroke-width="1.1"/>
<line x1="145.60" y1="639.50" x2="216.40" y2="639.50" stroke="#111" stroke-width="1.1"/>
<line x1="216.50" y1="639.40" x2="216.50" y2="708.90" stroke="#111" stroke-width="1.1"/>
<line x1="142.80" y1="708.50" x2="145.60" y2="708.50" stroke="#111" stroke-width="1.0"/>
<text x="141.30" y="711.03" font-size="6.0" text-anchor="end" fill="#231f20">0</text>
<line x1="142.80" y1="695.50" x2="145.60" y2="695.50" stroke="#111" stroke-width="1.0"/>
<text x="141.30" y="697.83" font-size="6.0" text-anchor="end" fill="#231f20">20</text>
<line x1="142.80" y1="682.50" x2="145.60" y2="682.50" stroke="#111" stroke-width="1.0"/>
<text x="141.30" y="684.63" font-size="6.0" text-anchor="end" fill="#231f20">40</text>
<line x1="142.80" y1="669.50" x2="145.60" y2="669.50" stroke="#111" stroke-width="1.0"/>
<text x="141.30" y="671.43" font-size="6.0" text-anchor="end" fill="#231f20">60</text>
<line x1="142.80" y1="656.50" x2="145.60" y2="656.50" stroke="#111" stroke-width="1.0"/>
<text x="141.30" y="658.23" font-size="6.0" text-anchor="end" fill="#231f20">80</text>
<line x1="142.80" y1="642.50" x2="145.60" y2="642.50" stroke="#111" stroke-width="1.0"/>
<text x="141.30" y="645.03" font-size="6.0" text-anchor="end" fill="#231f20">100</text>
<line x1="146.60" y1="708.90" x2="146.60" y2="710.10" stroke="#444" stroke-width="0.45"/>
<line x1="148.80" y1="708.90" x2="148.80" y2="710.10" stroke="#444" stroke-width="0.45"/>
<line x1="151.00" y1="708.90" x2="151.00" y2="710.10" stroke="#444" stroke-width="0.45"/>
<line x1="153.20" y1="708.90" x2="153.20" y2="710.10" stroke="#444" stroke-width="0.45"/>
<line x1="155.40" y1="708.90" x2="155.40" y2="710.10" stroke="#444" stroke-width="0.45"/>
<line x1="157.60" y1="708.90" x2="157.60" y2="710.10" stroke="#444" stroke-width="0.45"/>
<line x1="159.80" y1="708.90" x2="159.80" y2="710.10" stroke="#444" stroke-width="0.45"/>
<line x1="162.00" y1="708.90" x2="162.00" y2="710.10" stroke="#444" stroke-width="0.45"/>
<line x1="164.20" y1="708.90" x2="164.20" y2="710.10" stroke="#444" stroke-width="0.45"/>
<line x1="166.40" y1="708.90" x2="166.40" y2="710.10" stroke="#444" stroke-width="0.45"/>
<line x1="168.60" y1="708.90" x2="168.60" y2="710.10" stroke="#444" stroke-width="0.45"/>
<line x1="170.80" y1="708.90" x2="170.80" y2="710.10" stroke="#444" stroke-width="0.45"/>
<line x1="173.00" y1="708.90" x2="173.00" y2="710.10" stroke="#444" stroke-width="0.45"/>
<line x1="175.20" y1="708.90" x2="175.20" y2="710.10" stroke="#444" stroke-width="0.45"/>
<line x1="177.40" y1="708.90" x2="177.40" y2="710.10" stroke="#444" stroke-width="0.45"/>
<line x1="179.60" y1="708.90" x2="179.60" y2="710.10" stroke="#444" stroke-width="0.45"/>
<line x1="181.80" y1="708.90" x2="181.80" y2="710.10" stroke="#444" stroke-width="0.45"/>
<line x1="184.00" y1="708.90" x2="184.00" y2="710.10" stroke="#444" stroke-width="0.45"/>
<line x1="186.20" y1="708.90" x2="186.20" y2="710.10" stroke="#444" stroke-width="0.45"/>
<line x1="188.40" y1="708.90" x2="188.40" y2="710.10" stroke="#444" stroke-width="0.45"/>
<line x1="190.60" y1="708.90" x2="190.60" y2="710.10" stroke="#444" stroke-width="0.45"/>
<line x1="192.80" y1="708.90" x2="192.80" y2="710.10" stroke="#444" stroke-width="0.45"/>
<line x1="195.00" y1="708.90" x2="195.00" y2="710.10" stroke="#444" stroke-width="0.45"/>
<line x1="197.20" y1="708.90" x2="197.20" y2="710.10" stroke="#444" stroke-width="0.45"/>
<line x1="199.40" y1="708.90" x2="199.40" y2="710.10" stroke="#444" stroke-width="0.45"/>
<line x1="201.60" y1="708.90" x2="201.60" y2="710.10" stroke="#444" stroke-width="0.45"/>
<line x1="203.80" y1="708.90" x2="203.80" y2="710.10" stroke="#444" stroke-width="0.45"/>
<line x1="206.00" y1="708.90" x2="206.00" y2="710.10" stroke="#444" stroke-width="0.45"/>
<line x1="208.20" y1="708.90" x2="208.20" y2="710.10" stroke="#444" stroke-width="0.45"/>
<line x1="210.40" y1="708.90" x2="210.40" y2="710.10" stroke="#444" stroke-width="0.45"/>
<line x1="212.60" y1="708.90" x2="212.60" y2="710.10" stroke="#444" stroke-width="0.45"/>
<line x1="214.80" y1="708.90" x2="214.80" y2="710.10" stroke="#444" stroke-width="0.45"/>
<line x1="166.50" y1="708.90" x2="166.50" y2="711.30" stroke="#111" stroke-width="0.9"/>
<text x="166.30" y="721.16" font-size="5.8" text-anchor="middle" fill="#231f20">0</text>
<line x1="194.50" y1="708.90" x2="194.50" y2="711.30" stroke="#111" stroke-width="0.9"/>
<text x="194.93" y="721.16" font-size="5.8" text-anchor="middle" fill="#231f20">10<tspan font-size="3.60" dy="-2.61">4</tspan></text>
<line x1="210.50" y1="708.90" x2="210.50" y2="711.30" stroke="#111" stroke-width="0.9"/>
<text x="211.13" y="721.16" font-size="5.8" text-anchor="middle" fill="#231f20">10<tspan font-size="3.60" dy="-2.61">5</tspan></text>
<text x="181.40" y="734.25" font-size="8.3" text-anchor="middle" textLength="21" lengthAdjust="spacingAndGlyphs" fill="#231f20">TIGIT</text>
<line x1="145.60" y1="682.50" x2="177.90" y2="682.50" stroke="#111" stroke-width="0.9"/>
<line x1="177.50" y1="681.30" x2="177.50" y2="686.00" stroke="#111" stroke-width="0.9"/>
<line x1="177.90" y1="686.50" x2="216.40" y2="686.50" stroke="#111" stroke-width="0.9"/>
<text x="152.80" y="645.98" font-size="5.0" text-anchor="middle" fill="#231f20">46.5</text>
<text x="209.00" y="645.98" font-size="5.0" text-anchor="middle" fill="#231f20">53.5</text>
<text x="161.70" y="677.19" font-size="5.6" text-anchor="middle" fill="#231f20">46.5</text>
<text x="197.50" y="680.10" font-size="6.2" text-anchor="middle" fill="#231f20">53.5</text><rect x="0" y="0" width="520" height="1.5" fill="#1a1a1a"/><rect x="0" y="0" width="1.3" height="744" fill="#111"/><rect x="518.6" y="0" width="1.4" height="744" fill="#111"/><rect x="0" y="742.5" width="520" height="1.5" fill="#111"/></svg>
</body></html>
